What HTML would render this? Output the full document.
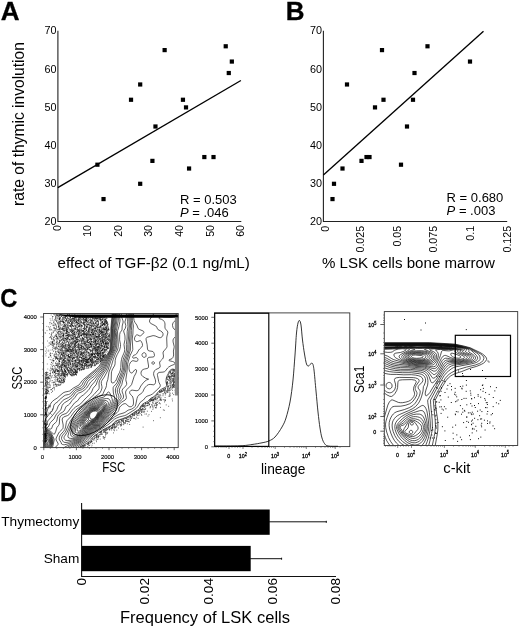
<!DOCTYPE html><html><head><meta charset="utf-8"><title>Figure</title>
<style>html,body{margin:0;padding:0;background:#fff}svg{display:block}text{font-family:"Liberation Sans",Arial,Helvetica,sans-serif;fill:#000}</style></head><body>
<svg width="520" height="629" viewBox="0 0 520 629">
<rect width="520" height="629" fill="#fff"/>
<text x="0.8" y="19.6" font-size="26" font-weight="bold" fill="#000" stroke="#000" stroke-width="0.3">A</text>
<path d="M57.9 30.7 V221.5 H241.3" fill="none" stroke="#222" stroke-width="1.1"/>
<text x="56.5" y="225.3" font-size="10.8" text-anchor="end">20</text>
<text x="56.5" y="187.1" font-size="10.8" text-anchor="end">30</text>
<text x="56.5" y="148.9" font-size="10.8" text-anchor="end">40</text>
<text x="56.5" y="110.7" font-size="10.8" text-anchor="end">50</text>
<text x="56.5" y="72.5" font-size="10.8" text-anchor="end">60</text>
<text x="56.5" y="34.3" font-size="10.8" text-anchor="end">70</text>
<text transform="translate(60.8,225.0) rotate(-90)" font-size="10.6" text-anchor="end">0</text>
<text transform="translate(91.3,225.0) rotate(-90)" font-size="10.6" text-anchor="end">10</text>
<text transform="translate(121.9,225.0) rotate(-90)" font-size="10.6" text-anchor="end">20</text>
<text transform="translate(152.4,225.0) rotate(-90)" font-size="10.6" text-anchor="end">30</text>
<text transform="translate(183.0,225.0) rotate(-90)" font-size="10.6" text-anchor="end">40</text>
<text transform="translate(213.6,225.0) rotate(-90)" font-size="10.6" text-anchor="end">50</text>
<text transform="translate(244.1,225.0) rotate(-90)" font-size="10.6" text-anchor="end">60</text>
<rect x="95.32" y="162.60" width="4.2" height="4.2" fill="#000"/>
<rect x="101.43" y="196.98" width="4.2" height="4.2" fill="#000"/>
<rect x="128.92" y="97.66" width="4.2" height="4.2" fill="#000"/>
<rect x="138.09" y="82.38" width="4.2" height="4.2" fill="#000"/>
<rect x="138.09" y="181.70" width="4.2" height="4.2" fill="#000"/>
<rect x="150.31" y="158.78" width="4.2" height="4.2" fill="#000"/>
<rect x="153.36" y="124.40" width="4.2" height="4.2" fill="#000"/>
<rect x="162.53" y="48.00" width="4.2" height="4.2" fill="#000"/>
<rect x="180.85" y="97.66" width="4.2" height="4.2" fill="#000"/>
<rect x="183.91" y="105.30" width="4.2" height="4.2" fill="#000"/>
<rect x="186.97" y="166.42" width="4.2" height="4.2" fill="#000"/>
<rect x="202.24" y="154.96" width="4.2" height="4.2" fill="#000"/>
<rect x="211.41" y="154.96" width="4.2" height="4.2" fill="#000"/>
<rect x="223.63" y="44.18" width="4.2" height="4.2" fill="#000"/>
<rect x="226.68" y="70.92" width="4.2" height="4.2" fill="#000"/>
<rect x="229.74" y="59.46" width="4.2" height="4.2" fill="#000"/>
<path d="M57.8 187.6 L240.9 80.5" stroke="#000" stroke-width="1.35" fill="none"/>
<text x="180" y="203.7" font-size="13">R = 0.503</text>
<text x="180" y="217.1" font-size="13"><tspan font-style="italic">P</tspan> = .046</text>
<text transform="translate(23.8,124) rotate(-90)" font-size="15.6" text-anchor="middle">rate of thymic involution</text>
<text x="57.6" y="267.8" font-size="15.2">effect of TGF-β2 (0.1 ng/mL)</text>
<text x="285.8" y="19.6" font-size="26" font-weight="bold" fill="#000" stroke="#000" stroke-width="0.3">B</text>
<path d="M323.4 30.7 V221.5 H507.2" fill="none" stroke="#222" stroke-width="1.1"/>
<text x="322.09999999999997" y="225.3" font-size="10.8" text-anchor="end">20</text>
<text x="322.09999999999997" y="187.1" font-size="10.8" text-anchor="end">30</text>
<text x="322.09999999999997" y="148.9" font-size="10.8" text-anchor="end">40</text>
<text x="322.09999999999997" y="110.7" font-size="10.8" text-anchor="end">50</text>
<text x="322.09999999999997" y="72.5" font-size="10.8" text-anchor="end">60</text>
<text x="322.09999999999997" y="34.3" font-size="10.8" text-anchor="end">70</text>
<text transform="translate(328.5,225.8) rotate(-90)" font-size="10.7" text-anchor="end">0</text>
<text transform="translate(363.8,225.8) rotate(-90)" font-size="10.7" text-anchor="end">0.025</text>
<text transform="translate(400.6,225.8) rotate(-90)" font-size="10.7" text-anchor="end">0.05</text>
<text transform="translate(437.4,225.8) rotate(-90)" font-size="10.7" text-anchor="end">0.075</text>
<text transform="translate(474.2,225.8) rotate(-90)" font-size="10.7" text-anchor="end">0.1</text>
<text transform="translate(511.0,225.8) rotate(-90)" font-size="10.7" text-anchor="end">0.125</text>
<rect x="330.40" y="196.98" width="4.2" height="4.2" fill="#000"/>
<rect x="331.90" y="181.70" width="4.2" height="4.2" fill="#000"/>
<rect x="340.40" y="166.42" width="4.2" height="4.2" fill="#000"/>
<rect x="344.90" y="82.38" width="4.2" height="4.2" fill="#000"/>
<rect x="359.40" y="158.78" width="4.2" height="4.2" fill="#000"/>
<rect x="364.40" y="154.96" width="4.2" height="4.2" fill="#000"/>
<rect x="367.40" y="154.96" width="4.2" height="4.2" fill="#000"/>
<rect x="372.90" y="105.30" width="4.2" height="4.2" fill="#000"/>
<rect x="379.90" y="48.00" width="4.2" height="4.2" fill="#000"/>
<rect x="381.40" y="97.66" width="4.2" height="4.2" fill="#000"/>
<rect x="398.90" y="162.60" width="4.2" height="4.2" fill="#000"/>
<rect x="404.90" y="124.40" width="4.2" height="4.2" fill="#000"/>
<rect x="410.90" y="97.66" width="4.2" height="4.2" fill="#000"/>
<rect x="412.40" y="70.92" width="4.2" height="4.2" fill="#000"/>
<rect x="425.40" y="44.18" width="4.2" height="4.2" fill="#000"/>
<rect x="467.90" y="59.46" width="4.2" height="4.2" fill="#000"/>
<path d="M323.4 175.1 L483.5 31.2" stroke="#000" stroke-width="1.35" fill="none"/>
<text x="446.6" y="202" font-size="13">R = 0.680</text>
<text x="446.6" y="215" font-size="13"><tspan font-style="italic">P</tspan> = .003</text>
<text x="408.4" y="268" font-size="15.1" text-anchor="middle">% LSK cells bone marrow</text>
<text transform="translate(0.2,306.8) scale(0.91,1)" font-size="26" font-weight="bold" fill="#000" stroke="#000" stroke-width="0.3">C</text>
<clipPath id="c1"><rect x="43.6" y="313.5" width="134.6" height="134.10000000000002"/></clipPath>
<g clip-path="url(#c1)">
<path d="M43.6 416.2 45.1 414.9 46.2 413.5 46.8 412.0 48.1 408.0 51.1 403.0 52.3 401.5 54.1 400.0 57.1 398.1 63.1 392.9 65.1 392.0 68.6 391.3 69.6 391.0 73.6 387.9 79.0 385.0 81.9 381.0 83.3 379.5 94.9 370.0 98.7 366.5 99.8 365.0 102.1 361.0 106.8 355.0 109.9 350.0 110.8 336.5 110.9 328.0 112.2 313.5M178.6 370.5 177.1 370.8 174.1 369.3 172.6 369.1 171.1 369.5 170.1 370.3 169.6 371.0 167.0 376.0 166.3 378.0 165.9 381.5 166.7 385.0 166.6 386.0 166.3 386.5 165.1 387.4 162.1 388.8 160.1 390.1 158.1 392.0 155.6 395.2 154.6 396.2 150.7 398.5 147.5 401.5 144.1 403.2 142.6 404.2 141.4 405.5 139.5 408.5 138.1 409.9 134.1 412.4 128.6 416.2 125.1 417.8 117.6 420.3 115.6 421.2 114.2 422.5 112.5 424.5 111.3 425.5 105.6 428.3 101.8 430.5 99.5 432.0 97.1 434.0 94.1 435.9 92.6 437.3 90.2 440.5 88.7 442.0 87.2 443.0 81.1 446.2 79.9 447.0 79.4 448.0M43.6 425.7 44.3 424.0 44.9 420.5 45.5 419.0 47.7 416.0 52.4 410.5 53.1 409.0 53.8 405.5 54.6 404.0 58.0 401.5 59.2 400.0 64.1 395.9 65.6 395.1 68.6 394.5 69.6 394.1 71.1 392.9 73.2 390.5 74.6 389.2 76.1 388.3 79.6 386.8 81.1 385.8 81.9 385.0 83.6 381.5 85.2 379.5 94.6 371.5 96.7 370.0 99.8 367.0 100.8 365.5 102.8 361.5 107.8 354.5 110.5 350.0 111.4 337.0 111.4 328.0 112.9 313.5M178.6 318.0 174.1 321.5 173.3 322.5 172.6 324.0 172.5 325.5 173.0 327.5 174.0 329.0 175.9 330.5 176.6 331.4 177.0 332.5 177.0 333.5 176.6 334.9 176.1 335.9 173.7 338.5 173.0 340.0 173.1 342.0 174.2 346.5 174.1 347.5 173.4 351.0 173.6 355.0 173.3 356.5 172.9 357.5 172.1 358.5 171.1 359.1 169.5 359.5 168.9 360.0 169.1 360.5 169.6 360.8 172.6 361.5 173.8 362.0 174.6 362.6 175.0 363.5 174.8 364.0 174.1 364.5 171.1 365.6 168.6 367.1 167.6 368.0 165.6 370.8 164.6 371.6 163.1 372.1 159.1 372.4 158.1 373.0 157.7 373.5 157.4 374.5 157.5 375.5 158.7 381.5 159.1 382.7 160.3 385.0 160.3 385.5 160.3 386.0 159.8 387.0 157.9 389.0 152.6 393.9 150.6 395.0 147.1 396.2 145.6 397.2 143.4 400.0 141.1 401.6 140.1 402.5 137.4 407.0 136.1 408.5 134.9 409.5 126.2 415.0 124.6 415.6 119.1 417.0 116.6 418.0 114.6 419.1 109.0 424.0 98.2 431.0 94.1 434.0 92.1 435.8 89.1 439.4 87.4 441.0 77.6 447.0 77.1 448.0M43.6 429.1 46.0 426.0 47.4 422.0 48.2 420.5 53.1 414.8 55.6 411.5 56.9 409.5 58.2 406.0 62.6 400.7 64.1 399.6 68.6 397.5 70.6 396.2 71.9 395.0 74.1 391.9 75.6 390.4 77.1 389.6 81.1 388.1 82.6 387.0 84.1 385.0 85.4 382.0 87.2 379.5 88.8 378.0 92.6 375.3 96.0 372.0 98.7 370.0 101.5 366.5 103.9 361.5 107.9 355.5 111.0 350.0 112.0 337.5 111.9 328.5 113.5 313.5M176.5 313.5 176.2 314.5 175.3 315.5 173.7 316.5 172.3 317.0 170.6 317.2 163.6 317.0 162.6 316.7 160.6 315.5 160.1 315.7 159.1 318.0 159.1 318.5 159.6 318.8 161.6 319.3 162.6 319.8 164.1 321.4 164.7 322.5 165.0 324.0 164.9 327.0 165.1 328.3 165.6 329.1 167.3 331.0 167.8 332.0 167.8 333.0 167.0 336.0 166.7 338.0 167.0 346.5 166.7 347.5 166.2 348.5 164.1 350.5 163.2 352.0 163.0 353.0 163.5 356.0 163.2 358.0 162.5 359.0 160.4 361.0 159.7 362.0 159.6 363.0 160.2 366.0 160.1 367.0 159.2 368.0 155.6 369.7 154.6 370.7 153.9 372.0 153.6 373.5 153.7 375.0 155.3 379.5 155.6 381.0 155.5 382.5 154.9 384.0 154.4 384.5 153.6 384.8 150.1 384.4 148.6 384.6 147.1 385.4 145.5 387.0 144.1 388.9 143.0 391.5 142.3 392.5 141.1 393.6 138.6 395.3 137.7 396.5 137.0 398.5 135.7 405.0 135.0 406.5 133.6 408.0 131.6 409.1 128.1 410.2 125.1 412.3 124.1 412.8 119.1 414.3 114.6 416.8 103.1 426.3 96.8 430.5 94.1 432.6 88.1 438.3 85.6 440.5 83.1 442.2 75.2 447.0 74.4 448.0M153.9 364.0 154.6 363.0 154.5 362.5 153.6 361.8 153.1 361.8 152.3 362.0 152.0 362.5 152.1 363.7 152.6 364.2 153.1 364.3 153.9 364.0M43.6 430.8 45.1 429.2 48.1 427.0 48.8 426.0 49.6 423.9 50.4 422.5 54.1 418.9 55.4 416.0 56.6 414.0 60.6 410.0 61.1 409.0 62.1 405.6 63.1 404.0 64.6 402.7 68.1 400.6 72.1 397.5 73.4 396.0 75.3 393.0 76.6 391.7 78.1 390.9 81.6 389.7 84.1 388.0 86.3 385.0 87.6 382.0 89.1 380.0 94.1 376.3 97.6 372.5 100.4 370.0 102.5 367.0 104.9 361.5 108.6 355.5 111.6 350.0 112.6 338.0 112.5 328.5 114.2 313.5M153.6 313.5 153.1 315.0 150.8 318.0 149.9 319.5 149.5 321.0 149.6 322.0 150.1 322.8 150.9 323.5 155.8 326.0 156.7 327.0 157.5 329.0 158.1 329.7 160.6 330.9 162.1 332.0 163.0 333.5 163.0 335.0 162.6 336.0 162.1 336.7 161.6 337.1 160.6 337.6 159.1 337.6 155.1 335.9 153.1 335.6 147.1 337.3 146.6 337.6 146.1 338.4 146.1 340.0 147.1 344.5 147.5 349.0 147.9 350.0 148.2 350.5 149.1 350.9 152.1 351.3 153.1 351.7 153.6 352.3 154.1 353.4 154.5 355.5 154.1 356.5 153.1 357.0 149.1 357.3 148.4 357.5 147.8 358.0 147.5 359.5 148.6 366.0 148.4 367.5 148.1 368.0 147.1 368.5 144.5 369.0 143.1 369.5 141.8 370.5 141.1 372.0 141.0 373.5 141.3 374.5 141.8 375.5 142.6 376.3 145.6 378.2 147.1 378.7 148.7 379.0 148.2 379.5 147.1 379.7 146.1 380.2 143.6 382.4 140.8 386.0 139.1 389.5 138.1 390.3 137.1 390.7 136.1 390.7 132.1 390.1 130.8 390.5 129.9 391.5 129.6 392.5 129.8 393.5 130.1 394.0 132.2 396.0 132.7 397.0 133.0 398.0 133.4 400.0 133.5 403.0 133.4 404.0 133.1 405.1 132.4 406.0 131.7 406.5 130.1 406.8 129.1 406.6 128.1 406.0 126.6 404.3 125.6 403.7 124.1 403.7 122.6 404.5 120.7 406.0 119.8 407.0 119.3 408.0 118.7 410.5 118.1 411.5 117.2 412.5 113.6 415.4 110.3 418.5 107.1 421.1 102.6 425.4 94.6 431.0 89.1 436.0 82.9 441.0 72.8 447.0 71.9 448.0M145.5 357.0 145.9 356.5 146.1 356.0 146.0 354.5 145.6 353.5 145.2 353.0 144.6 352.7 143.1 353.0 142.5 353.5 142.0 354.5 142.1 355.5 142.5 356.5 143.1 357.0 144.1 357.4 145.5 357.0M43.6 432.0 45.1 430.4 46.6 429.5 48.1 429.1 50.9 429.0 51.6 428.5 52.9 425.0 53.9 424.0 55.6 422.6 56.5 421.5 57.0 420.0 57.7 416.5 58.6 414.9 60.1 413.6 62.8 412.0 64.0 411.0 64.6 410.0 65.8 407.0 66.6 406.1 68.6 404.9 69.6 404.0 72.0 400.5 74.9 397.5 77.3 394.0 78.6 393.1 81.1 392.2 82.6 391.4 85.1 389.5 86.7 388.0 90.6 382.1 94.6 378.4 99.5 372.5 101.9 370.0 103.1 368.1 104.1 366.2 106.2 361.0 109.4 355.5 112.3 350.0 113.3 338.5 113.1 329.0 114.5 318.0 114.8 313.5M133.4 313.5 133.6 317.2 134.1 320.6 135.1 322.7 136.8 325.0 138.1 328.5 139.1 329.3 143.1 331.0 143.7 331.5 144.0 332.0 143.9 332.5 142.8 334.0 140.6 335.8 139.6 335.9 137.6 334.9 136.6 334.9 135.6 335.7 134.6 337.7 134.5 339.0 134.6 339.8 135.1 340.7 135.6 341.2 136.6 341.6 137.6 341.5 140.1 340.6 140.6 340.7 141.1 341.2 142.3 343.5 142.5 345.5 141.8 347.0 139.6 349.0 138.8 350.0 136.6 353.8 135.6 354.6 133.6 355.4 132.8 356.5 132.7 357.5 133.1 358.1 133.6 358.2 136.1 357.5 137.1 358.0 137.6 358.5 138.0 359.5 137.9 360.5 137.1 361.2 136.1 361.4 133.1 360.7 132.1 360.9 130.6 362.2 129.4 364.5 129.0 366.5 129.0 369.0 129.6 371.2 130.1 372.2 130.6 372.7 131.1 373.0 132.1 372.9 132.6 372.5 134.6 370.0 135.6 369.5 136.1 369.6 136.5 370.0 136.6 371.0 136.1 372.9 134.1 376.6 131.6 384.5 130.4 386.0 126.9 389.5 125.9 391.0 125.6 392.0 125.6 393.0 126.4 397.5 126.0 399.0 125.1 400.0 121.6 402.2 119.6 403.9 117.7 406.5 116.0 410.5 115.1 411.9 109.5 417.5 106.1 420.5 101.6 425.0 94.6 430.0 89.1 434.9 85.6 437.5 81.6 440.8 70.4 447.0 69.5 448.0M43.6 433.1 44.6 431.8 45.6 431.0 47.1 430.3 48.1 430.3 49.6 430.6 50.6 431.2 53.6 434.2 54.1 434.2 54.6 433.9 55.6 431.8 56.9 427.5 58.6 425.4 59.1 424.5 59.4 423.0 59.6 418.4 60.0 417.0 60.6 416.1 62.1 414.9 65.9 413.5 67.4 412.5 69.9 409.0 74.6 402.9 77.6 400.8 80.4 397.0 83.6 394.8 88.1 390.5 89.3 389.0 91.0 386.0 94.6 381.9 97.4 377.5 103.3 370.0 104.9 367.0 107.4 360.5 113.0 350.0 113.6 345.5 114.1 339.0 113.8 329.5 115.3 318.5 115.6 313.5M132.2 313.5 132.4 320.5 133.4 326.0 133.0 330.0 132.9 334.0 132.2 339.0 132.8 349.5 132.5 350.5 130.1 355.5 128.1 362.0 127.6 364.2 126.9 372.5 125.8 379.5 126.0 381.0 126.7 383.0 126.6 384.5 125.7 386.0 122.7 389.0 122.1 390.5 122.2 392.0 123.2 394.5 123.5 396.0 123.5 397.0 123.3 398.0 122.6 399.0 119.6 401.8 117.6 404.3 116.5 406.0 114.9 409.5 113.9 411.0 109.0 416.5 101.1 424.4 94.6 429.1 89.1 434.0 84.8 437.0 81.1 440.1 79.1 441.3 67.8 447.0 67.1 448.0M55.4 448.0 55.4 447.0 57.3 445.5 58.0 444.5 58.2 444.0 57.9 443.0 56.1 440.0 56.0 439.0 56.2 438.0 58.7 433.0 59.6 431.8 62.1 429.5 62.8 428.5 63.1 427.5 63.2 425.0 62.2 420.0 62.3 419.0 62.6 418.0 63.6 417.0 67.6 415.5 69.1 414.5 72.4 410.0 73.8 408.5 75.6 407.0 79.1 405.0 80.6 403.9 85.0 399.0 90.6 393.6 91.6 392.0 93.0 388.5 94.1 387.0 96.0 385.0 97.6 380.5 98.6 378.5 103.1 372.0 104.7 370.0 105.7 368.0 108.2 361.0 110.8 356.0 112.7 352.0 113.8 350.0 114.5 345.5 114.9 339.5 114.5 330.0 116.0 319.5 116.3 313.5M131.2 313.5 131.3 320.5 131.8 326.0 131.3 330.5 131.3 334.5 130.4 346.0 130.4 350.0 126.7 361.5 125.8 370.0 124.8 374.0 122.8 380.0 121.8 384.5 120.0 388.0 119.3 390.0 119.4 392.0 121.1 396.0 121.1 397.0 120.8 398.0 117.1 403.0 113.1 410.0 108.1 416.0 100.5 424.0 94.1 428.7 88.6 433.5 84.2 436.5 80.1 439.8 78.1 440.9 65.1 446.8 64.7 447.0 64.4 448.0M43.6 434.1 44.6 432.7 45.6 431.8 46.6 431.3 47.6 431.1 48.6 431.2 49.6 431.7 50.6 432.5 51.7 434.0 53.7 438.0 54.2 440.0 52.9 446.0 52.5 447.0 51.8 448.0M130.2 313.5 130.2 321.0 130.6 326.0 130.0 330.5 129.9 336.0 129.1 345.0 129.1 350.0 128.0 354.0 125.6 360.6 125.3 362.5 124.7 369.0 123.9 372.5 121.2 379.5 119.9 384.0 118.1 387.5 117.4 389.5 117.3 391.0 117.5 392.5 118.7 395.5 118.9 396.5 118.9 397.5 118.5 398.5 116.1 402.5 113.4 407.5 112.1 409.5 106.9 416.0 101.5 422.0 99.1 424.3 93.6 428.3 88.6 432.7 83.7 436.0 80.6 438.5 79.1 439.5 71.6 442.6 67.1 444.1 64.6 444.7 63.6 444.7 62.6 444.5 61.6 444.0 61.1 442.5 59.5 440.0 59.2 439.0 59.3 437.5 59.8 436.0 60.6 434.6 63.6 431.3 64.8 429.5 65.6 427.0 66.3 422.5 67.1 420.5 70.6 416.8 74.0 412.0 75.3 410.5 77.0 409.0 82.1 405.5 86.1 401.8 88.4 400.0 94.0 394.5 96.1 392.0 98.1 390.0 99.0 388.5 99.2 387.5 99.0 383.0 99.6 380.5 104.1 373.0 106.3 370.0 107.5 367.0 109.4 361.0 111.9 356.0 113.6 352.0 114.8 350.0 115.6 346.0 115.8 340.5 115.8 337.5 115.3 332.5 115.3 330.5 117.0 320.0 117.2 313.5M43.6 435.2 44.6 433.6 45.6 432.6 46.6 432.1 47.6 431.9 48.6 432.1 49.6 432.6 50.6 433.7 51.5 435.0 52.8 438.5 53.0 441.0 52.3 445.0 51.5 447.0 50.8 448.0M129.2 313.5 129.0 321.0 129.4 326.0 128.8 331.0 128.6 337.0 127.8 344.5 127.9 350.0 126.8 354.0 124.4 360.0 124.1 362.0 123.7 368.0 123.3 370.0 122.6 372.4 120.0 379.0 118.6 383.1 116.2 387.0 115.6 388.5 115.4 390.0 115.5 392.0 115.8 393.5 116.7 396.0 116.8 397.5 116.2 399.5 113.9 404.5 111.8 408.0 107.4 414.0 100.6 422.0 98.5 424.0 93.1 427.9 88.1 432.3 83.2 435.5 79.6 438.3 77.6 439.4 71.6 441.3 68.6 442.1 66.1 442.5 64.1 442.3 63.6 442.1 63.1 441.5 61.8 439.5 61.5 438.5 61.7 437.0 62.6 435.2 64.9 432.5 65.9 431.0 68.9 424.0 70.4 421.0 71.7 419.0 76.5 412.5 78.2 410.5 86.6 403.4 91.2 400.0 94.1 397.4 98.8 394.0 100.1 392.5 101.2 390.5 102.0 388.0 101.9 386.5 101.3 383.5 101.4 381.5 102.1 380.2 104.3 377.0 108.0 370.0 110.6 361.5 114.6 352.3 116.0 350.0 116.5 348.0 116.8 345.0 116.8 339.5 116.2 331.5 118.3 320.5 118.2 313.5M43.6 436.4 44.3 435.0 45.1 433.8 46.1 433.0 47.1 432.7 48.1 432.7 49.1 433.2 50.1 434.1 51.1 435.5 52.2 438.5 52.4 441.5 52.1 443.5 51.5 445.5 50.7 447.0 49.9 448.0M45.2 448.0 44.4 447.0 43.6 445.4M128.1 313.5 127.6 321.5 128.0 326.5 127.2 331.5 127.1 338.0 126.3 344.5 126.5 350.0 125.6 353.5 123.8 357.5 123.2 359.5 122.8 361.5 122.5 367.5 122.0 370.0 121.2 372.5 117.1 382.5 116.1 384.0 113.7 386.5 113.2 387.5 113.1 389.0 113.4 393.0 114.4 397.0 114.5 398.5 113.8 401.5 112.6 404.5 111.2 407.0 106.8 413.5 100.2 421.5 98.1 423.5 92.7 427.5 88.1 431.5 82.7 435.0 79.4 437.5 77.6 438.5 75.1 439.3 70.1 440.3 67.6 440.5 65.6 440.3 64.7 439.5 64.1 438.5 64.0 437.5 64.3 436.5 67.0 432.5 71.7 422.0 74.0 418.5 79.9 411.0 87.1 404.5 95.6 398.4 102.1 394.9 103.1 393.6 104.6 390.1 105.8 388.0 106.5 385.5 106.6 383.0 107.8 379.5 109.0 372.0 111.5 365.5 113.2 359.5 115.6 353.3 117.5 350.0 118.1 347.5 118.3 345.0 117.5 332.0 117.7 330.5 118.9 326.5 119.9 321.5 120.0 320.0 119.5 316.0 119.5 313.5M43.6 437.8 44.3 436.0 45.1 434.7 46.1 433.8 47.1 433.5 48.1 433.5 49.1 434.0 50.1 435.1 50.9 436.5 51.8 439.5 51.9 441.0 51.7 443.0 51.3 444.5 50.6 446.1 49.6 447.4 48.7 448.0M46.2 448.0 45.5 447.5 44.6 446.4 43.6 444.1M126.5 313.5 126.1 318.0 124.9 322.0 125.8 325.5 125.7 327.0 125.1 328.7 123.8 330.5 123.7 331.0 123.8 332.0 124.8 335.0 125.0 337.0 125.0 339.5 124.0 344.5 124.7 349.5 124.6 351.0 124.0 353.0 122.2 357.0 121.5 359.5 121.1 362.0 120.8 367.5 120.4 370.0 119.6 372.3 117.7 376.0 116.6 379.1 115.6 381.0 114.1 382.4 113.1 382.9 112.1 383.0 111.6 382.5 111.2 380.5 111.4 373.0 111.6 371.5 112.6 369.0 114.4 366.0 114.8 365.0 115.1 363.5 115.2 360.5 115.7 358.0 117.1 354.7 119.6 350.0 120.5 346.5 120.5 344.5 119.6 339.8 119.7 334.5 120.2 332.5 122.0 330.0 122.2 326.0 123.2 322.0 122.9 320.5 121.6 317.0 121.3 315.0 121.3 313.5M72.6 438.5 70.6 438.4 68.8 438.0 68.0 437.0 67.9 436.0 69.1 431.5 70.0 429.0 72.8 422.5 74.7 419.5 81.6 411.0 87.6 405.4 89.6 403.9 97.1 399.2 99.6 398.1 103.1 397.3 104.6 396.6 105.7 395.5 107.6 392.4 108.1 392.0 108.6 392.0 109.1 392.1 109.6 392.7 110.1 393.7 112.1 398.8 112.3 400.0 112.3 401.5 111.7 403.5 110.8 405.5 107.1 411.5 105.4 414.0 100.2 420.5 98.3 422.5 96.5 424.0 92.3 427.0 87.6 431.1 78.1 437.4 75.6 438.2 72.6 438.5M43.6 440.4 44.1 437.7 45.1 435.7 46.1 434.7 46.6 434.4 47.6 434.2 48.4 434.5 49.1 434.9 50.3 436.5 51.1 438.5 51.4 441.0 51.1 443.5 50.2 445.5 49.1 446.9 47.6 447.5 46.1 447.1 45.0 446.0 44.0 444.0 43.6 441.5M76.1 437.1 74.6 437.2 73.1 437.1 72.1 436.7 71.2 436.0 70.7 435.0 70.6 434.0 70.9 431.0 73.4 424.0 74.4 422.0 82.6 411.5 85.5 408.5 88.6 405.8 97.6 400.4 100.6 399.3 106.6 398.5 108.1 398.6 109.1 399.1 110.1 400.5 110.4 401.5 110.3 403.0 109.5 405.0 107.0 410.0 105.6 412.4 99.3 420.5 96.8 423.0 92.1 426.4 87.1 430.6 82.1 433.7 78.6 436.1 76.1 437.1M48.1 446.5 47.1 446.6 46.6 446.5 45.6 445.8 44.6 444.0 44.1 441.9 44.2 439.5 44.7 437.5 45.7 436.0 46.3 435.5 47.1 435.2 47.6 435.1 48.6 435.5 49.5 436.5 50.3 438.0 50.9 440.0 50.8 442.0 50.3 444.0 49.5 445.5 48.1 446.5M75.6 436.0 74.1 435.8 73.1 435.2 72.6 434.5 72.2 433.0 72.4 430.5 74.2 425.0 75.0 423.0 76.0 421.5 84.8 410.5 87.6 407.8 89.8 406.0 99.1 401.0 101.6 400.4 104.1 400.3 106.1 400.6 107.6 401.4 108.3 402.5 108.3 404.0 107.6 406.5 106.1 410.0 104.3 413.0 98.1 420.9 96.1 422.8 92.1 425.6 86.6 430.2 78.1 435.3 76.6 435.9 75.6 436.0M48.1 445.6 47.1 445.7 45.9 445.0 45.1 443.8 44.6 441.9 44.6 440.0 45.1 438.1 46.1 436.6 47.1 436.1 48.1 436.2 49.1 437.1 49.9 438.5 50.3 440.0 50.3 442.0 49.9 443.5 49.1 444.8 48.1 445.6M76.6 434.6 75.6 434.6 74.6 434.1 74.2 433.5 73.9 432.5 74.0 430.0 75.6 424.5 77.1 422.0 86.1 410.5 88.6 408.1 90.6 406.6 99.1 402.3 100.6 401.8 102.6 401.6 104.6 401.9 105.7 402.5 106.4 403.5 106.7 405.0 106.1 407.5 105.2 410.0 103.7 412.5 97.6 420.5 95.6 422.3 91.6 425.1 86.6 429.3 78.2 434.0 76.6 434.6M48.1 444.5 47.1 444.7 46.1 444.0 45.5 443.0 45.2 441.5 45.2 440.0 45.6 438.7 46.1 437.9 47.1 437.2 48.1 437.4 48.6 437.8 49.1 438.5 49.6 440.0 49.7 441.5 49.5 442.5 49.1 443.5 48.1 444.5M77.6 433.0 76.6 433.1 76.1 433.0 75.6 432.5 75.3 431.5 75.6 429.0 76.6 424.9 78.0 422.5 85.0 413.0 87.1 410.5 89.1 408.6 91.1 407.2 96.1 405.1 99.6 403.2 101.1 402.7 102.6 402.7 103.9 403.0 104.7 403.5 105.3 404.5 105.5 406.0 105.1 408.0 104.4 410.0 103.1 412.3 97.1 420.2 95.6 421.7 91.6 424.4 86.6 428.5 84.6 429.7 77.6 433.0M47.6 443.7 47.1 443.6 46.6 443.4 46.1 442.7 45.8 441.5 45.8 440.5 46.1 439.2 46.6 438.5 47.1 438.3 47.6 438.2 48.1 438.5 48.6 439.1 49.1 440.5 49.1 441.5 48.8 442.5 48.1 443.4 47.6 443.7M79.1 431.0 78.1 431.2 77.6 431.1 77.1 430.1 77.3 427.0 78.0 424.5 78.8 423.0 85.5 413.5 87.5 411.0 89.1 409.4 91.1 408.0 92.6 407.3 96.2 406.0 100.0 404.0 102.1 403.6 103.6 404.2 104.3 405.0 104.6 406.5 104.4 408.0 103.8 410.0 102.6 412.0 96.7 420.0 95.0 421.5 91.1 424.1 86.6 427.9 84.1 429.1 79.1 431.0M48.1 442.0 47.6 442.4 47.1 442.4 46.6 441.7 46.5 440.5 47.1 439.5 47.6 439.5 48.1 440.0 48.3 441.0 48.1 442.0M81.1 429.0 80.1 429.0 79.6 428.7 79.2 428.0 78.9 426.5 79.3 424.5 81.3 421.0 86.6 413.0 88.3 411.0 89.9 409.5 91.6 408.4 96.6 406.7 100.1 404.9 101.6 404.6 102.6 404.9 103.1 405.3 103.6 406.0 103.8 407.0 103.6 408.5 103.1 410.0 102.1 411.8 96.6 419.5 94.6 421.2 90.6 423.9 86.6 427.2 84.1 428.4 81.1 429.0M84.6 427.6 82.6 427.8 81.4 427.5 81.0 427.0 80.5 426.0 80.5 424.5 81.1 423.0 81.9 421.5 88.1 412.0 90.1 410.0 92.1 408.8 96.6 407.5 100.6 405.7 101.6 405.7 102.2 406.0 102.7 406.5 103.0 407.5 103.0 408.5 102.5 410.0 101.7 411.5 96.6 418.8 94.6 420.7 90.6 423.2 87.1 426.3 84.6 427.6M85.6 426.6 84.1 426.9 82.6 426.6 81.8 425.5 81.8 424.0 82.8 421.5 85.2 418.0 87.3 414.0 88.6 412.2 90.6 410.3 92.6 409.2 97.1 408.0 100.1 406.9 101.1 406.9 101.6 407.1 102.1 407.9 102.2 408.5 102.1 409.5 101.7 410.5 96.4 418.5 94.6 420.2 90.7 422.5 87.4 425.5 85.6 426.6M85.1 426.1 84.1 426.1 83.2 425.5 82.8 424.5 83.0 423.0 83.7 421.5 86.3 418.0 88.0 414.0 89.4 412.0 91.1 410.5 93.3 409.5 99.6 408.1 100.6 408.1 101.0 408.5 101.2 409.5 100.7 411.0 97.1 416.8 95.6 418.8 94.1 420.0 90.1 422.3 87.1 425.1 86.1 425.7 85.1 426.1M86.1 425.1 85.1 425.3 84.2 425.0 83.8 424.0 83.9 423.0 84.6 421.5 87.2 418.5 88.4 414.5 89.6 412.5 91.3 411.0 93.5 410.0 98.6 409.3 99.8 409.5 100.1 410.0 99.7 411.5 97.1 416.1 95.6 418.2 93.6 419.8 90.1 421.4 87.6 424.0 86.1 425.1M86.1 424.1 85.6 424.2 85.2 424.0 85.0 423.5 85.1 422.9 85.6 422.0 86.1 421.5 88.0 420.5 88.5 420.0 88.7 415.5 89.3 414.0 90.3 412.5 91.6 411.4 93.6 410.6 96.6 410.2 98.4 410.5 98.8 411.0 98.8 411.5 98.5 412.5 96.6 416.0 95.2 418.0 94.1 418.9 93.1 419.5 89.1 420.6 88.6 421.2 87.5 423.0 86.1 424.1M92.6 419.0 91.6 419.1 90.9 419.0 90.0 418.0 89.5 416.0 89.6 415.0 90.1 413.7 91.1 412.5 93.1 411.3 95.6 411.0 97.1 411.3 97.6 411.9 97.6 412.5 97.1 414.0 96.1 416.0 94.6 417.9 93.6 418.6 92.6 419.0" fill="none" stroke="#111" stroke-width="0.68"/>
<path d="M59.8 375.0h0.65M88.3 321.2h0.65M83.0 347.8h0.65M102.0 324.9h0.65M64.0 370.9h0.65M88.3 332.3h0.65M81.9 345.9h0.65M71.2 330.9h0.65M47.1 382.9h0.65M91.4 351.1h0.65M49.2 381.2h0.65M103.1 356.4h0.65M77.5 362.3h0.65M88.8 353.5h0.65M92.7 316.5h0.65M60.7 365.2h0.65M65.2 354.8h0.65M63.9 356.3h0.65M64.6 338.9h0.65M59.9 335.0h0.65M90.1 325.4h0.65M59.0 327.6h0.65M99.3 334.6h0.65M97.2 352.7h0.65M62.0 352.8h0.65M71.8 359.9h0.65M105.2 338.9h0.65M78.3 346.4h0.65M78.7 360.4h0.65M84.4 352.3h0.65M95.6 353.4h0.65M78.9 361.4h0.65M100.4 323.7h0.65M65.0 349.3h0.65M67.9 335.4h0.65M69.2 323.0h0.65M95.6 356.6h0.65M85.1 362.4h0.65M74.5 341.5h0.65M89.9 322.0h0.65M61.4 366.0h0.65M81.3 325.6h0.65M102.1 334.1h0.65M99.5 327.6h0.65M96.7 318.1h0.65M105.6 320.9h0.65M60.1 334.2h0.65M70.1 355.2h0.65M67.2 360.9h0.65M78.2 368.2h0.65M103.2 330.7h0.65M78.2 363.7h0.65M56.4 344.0h0.65M82.7 349.3h0.65M82.6 343.9h0.65M55.5 354.4h0.65M100.5 358.9h0.65M100.3 341.1h0.65M61.2 335.0h0.65M64.8 361.5h0.65M63.4 354.0h0.65M66.2 362.9h0.65M94.0 347.1h0.65M79.4 326.7h0.65M85.7 334.1h0.65M86.8 365.3h0.65M92.8 354.3h0.65M94.7 353.7h0.65M70.7 374.7h0.65M51.6 344.3h0.65M92.0 334.7h0.65M83.1 330.4h0.65M89.3 347.6h0.65M76.5 372.7h0.65M56.9 373.4h0.65M85.2 319.7h0.65M59.5 322.7h0.65M105.3 350.2h0.65M89.9 329.1h0.65M76.1 326.2h0.65M79.5 361.3h0.65M64.2 366.1h0.65M91.5 355.1h0.65M53.6 365.6h0.65M57.9 333.1h0.65M55.2 317.1h0.65M55.2 369.0h0.65M90.4 319.7h0.65M58.6 324.6h0.65M55.0 383.8h0.65M63.9 342.0h0.65M66.9 324.5h0.65M55.4 318.1h0.65M106.4 323.8h0.65M100.1 326.9h0.65M105.2 333.6h0.65M68.0 360.5h0.65M61.9 333.0h0.65M69.6 368.6h0.65M90.9 316.6h0.65M66.1 355.5h0.65M51.1 377.8h0.65M82.7 315.3h0.65M107.8 338.7h0.65M79.4 335.1h0.65M49.4 406.5h0.65M102.9 323.6h0.65M57.7 374.4h0.65M92.0 322.7h0.65M76.0 322.0h0.65M92.5 361.4h0.65M84.0 338.0h0.65M72.5 323.4h0.65M104.7 346.7h0.65M63.5 372.2h0.65M72.6 352.7h0.65M93.3 346.2h0.65M63.9 360.1h0.65M68.7 332.1h0.65M74.6 373.0h0.65M62.9 365.9h0.65M97.3 347.3h0.65M55.1 319.6h0.65M66.4 319.7h0.65M96.9 360.9h0.65M97.3 341.7h0.65M80.5 345.3h0.65M71.4 372.1h0.65M71.0 353.4h0.65M107.3 331.4h0.65M78.5 360.2h0.65M84.5 317.4h0.65M80.3 368.7h0.65M106.2 349.6h0.65M62.7 328.7h0.65M59.3 336.4h0.65M61.8 375.2h0.65M79.3 356.9h0.65M62.6 328.7h0.65M64.8 316.4h0.65M81.6 366.0h0.65M73.3 373.9h0.65M99.4 332.8h0.65M94.5 324.4h0.65M73.2 330.4h0.65M65.4 370.8h0.65M65.1 354.2h0.65M61.9 327.8h0.65M92.3 352.2h0.65M74.0 367.6h0.65M78.9 363.5h0.65M95.3 320.7h0.65M68.3 338.1h0.65M68.0 347.7h0.65M70.4 355.8h0.65M84.6 329.6h0.65M65.3 345.7h0.65M89.1 327.5h0.65M69.1 367.3h0.65M83.6 323.5h0.65M56.3 344.7h0.65M77.8 362.5h0.65M87.6 362.9h0.65M66.0 360.9h0.65M102.3 336.6h0.65M50.0 385.9h0.65M81.9 323.6h0.65M92.7 336.8h0.65M72.6 349.0h0.65M101.5 338.2h0.65M105.8 327.4h0.65M70.3 337.8h0.65M55.9 342.1h0.65M89.8 352.1h0.65M58.7 363.6h0.65M84.2 333.7h0.65M70.1 374.5h0.65M85.5 363.6h0.65M89.3 338.9h0.65M82.5 326.1h0.65M73.6 369.2h0.65M98.4 336.8h0.65M93.4 346.7h0.65M67.2 367.7h0.65M81.2 357.2h0.65M80.6 349.8h0.65M55.5 358.2h0.65M57.4 370.6h0.65M70.3 321.4h0.65M75.5 362.7h0.65M107.5 334.9h0.65M77.8 336.4h0.65M61.9 371.0h0.65M61.1 375.0h0.65M69.7 319.2h0.65M86.3 337.7h0.65M68.7 318.9h0.65M92.7 330.7h0.65M102.3 329.5h0.65M84.4 343.5h0.65M65.7 339.2h0.65M96.8 352.7h0.65M71.5 324.7h0.65M83.5 346.5h0.65M81.6 343.7h0.65M72.2 348.6h0.65M71.4 315.3h0.65M103.7 319.4h0.65M64.2 367.0h0.65M64.2 328.9h0.65M81.0 357.8h0.65M83.7 317.2h0.65M92.7 342.9h0.65M61.1 354.1h0.65M75.5 336.7h0.65M84.4 341.1h0.65M81.3 352.1h0.65M62.1 338.6h0.65M92.0 325.6h0.65M75.6 356.4h0.65M72.6 336.4h0.65M104.3 335.8h0.65M108.6 329.5h0.65M103.3 327.7h0.65M106.4 346.8h0.65M71.9 349.4h0.65M105.2 342.5h0.65M106.6 349.5h0.65M108.3 345.6h0.65M102.5 341.3h0.65M105.8 339.7h0.65M66.1 348.0h0.65M70.4 370.9h0.65M80.9 327.1h0.65M70.4 352.7h0.65M83.2 342.1h0.65M66.8 333.0h0.65M70.9 351.5h0.65M75.9 327.5h0.65M69.3 371.8h0.65M68.9 354.5h0.65M76.8 364.6h0.65M51.7 411.1h0.65M96.5 343.2h0.65M69.1 326.0h0.65M107.9 338.3h0.65M73.5 372.5h0.65M62.7 340.3h0.65M69.8 372.3h0.65M65.1 351.7h0.65M95.2 347.2h0.65M83.3 359.4h0.65M72.5 338.3h0.65M86.9 365.4h0.65M76.7 372.6h0.65M98.8 335.5h0.65M91.0 336.7h0.65M81.4 346.5h0.65M82.6 369.7h0.65M78.3 352.5h0.65M80.5 354.7h0.65M67.0 314.8h0.65M82.4 340.7h0.65M85.9 320.9h0.65M53.5 346.0h0.65M82.3 330.7h0.65M108.3 343.9h0.65M99.7 318.8h0.65M68.4 362.1h0.65M67.6 370.9h0.65M97.8 355.5h0.65M84.6 339.6h0.65M57.0 377.9h0.65M102.3 332.5h0.65M94.1 357.9h0.65M87.1 337.6h0.65M87.7 356.4h0.65M62.5 335.8h0.65M78.6 355.9h0.65M100.3 317.5h0.65M52.4 372.9h0.65M69.5 372.7h0.65M94.2 323.3h0.65M85.2 349.3h0.65M83.0 353.0h0.65M85.4 350.1h0.65M96.3 336.5h0.65M98.1 337.2h0.65M71.5 338.9h0.65M57.1 363.9h0.65M77.1 331.2h0.65M86.5 345.1h0.65M98.2 353.7h0.65M55.5 384.3h0.65M80.8 361.7h0.65M102.9 339.4h0.65M107.2 344.0h0.65M96.7 359.8h0.65M90.1 346.7h0.65M48.7 343.0h0.65M91.2 357.1h0.65M54.4 375.3h0.65M92.8 349.9h0.65M97.6 330.1h0.65M83.1 358.6h0.65M84.3 343.1h0.65M82.6 346.4h0.65M84.5 356.1h0.65M95.7 331.3h0.65M48.8 384.6h0.65M100.0 347.9h0.65M103.2 329.3h0.65M50.5 322.3h0.65M100.6 341.7h0.65M66.6 367.4h0.65M98.2 355.8h0.65M66.7 333.8h0.65M101.6 328.6h0.65M77.2 358.6h0.65M66.0 348.0h0.65M90.7 335.8h0.65M82.2 368.1h0.65M66.5 330.7h0.65M99.0 344.7h0.65M56.0 363.7h0.65M53.9 372.6h0.65M79.5 338.3h0.65M51.3 329.4h0.65M62.7 346.0h0.65M50.0 373.1h0.65M74.0 344.6h0.65M90.2 320.4h0.65M69.0 370.7h0.65M87.5 342.6h0.65M67.3 338.8h0.65M60.0 350.7h0.65M61.2 352.9h0.65M83.9 363.9h0.65M93.9 353.3h0.65M72.9 363.3h0.65M73.6 323.5h0.65M54.3 340.9h0.65M62.1 364.9h0.65M67.2 335.6h0.65M78.5 358.7h0.65M65.4 338.3h0.65M83.6 324.0h0.65M105.9 328.7h0.65M100.5 348.1h0.65M85.3 345.1h0.65M83.6 366.0h0.65M84.0 363.9h0.65M74.8 317.5h0.65M98.5 327.5h0.65M99.9 355.9h0.65M85.3 348.0h0.65M95.3 336.6h0.65M106.1 340.6h0.65M105.3 343.5h0.65M77.6 367.0h0.65M63.3 319.0h0.65M93.5 329.0h0.65M46.4 349.0h0.65M62.1 380.1h0.65M60.5 324.6h0.65M106.2 321.9h0.65M85.5 359.3h0.65M64.0 345.1h0.65M91.8 365.1h0.65M96.9 348.0h0.65M86.9 353.3h0.65M101.9 358.9h0.65M97.5 356.1h0.65M69.6 336.5h0.65M56.7 379.6h0.65M72.9 371.4h0.65M63.6 322.2h0.65M94.8 344.5h0.65M92.3 350.4h0.65M66.3 366.9h0.65M75.1 370.9h0.65M78.8 322.1h0.65M50.9 357.2h0.65M73.3 350.7h0.65M62.2 371.7h0.65M100.4 355.4h0.65M89.8 341.2h0.65M85.5 344.2h0.65M62.9 333.5h0.65M83.4 368.6h0.65M57.5 371.0h0.65M57.2 365.0h0.65M49.6 324.0h0.65M64.6 334.1h0.65M54.0 355.3h0.65M97.8 353.4h0.65M64.1 371.4h0.65M99.5 353.2h0.65M55.7 384.2h0.65M99.8 345.3h0.65M90.9 365.8h0.65M64.9 375.8h0.65M83.9 334.6h0.65M108.9 339.7h0.65M75.2 370.5h0.65M100.7 339.6h0.65M64.3 340.2h0.65M63.1 373.7h0.65M91.8 358.8h0.65M53.5 382.4h0.65M58.5 317.1h0.65M66.1 333.7h0.65M68.7 343.2h0.65M85.9 343.0h0.65M87.9 352.2h0.65M93.5 348.1h0.65M58.8 346.7h0.65M67.6 350.9h0.65M90.2 349.5h0.65M75.1 361.1h0.65M51.2 333.9h0.65M63.5 338.9h0.65M59.3 380.8h0.65M79.2 368.8h0.65M92.3 343.1h0.65M59.0 342.0h0.65M44.9 353.9h0.65M73.1 333.8h0.65M64.3 330.2h0.65M77.3 329.1h0.65M106.9 326.2h0.65M95.2 328.9h0.65M72.7 316.8h0.65M87.6 359.4h0.65M56.5 342.4h0.65M68.4 349.9h0.65M72.3 358.3h0.65M81.5 369.3h0.65M71.3 332.8h0.65M90.8 344.1h0.65M77.8 369.6h0.65M69.3 315.8h0.65M63.2 334.2h0.65M76.5 371.8h0.65M59.6 333.5h0.65M87.2 349.4h0.65M55.7 328.6h0.65M79.9 367.4h0.65M76.8 363.0h0.65M93.5 333.3h0.65M99.4 354.0h0.65M66.1 354.5h0.65M73.4 326.6h0.65M61.7 352.4h0.65M57.0 315.3h0.65M93.0 360.1h0.65M94.4 343.5h0.65M78.4 353.1h0.65M79.3 323.2h0.65M87.2 319.2h0.65M62.1 364.0h0.65M75.9 370.7h0.65M62.0 367.1h0.65M71.2 355.4h0.65M68.3 337.9h0.65M98.0 348.0h0.65M67.6 341.1h0.65M104.2 339.8h0.65M83.8 320.0h0.65M79.4 352.1h0.65M97.7 350.6h0.65M68.3 334.6h0.65M81.2 342.2h0.65M61.4 354.5h0.65M60.2 383.0h0.65M91.5 362.2h0.65M97.8 349.7h0.65M62.4 321.1h0.65M97.9 326.1h0.65M63.2 337.4h0.65M95.6 350.2h0.65M83.9 341.7h0.65M88.8 337.8h0.65M90.8 344.6h0.65M69.3 357.1h0.65M63.4 322.4h0.65M93.9 353.9h0.65M102.2 357.1h0.65M58.5 384.1h0.65M100.8 334.0h0.65M100.4 361.7h0.65M101.0 359.9h0.65M55.2 373.7h0.65M100.3 333.7h0.65M83.0 352.3h0.65M96.3 351.3h0.65M86.0 351.7h0.65M58.3 346.6h0.65M105.3 324.7h0.65M87.7 327.6h0.65M91.5 330.0h0.65M67.1 362.1h0.65M102.8 318.5h0.65M48.5 351.2h0.65M54.7 382.8h0.65M81.6 353.6h0.65M70.5 375.3h0.65M63.5 358.8h0.65M68.8 353.3h0.65M107.2 347.4h0.65M78.3 320.6h0.65M74.8 351.4h0.65M68.6 360.9h0.65M71.4 351.9h0.65M86.7 340.0h0.65M99.2 330.6h0.65M62.6 372.2h0.65M90.0 344.7h0.65M60.9 316.4h0.65M99.3 349.9h0.65M68.2 367.3h0.65M69.8 349.1h0.65M76.3 322.2h0.65M86.7 340.9h0.65M83.1 353.7h0.65M65.9 330.1h0.65M84.5 344.7h0.65M98.0 339.1h0.65M103.9 349.7h0.65M103.1 346.5h0.65M83.8 358.7h0.65M58.7 342.6h0.65M73.0 357.5h0.65M75.7 353.1h0.65M68.3 367.0h0.65M107.7 328.4h0.65M94.7 340.7h0.65M68.4 366.0h0.65M59.5 353.0h0.65M55.7 370.8h0.65M102.5 356.6h0.65M106.3 322.8h0.65M82.8 343.4h0.65M95.5 323.8h0.65M81.0 347.8h0.65M75.2 361.3h0.65M106.8 339.8h0.65M73.3 358.2h0.65M89.9 332.2h0.65M99.9 361.9h0.65M71.6 323.0h0.65M55.3 352.4h0.65M50.2 326.7h0.65M108.0 348.5h0.65M89.8 335.0h0.65M87.5 360.0h0.65M69.0 348.9h0.65M103.6 316.3h0.65M90.6 334.1h0.65M76.0 375.0h0.65M55.6 315.5h0.65M109.1 334.9h0.65M97.0 320.9h0.65M100.4 317.6h0.65M82.5 353.9h0.65M92.6 363.3h0.65M55.0 348.9h0.65M72.3 333.7h0.65M59.0 316.6h0.65M82.1 338.7h0.65M66.3 331.5h0.65M85.3 328.4h0.65M95.0 345.5h0.65M58.1 326.0h0.65M74.3 317.9h0.65M72.0 354.3h0.65M102.6 359.7h0.65M84.8 359.7h0.65M95.3 353.2h0.65M84.9 316.9h0.65M84.8 359.4h0.65M85.6 318.9h0.65M65.0 320.9h0.65M66.8 357.6h0.65M63.4 343.8h0.65M75.2 359.9h0.65M102.7 355.6h0.65M71.4 357.2h0.65M98.7 331.8h0.65M79.0 336.2h0.65M76.9 370.2h0.65M91.0 332.4h0.65M59.0 361.2h0.65M59.2 349.4h0.65M51.9 341.5h0.65M72.5 340.9h0.65M79.0 330.1h0.65M71.7 371.1h0.65M70.2 363.8h0.65M49.7 384.8h0.65M75.6 355.3h0.65M79.8 348.6h0.65M86.6 317.7h0.65M76.3 353.0h0.65M104.8 347.8h0.65M67.1 320.2h0.65M96.6 347.4h0.65M49.8 370.6h0.65M57.6 350.7h0.65M59.1 318.8h0.65M108.8 330.2h0.65M79.4 368.4h0.65M48.7 387.5h0.65M99.6 343.4h0.65M75.2 371.4h0.65M66.7 330.9h0.65M94.7 338.0h0.65M72.0 360.9h0.65M91.6 339.6h0.65M66.0 332.1h0.65M83.6 344.5h0.65M92.2 323.7h0.65M84.6 339.4h0.65M99.7 316.5h0.65M83.4 331.9h0.65M96.6 357.9h0.65M67.5 369.0h0.65M58.6 326.6h0.65M98.5 355.1h0.65M63.3 381.6h0.65M58.6 373.0h0.65M91.8 341.6h0.65M73.2 350.0h0.65M57.7 343.6h0.65M101.2 324.4h0.65M54.0 388.3h0.65M71.4 369.8h0.65M102.1 332.6h0.65M104.8 329.4h0.65M97.5 353.3h0.65M69.4 368.4h0.65M78.6 330.1h0.65M92.3 330.3h0.65M90.7 359.9h0.65M52.4 388.6h0.65M91.7 326.1h0.65M99.7 338.1h0.65M57.7 381.5h0.65M99.9 355.1h0.65M101.0 326.2h0.65M57.4 379.4h0.65M105.0 343.3h0.65M89.5 349.4h0.65M53.8 348.6h0.65M59.2 331.7h0.65M64.2 341.1h0.65M72.0 318.7h0.65M72.4 335.7h0.65M83.9 342.8h0.65M65.5 340.9h0.65M73.8 345.4h0.65M103.1 340.3h0.65M57.4 332.6h0.65M65.2 315.5h0.65M104.8 319.6h0.65M75.2 335.8h0.65M60.2 358.5h0.65M88.5 361.3h0.65M88.0 353.0h0.65M64.1 337.4h0.65M62.0 328.4h0.65M64.9 367.1h0.65M104.5 341.3h0.65M85.4 349.8h0.65M64.2 360.1h0.65M88.4 320.7h0.65M67.8 354.3h0.65M93.8 350.7h0.65M101.1 316.8h0.65M99.3 346.9h0.65M98.7 320.7h0.65M100.5 360.3h0.65M62.0 370.6h0.65M60.3 378.5h0.65M65.2 316.9h0.65M87.3 336.0h0.65M88.2 362.4h0.65M67.1 358.2h0.65M89.9 316.7h0.65M61.1 345.7h0.65M61.0 321.3h0.65M63.2 379.6h0.65M74.2 360.2h0.65M61.0 377.4h0.65M65.7 356.3h0.65M102.1 350.5h0.65M84.0 366.5h0.65M91.3 341.9h0.65M55.9 320.5h0.65M88.6 358.5h0.65M105.9 329.7h0.65M103.0 334.3h0.65M51.4 338.2h0.65M106.7 347.1h0.65M64.1 363.9h0.65M100.6 350.8h0.65M62.4 363.9h0.65M70.7 335.8h0.65M90.3 343.9h0.65M96.5 331.9h0.65M54.1 336.2h0.65M86.5 364.2h0.65M96.5 347.0h0.65M83.2 347.1h0.65M93.2 318.9h0.65M66.3 339.4h0.65M82.3 344.1h0.65M62.3 378.5h0.65M103.3 352.9h0.65M90.1 319.3h0.65M99.2 329.7h0.65M107.1 334.5h0.65M52.3 320.0h0.65M50.1 344.5h0.65M64.4 363.2h0.65M91.3 339.6h0.65M74.3 319.6h0.65M62.3 361.7h0.65M66.6 320.3h0.65M85.3 345.8h0.65M69.2 356.5h0.65M66.3 335.6h0.65M75.1 365.1h0.65M79.7 330.7h0.65M92.0 348.0h0.65M57.9 326.2h0.65M80.1 357.5h0.65M62.6 322.0h0.65M89.9 327.8h0.65M74.8 318.8h0.65M89.5 324.5h0.65M76.7 352.7h0.65M71.6 366.8h0.65M71.0 345.9h0.65M74.1 334.4h0.65M77.8 345.0h0.65M74.3 319.8h0.65M51.5 332.6h0.65M53.6 368.7h0.65M64.7 324.2h0.65M109.3 335.4h0.65M89.9 357.3h0.65M82.4 339.9h0.65M100.9 332.2h0.65M80.8 362.1h0.65M74.0 356.3h0.65M105.6 321.8h0.65M55.8 354.8h0.65M53.6 382.5h0.65M81.7 325.5h0.65M95.8 360.4h0.65M102.9 339.5h0.65M64.9 366.0h0.65M91.0 355.7h0.65M62.0 349.9h0.65M65.6 352.2h0.65M60.8 370.2h0.65M53.7 325.9h0.65M52.0 366.6h0.65M64.1 365.7h0.65M99.2 360.1h0.65M106.7 333.4h0.65M97.0 325.6h0.65M92.3 338.4h0.65M72.5 315.9h0.65M91.9 352.9h0.65M68.7 344.8h0.65M82.3 365.5h0.65M92.7 321.0h0.65M95.7 350.5h0.65M103.8 339.9h0.65M65.9 362.1h0.65M94.8 343.0h0.65M75.9 367.8h0.65M84.7 353.1h0.65M78.5 345.7h0.65M62.6 373.4h0.65M85.8 360.5h0.65M96.9 321.3h0.65M49.6 377.2h0.65M73.1 328.8h0.65M108.3 340.2h0.65M97.0 337.2h0.65M57.7 342.7h0.65M61.8 357.8h0.65M63.6 373.0h0.65M86.1 356.7h0.65M56.6 354.5h0.65M72.4 339.8h0.65M62.6 352.9h0.65M106.7 318.5h0.65M58.9 370.7h0.65M80.1 363.8h0.65M90.1 350.9h0.65M108.1 347.6h0.65M83.0 356.1h0.65M105.8 328.8h0.65M82.0 352.7h0.65M68.5 362.5h0.65M73.2 361.1h0.65M89.2 341.9h0.65M96.2 353.9h0.65M66.0 362.2h0.65M63.4 374.8h0.65M104.4 338.0h0.65M100.5 319.9h0.65M66.8 329.7h0.65M70.5 350.2h0.65M77.6 330.9h0.65M66.1 316.3h0.65M103.5 341.6h0.65M68.4 364.5h0.65M73.2 369.8h0.65M89.5 347.0h0.65M61.4 328.9h0.65M85.2 345.7h0.65M79.6 339.8h0.65M86.5 361.6h0.65M77.7 341.2h0.65M62.6 342.1h0.65M77.0 356.7h0.65M45.3 419.9h0.65M73.6 346.9h0.65M61.4 381.6h0.65M95.9 348.6h0.65M65.7 329.2h0.65M72.9 319.9h0.65M67.8 315.8h0.65M101.8 334.8h0.65M86.0 330.6h0.65M97.9 352.0h0.65M100.8 343.5h0.65M96.3 347.2h0.65M73.3 337.4h0.65M96.6 354.5h0.65M86.1 332.8h0.65M96.7 318.7h0.65M68.2 356.2h0.65M83.1 320.3h0.65M104.3 346.4h0.65M75.8 372.2h0.65M45.3 351.2h0.65M76.0 357.5h0.65M72.3 355.8h0.65M109.4 339.7h0.65M98.2 354.9h0.65M81.2 352.4h0.65M66.0 351.2h0.65M85.4 328.3h0.65M94.4 342.0h0.65M49.4 343.0h0.65M91.9 354.3h0.65M102.7 324.0h0.65M86.5 362.4h0.65M107.0 322.5h0.65M55.9 353.5h0.65M83.9 358.7h0.65M82.8 358.3h0.65M57.7 348.9h0.65M67.4 349.6h0.65M81.3 350.2h0.65M89.1 330.9h0.65M56.1 357.8h0.65M89.8 325.0h0.65M59.6 375.3h0.65M63.3 360.1h0.65M108.5 333.4h0.65M106.0 330.5h0.65M98.1 361.6h0.65M73.8 354.3h0.65M82.7 349.3h0.65M68.5 334.9h0.65M59.2 360.8h0.65M65.0 374.8h0.65M101.8 345.6h0.65M65.7 326.7h0.65M89.1 355.6h0.65M73.4 373.6h0.65M105.3 321.9h0.65M88.4 340.4h0.65M87.9 329.6h0.65M96.2 340.7h0.65M65.1 350.3h0.65M80.2 356.7h0.65M94.1 360.9h0.65M88.6 336.1h0.65M76.7 357.5h0.65M91.9 337.3h0.65M93.8 346.7h0.65M94.7 344.9h0.65M53.2 351.5h0.65M91.1 347.1h0.65M71.5 315.1h0.65M108.5 328.9h0.65M84.7 354.2h0.65M107.2 323.3h0.65M100.1 319.5h0.65M107.5 341.8h0.65M68.8 360.3h0.65M100.6 353.1h0.65M101.8 322.4h0.65M71.5 370.0h0.65M92.5 326.8h0.65M104.7 323.4h0.65M83.5 360.3h0.65M98.4 324.5h0.65M86.3 360.0h0.65M60.3 343.6h0.65M90.7 323.3h0.65M95.5 333.6h0.65M104.9 347.5h0.65M63.9 345.8h0.65M75.3 341.3h0.65M80.8 322.4h0.65M56.7 336.1h0.65M64.1 369.7h0.65M73.6 338.0h0.65M67.6 327.3h0.65M61.5 339.5h0.65M55.4 317.0h0.65M74.1 355.3h0.65M70.4 364.9h0.65M84.1 327.8h0.65M91.0 360.7h0.65M74.6 340.8h0.65M52.3 366.1h0.65M64.6 365.5h0.65M53.3 332.5h0.65M97.5 324.0h0.65M84.4 363.7h0.65M63.3 319.2h0.65M70.9 373.0h0.65M60.4 354.7h0.65M108.2 329.0h0.65M57.9 368.0h0.65M61.0 379.3h0.65M107.1 348.5h0.65M60.3 325.1h0.65M55.5 357.2h0.65M51.8 343.5h0.65M81.2 366.9h0.65M78.9 350.9h0.65M50.2 379.0h0.65M77.7 334.2h0.65M65.2 325.7h0.65M86.1 315.8h0.65M82.2 354.5h0.65M64.3 347.2h0.65M108.3 342.9h0.65M47.7 346.2h0.65M83.2 333.5h0.65M58.2 366.5h0.65M80.6 362.4h0.65M67.2 350.6h0.65M76.7 337.5h0.65M69.9 367.2h0.65M70.8 343.6h0.65M67.0 359.2h0.65M62.3 362.5h0.65M102.2 334.2h0.65M77.5 356.2h0.65M74.2 364.5h0.65M86.5 320.7h0.65M90.0 340.3h0.65M77.7 345.1h0.65M54.9 372.2h0.65M104.4 351.9h0.65M88.5 337.4h0.65M72.3 316.9h0.65M83.8 368.8h0.65M92.0 320.3h0.65M62.8 333.4h0.65M81.3 364.4h0.65M64.5 376.2h0.65M76.8 362.9h0.65M71.2 353.7h0.65M78.7 319.6h0.65M86.8 338.0h0.65M60.9 373.8h0.65M96.7 316.8h0.65M77.8 319.4h0.65M65.1 371.9h0.65M86.5 355.7h0.65M73.8 350.7h0.65M76.8 321.2h0.65M58.7 328.9h0.65M89.5 354.7h0.65M99.3 362.3h0.65M105.5 323.0h0.65M100.5 321.0h0.65M76.3 320.1h0.65M81.4 343.5h0.65M106.7 343.8h0.65M91.3 332.4h0.65M91.3 329.3h0.65M71.5 361.6h0.65M57.5 355.1h0.65M60.4 318.5h0.65M106.6 348.0h0.65M84.8 324.2h0.65M72.2 338.4h0.65M84.8 331.6h0.65M54.1 389.8h0.65M60.4 314.6h0.65M107.5 346.5h0.65M97.6 337.3h0.65M55.3 320.4h0.65M58.6 356.1h0.65M91.3 360.9h0.65M105.6 344.8h0.65M105.7 333.5h0.65M70.2 349.1h0.65M64.8 338.7h0.65M90.7 339.6h0.65M50.6 341.7h0.65M89.9 364.8h0.65M73.7 375.6h0.65M80.9 364.2h0.65M107.8 330.0h0.65M64.7 360.6h0.65M81.5 319.2h0.65M69.4 344.9h0.65M77.2 366.3h0.65M71.2 343.9h0.65M102.0 340.9h0.65M63.4 322.5h0.65M51.1 365.0h0.65M99.3 330.4h0.65M64.0 347.0h0.65M79.3 368.6h0.65M79.6 351.7h0.65M75.1 329.3h0.65M106.1 320.6h0.65M103.0 356.0h0.65M90.1 355.0h0.65M68.3 347.1h0.65M72.9 329.9h0.65M87.9 361.9h0.65M55.9 336.2h0.65M101.3 325.7h0.65M50.5 355.4h0.65M66.6 364.4h0.65M105.6 328.9h0.65M93.6 335.1h0.65M88.3 336.8h0.65M69.8 315.6h0.65M94.9 357.3h0.65M74.3 321.0h0.65M91.4 316.3h0.65M97.2 350.2h0.65M88.1 317.2h0.65M92.3 318.1h0.65M56.4 365.4h0.65M91.6 358.4h0.65M77.0 339.0h0.65M67.3 362.7h0.65M76.7 341.5h0.65M86.3 320.9h0.65M96.0 344.4h0.65M94.1 354.7h0.65M71.8 338.4h0.65M72.4 347.9h0.65M67.7 356.6h0.65M90.5 322.4h0.65M98.9 326.6h0.65M98.1 340.5h0.65M74.2 358.0h0.65M100.9 334.4h0.65M103.5 336.1h0.65M80.9 345.1h0.65M95.0 356.4h0.65M109.5 336.9h0.65M87.1 358.8h0.65M72.8 347.0h0.65M105.8 331.7h0.65M103.5 329.1h0.65M94.1 339.3h0.65M62.9 377.3h0.65M59.5 363.9h0.65M61.6 354.2h0.65M93.3 323.4h0.65M100.3 341.1h0.65M108.0 340.0h0.65M105.8 323.2h0.65M90.1 344.2h0.65M78.8 365.0h0.65M61.5 348.7h0.65M83.1 334.4h0.65M67.1 349.0h0.65M95.4 364.0h0.65M101.8 355.6h0.65M88.2 331.7h0.65M87.3 344.2h0.65M97.1 354.8h0.65M71.1 357.8h0.65M55.2 381.1h0.65M74.6 340.8h0.65M61.2 314.8h0.65M108.4 337.3h0.65M83.6 367.7h0.65M56.6 381.5h0.65M79.8 348.9h0.65M105.0 333.9h0.65M64.5 364.6h0.65M49.9 355.8h0.65M86.3 367.2h0.65M59.8 337.0h0.65M56.0 342.2h0.65M69.9 374.4h0.65M77.3 342.5h0.65M56.3 321.8h0.65M98.7 319.6h0.65M67.5 346.3h0.65M58.7 352.8h0.65M82.3 360.1h0.65M90.7 362.0h0.65M101.3 348.3h0.65M72.2 316.0h0.65M95.0 316.2h0.65M92.1 353.9h0.65M73.9 353.6h0.65M64.4 352.4h0.65M64.7 365.5h0.65M102.9 323.6h0.65M91.8 353.9h0.65M81.9 315.3h0.65M85.9 321.7h0.65M105.9 333.7h0.65M97.0 355.2h0.65M93.7 354.6h0.65M54.0 375.3h0.65M96.6 321.0h0.65M77.5 341.9h0.65M100.8 350.5h0.65M99.7 358.0h0.65M96.0 315.8h0.65M70.8 372.8h0.65M92.7 345.0h0.65M61.5 333.1h0.65M69.2 314.7h0.65M66.5 350.8h0.65M74.3 369.2h0.65M69.0 316.3h0.65M81.3 321.8h0.65M96.5 343.7h0.65M103.3 344.3h0.65M62.1 319.7h0.65M75.2 366.1h0.65M103.7 323.8h0.65M103.9 352.1h0.65M83.7 320.1h0.65M52.3 368.1h0.65M60.5 323.3h0.65M102.0 356.5h0.65M66.8 365.8h0.65M71.2 334.8h0.65M58.1 329.8h0.65M65.8 366.3h0.65M84.8 328.9h0.65M59.1 380.7h0.65M86.5 350.0h0.65M95.6 318.8h0.65M77.6 341.8h0.65M77.5 363.3h0.65M50.0 375.1h0.65M72.4 326.1h0.65M63.2 347.6h0.65M100.7 338.4h0.65M81.2 348.1h0.65M106.9 333.4h0.65M97.7 319.6h0.65M97.4 348.8h0.65M67.2 317.9h0.65M85.4 334.4h0.65M84.8 329.6h0.65M105.2 342.9h0.65M55.7 373.3h0.65M95.0 339.7h0.65M56.1 369.7h0.65M62.0 372.9h0.65M77.4 365.1h0.65M66.9 370.7h0.65M72.7 364.3h0.65M100.5 332.8h0.65M52.1 359.9h0.65M98.7 344.0h0.65M103.1 357.7h0.65M96.9 350.5h0.65M82.0 356.3h0.65M102.7 336.6h0.65M68.9 357.4h0.65M105.2 329.0h0.65M75.6 366.9h0.65M98.7 351.2h0.65M96.7 347.1h0.65M104.8 340.0h0.65M72.4 349.8h0.65M104.3 345.7h0.65M106.3 320.6h0.65M63.7 362.2h0.65M44.9 347.2h0.65M69.5 349.5h0.65M74.7 332.9h0.65M92.1 349.3h0.65M100.1 331.8h0.65M100.0 318.8h0.65M71.1 339.2h0.65M97.0 363.8h0.65M109.2 334.2h0.65M65.7 327.9h0.65M67.5 315.0h0.65M96.0 336.5h0.65M74.8 326.0h0.65M74.9 371.5h0.65M67.4 353.8h0.65M100.4 316.2h0.65M83.8 352.3h0.65M90.7 321.5h0.65M71.6 370.6h0.65M61.1 348.6h0.65M85.7 358.2h0.65M60.7 340.5h0.65M80.7 318.6h0.65M92.1 353.4h0.65M66.2 344.5h0.65M76.4 350.8h0.65M81.3 353.2h0.65M83.5 349.0h0.65M49.7 370.1h0.65M87.6 342.7h0.65M82.4 364.9h0.65M89.8 356.9h0.65M94.5 328.6h0.65M68.7 357.0h0.65M56.5 351.8h0.65M79.8 340.8h0.65M100.4 348.6h0.65M90.6 344.4h0.65M66.1 339.2h0.65M81.5 353.3h0.65M65.5 333.7h0.65M56.8 337.8h0.65M85.9 327.2h0.65M97.2 336.5h0.65M59.2 325.9h0.65M82.7 334.0h0.65M101.6 331.2h0.65M80.8 329.9h0.65M68.8 365.3h0.65M90.6 338.1h0.65M103.0 357.4h0.65M81.3 357.8h0.65M104.6 345.4h0.65M64.2 342.0h0.65M71.1 322.0h0.65M101.2 346.2h0.65M52.6 371.4h0.65M77.9 323.6h0.65M86.7 342.1h0.65M98.6 339.3h0.65M62.2 382.7h0.65M84.0 326.5h0.65M84.2 344.0h0.65M74.8 372.5h0.65M53.9 347.2h0.65M65.7 335.8h0.65M70.4 353.3h0.65M61.1 344.2h0.65M101.8 358.6h0.65M69.9 360.3h0.65M77.6 339.7h0.65M67.3 322.0h0.65M97.5 358.0h0.65M70.9 373.1h0.65M59.1 342.7h0.65M77.2 329.3h0.65M74.6 349.5h0.65M101.4 350.6h0.65M93.5 362.0h0.65M104.5 322.6h0.65M60.8 352.3h0.65M100.7 317.8h0.65M65.1 374.3h0.65M73.8 357.6h0.65M85.1 357.7h0.65M70.1 317.6h0.65M55.0 363.7h0.65M62.6 361.4h0.65M78.9 356.9h0.65M76.7 353.1h0.65M88.6 320.8h0.65M74.1 363.6h0.65M95.3 334.8h0.65M56.8 370.3h0.65M49.5 385.9h0.65M73.6 352.8h0.65M96.3 321.9h0.65M64.2 317.7h0.65M72.8 355.5h0.65M51.7 369.8h0.65M65.5 338.4h0.65M83.5 363.1h0.65M67.6 341.0h0.65M75.1 349.8h0.65M83.5 353.4h0.65M70.0 340.2h0.65M71.0 322.8h0.65M50.1 405.6h0.65M76.2 356.6h0.65M104.0 337.4h0.65M52.7 382.2h0.65M73.8 319.9h0.65M93.2 357.2h0.65M82.7 343.4h0.65M72.0 375.3h0.65M60.0 336.3h0.65M108.5 339.2h0.65M84.0 331.8h0.65M49.9 373.5h0.65M54.5 379.7h0.65M70.3 364.2h0.65M102.0 349.6h0.65M106.6 330.8h0.65M99.9 333.9h0.65M58.7 379.8h0.65M71.4 350.4h0.65M87.4 360.4h0.65M88.3 330.1h0.65M105.5 349.5h0.65M106.9 339.7h0.65M53.1 339.4h0.65M81.2 321.8h0.65M53.5 341.1h0.65M67.1 323.1h0.65M67.1 335.2h0.65M69.6 325.8h0.65M49.5 375.5h0.65M61.5 364.9h0.65M56.1 358.5h0.65M80.7 366.2h0.65M56.1 377.2h0.65M105.3 333.4h0.65M81.0 341.6h0.65M64.1 381.0h0.65M87.6 362.3h0.65M98.8 356.2h0.65M67.9 327.8h0.65M62.4 338.2h0.65M57.6 343.6h0.65M81.2 322.6h0.65M65.2 327.9h0.65M93.7 338.5h0.65M75.9 349.7h0.65M71.9 342.5h0.65M104.5 334.4h0.65M95.2 347.5h0.65M108.9 332.8h0.65M91.1 343.6h0.65M90.7 354.4h0.65M85.5 359.5h0.65M53.3 369.9h0.65M90.0 343.9h0.65M96.8 338.8h0.65M63.5 336.1h0.65M85.7 352.7h0.65M83.7 361.0h0.65M61.1 368.1h0.65M53.2 360.5h0.65M91.7 324.3h0.65M89.0 349.7h0.65M102.2 325.3h0.65M70.8 349.9h0.65M76.4 360.8h0.65M70.7 371.7h0.65M72.2 359.1h0.65M74.8 363.4h0.65M64.2 328.1h0.65M87.7 334.5h0.65M100.0 339.0h0.65M74.6 366.6h0.65M72.8 359.3h0.65M51.6 377.1h0.65M80.9 353.6h0.65M69.1 373.7h0.65M92.0 331.2h0.65M76.0 364.3h0.65M59.6 371.6h0.65M102.5 333.5h0.65M92.7 356.5h0.65M72.4 329.5h0.65M92.3 329.2h0.65M67.7 327.3h0.65M93.8 325.2h0.65M81.5 340.2h0.65M78.9 341.5h0.65M71.1 351.8h0.65M73.2 343.1h0.65M103.8 357.1h0.65M102.6 341.4h0.65M78.0 347.1h0.65M104.8 338.8h0.65M66.3 365.2h0.65M62.9 350.4h0.65M63.3 352.8h0.65M54.7 330.8h0.65M72.6 316.1h0.65M69.2 352.5h0.65M103.1 332.1h0.65M75.0 326.7h0.65M59.4 323.0h0.65M77.7 325.9h0.65M61.4 353.6h0.65M59.4 328.9h0.65M84.5 347.1h0.65M94.4 328.6h0.65M64.3 324.5h0.65M61.4 357.7h0.65M61.4 358.9h0.65M59.3 353.8h0.65M101.1 349.9h0.65M47.5 369.0h0.65M57.7 316.1h0.65M60.3 366.8h0.65M54.4 356.8h0.65M77.0 356.7h0.65M48.5 378.7h0.65M67.9 350.9h0.65M67.2 339.2h0.65M83.9 333.1h0.65M104.6 334.5h0.65M83.8 323.4h0.65M103.0 329.1h0.65M57.0 385.9h0.65M67.1 355.6h0.65M91.6 350.1h0.65M59.9 337.4h0.65M84.9 352.4h0.65M45.4 388.1h0.65M74.9 373.3h0.65M58.7 372.1h0.65M91.8 330.0h0.65M64.6 352.7h0.65M86.2 334.3h0.65M80.3 318.3h0.65M92.2 333.9h0.65M79.3 360.0h0.65M99.5 357.2h0.65M59.7 366.7h0.65M84.0 332.4h0.65M68.3 342.6h0.65M87.1 324.8h0.65M64.9 377.9h0.65M89.5 359.0h0.65M70.5 351.5h0.65M74.3 361.7h0.65M93.3 353.3h0.65M66.9 376.0h0.65M61.2 363.9h0.65M96.4 349.7h0.65M62.4 347.7h0.65M58.6 318.4h0.65M78.1 323.4h0.65M74.5 318.9h0.65M94.7 339.6h0.65M96.4 340.3h0.65M62.9 340.2h0.65M50.8 360.0h0.65M81.6 337.9h0.65M88.3 333.2h0.65M86.9 327.0h0.65M71.4 324.3h0.65M90.3 363.9h0.65M92.1 354.6h0.65M85.0 336.9h0.65M81.7 325.8h0.65M78.6 337.3h0.65M95.1 345.9h0.65M70.4 319.9h0.65M88.8 345.3h0.65M50.1 355.1h0.65M73.6 343.0h0.65M85.2 320.4h0.65M96.3 324.4h0.65M72.6 358.6h0.65M72.3 364.6h0.65M96.2 357.1h0.65M59.7 345.7h0.65M76.1 339.8h0.65M53.2 385.3h0.65M79.6 361.2h0.65M91.3 362.6h0.65M94.2 331.2h0.65M65.7 346.3h0.65M98.4 358.6h0.65M83.6 332.9h0.65M61.1 314.7h0.65M100.6 345.5h0.65M70.1 358.8h0.65M94.1 341.4h0.65M103.1 356.7h0.65M105.8 319.2h0.65M86.7 362.5h0.65M86.7 367.2h0.65M96.7 361.8h0.65M66.0 316.7h0.65M61.1 343.3h0.65M59.5 369.9h0.65M73.3 319.2h0.65M93.6 334.5h0.65M92.1 354.6h0.65M84.5 337.0h0.65M48.0 376.6h0.65M95.2 322.2h0.65M102.2 325.5h0.65M101.0 331.7h0.65M53.8 340.1h0.65M92.1 357.6h0.65M104.8 321.2h0.65M85.0 337.3h0.65M61.8 342.3h0.65M75.0 345.8h0.65M69.9 347.1h0.65M79.8 326.3h0.65M70.1 316.1h0.65M82.3 365.4h0.65M76.2 369.0h0.65M89.2 336.1h0.65M77.6 337.4h0.65M59.4 331.3h0.65M82.0 369.2h0.65M81.7 323.7h0.65M85.3 343.5h0.65M70.8 326.8h0.65M85.3 320.6h0.65M76.8 324.1h0.65M109.4 335.4h0.65M51.0 335.4h0.65M94.5 327.1h0.65M105.2 355.1h0.65M89.3 354.9h0.65M100.9 347.5h0.65M59.8 350.7h0.65M65.8 342.6h0.65M74.5 345.1h0.65M79.5 331.5h0.65M70.5 331.2h0.65M87.0 331.2h0.65M82.1 363.6h0.65M78.0 343.7h0.65M63.0 334.8h0.65M63.3 353.5h0.65M70.6 326.2h0.65M62.1 374.6h0.65M107.6 324.0h0.65M80.5 352.0h0.65M103.6 357.3h0.65M53.0 384.1h0.65M77.0 366.5h0.65M74.8 320.4h0.65M84.7 350.3h0.65M96.4 315.5h0.65M96.9 340.7h0.65M73.9 329.0h0.65M102.1 349.3h0.65M88.4 345.0h0.65M78.5 349.3h0.65M61.9 358.0h0.65M52.9 371.0h0.65M90.3 343.5h0.65M96.4 336.6h0.65M75.9 354.3h0.65M65.4 371.5h0.65M63.5 339.0h0.65M69.5 351.4h0.65M102.4 349.1h0.65M62.1 342.2h0.65M79.0 364.7h0.65M65.0 377.0h0.65M76.2 371.8h0.65M91.8 365.3h0.65M106.0 345.5h0.65M98.9 339.5h0.65M57.4 339.7h0.65M64.1 380.7h0.65M78.0 320.0h0.65M75.6 347.8h0.65M79.2 336.4h0.65M80.1 330.6h0.65M59.3 359.7h0.65M84.7 340.8h0.65M91.5 320.6h0.65M93.8 363.3h0.65M95.2 338.2h0.65M81.3 360.5h0.65M63.9 354.7h0.65M99.5 331.9h0.65M73.6 336.9h0.65M84.6 343.4h0.65M76.3 351.3h0.65M64.7 330.9h0.65M83.1 321.9h0.65M79.2 366.4h0.65M89.6 356.8h0.65M78.7 319.9h0.65M79.8 327.8h0.65M65.0 343.2h0.65M84.1 343.9h0.65M85.2 341.4h0.65M103.0 342.9h0.65M95.4 341.3h0.65M100.2 325.1h0.65M69.6 317.4h0.65M64.0 350.0h0.65M75.3 351.4h0.65M83.9 315.3h0.65M61.9 320.0h0.65M83.7 334.2h0.65M82.0 337.5h0.65M91.7 319.9h0.65M63.9 362.2h0.65M74.9 316.9h0.65M86.9 342.3h0.65M77.1 320.2h0.65M59.6 318.4h0.65M98.3 357.9h0.65M76.7 333.6h0.65M61.7 350.3h0.65M49.3 329.4h0.65M86.8 336.4h0.65M101.6 353.2h0.65M91.3 334.0h0.65M103.5 335.1h0.65M93.1 340.4h0.65M83.1 355.3h0.65M66.5 330.2h0.65M68.0 324.1h0.65M59.4 374.3h0.65M75.1 343.2h0.65M67.4 315.3h0.65M105.0 337.3h0.65M84.3 316.4h0.65M96.0 349.6h0.65M99.1 318.3h0.65M56.4 339.4h0.65M104.1 355.9h0.65M65.8 318.6h0.65M101.0 329.6h0.65M92.5 360.3h0.65M65.1 372.1h0.65M69.5 333.4h0.65M106.7 333.3h0.65M70.0 355.2h0.65M76.3 347.3h0.65M93.2 329.5h0.65M78.8 318.0h0.65M83.9 320.8h0.65M99.2 335.0h0.65M92.0 363.6h0.65M56.3 365.4h0.65M56.5 319.2h0.65M59.4 317.6h0.65M88.7 344.2h0.65M66.4 368.4h0.65M85.2 363.6h0.65M57.5 379.6h0.65M73.0 321.9h0.65M67.1 325.5h0.65M103.8 346.7h0.65M74.8 328.3h0.65M68.9 328.6h0.65M55.9 317.8h0.65M92.3 329.4h0.65M73.4 350.7h0.65M54.8 372.0h0.65M91.5 339.1h0.65M61.2 362.1h0.65M80.8 360.2h0.65M76.1 342.3h0.65M63.0 362.2h0.65M51.1 362.6h0.65M103.2 326.8h0.65M57.8 351.9h0.65M96.9 352.7h0.65M93.7 344.9h0.65M91.3 361.0h0.65M51.1 392.5h0.65M97.9 335.7h0.65M56.3 315.8h0.65M61.7 355.3h0.65M94.3 357.0h0.65M64.8 365.7h0.65M57.4 337.1h0.65M77.1 341.0h0.65M84.6 348.6h0.65M93.2 348.7h0.65M98.6 360.1h0.65M80.6 319.5h0.65M103.6 349.6h0.65M69.2 348.8h0.65M66.8 329.6h0.65M95.3 335.8h0.65M100.5 346.3h0.65M86.1 365.0h0.65M102.0 339.5h0.65M76.4 372.3h0.65M105.2 329.4h0.65M98.0 347.6h0.65M71.0 319.0h0.65M102.4 352.4h0.65M81.8 357.6h0.65M54.0 366.4h0.65M67.0 375.6h0.65M75.8 342.7h0.65M83.9 337.3h0.65M68.5 365.4h0.65M81.2 362.0h0.65M104.7 321.2h0.65M101.6 337.7h0.65M73.0 358.0h0.65M84.1 325.0h0.65M79.9 345.7h0.65M69.5 358.0h0.65M53.7 372.4h0.65M58.4 315.8h0.65M91.1 325.9h0.65M68.8 323.1h0.65M79.2 368.3h0.65M70.0 346.1h0.65M60.8 348.9h0.65M85.5 361.9h0.65M94.4 364.9h0.65M97.4 344.0h0.65M91.0 322.8h0.65M93.7 323.8h0.65M88.7 339.6h0.65M46.9 401.5h0.65M101.7 327.4h0.65M71.9 349.8h0.65M81.0 330.7h0.65M66.4 337.3h0.65M61.6 365.0h0.65M93.6 347.7h0.65M78.5 337.3h0.65M81.3 347.9h0.65M91.5 366.6h0.65M88.2 352.7h0.65M95.9 357.8h0.65M62.1 321.4h0.65M83.3 340.9h0.65M88.5 346.0h0.65M81.4 332.2h0.65M105.3 337.8h0.65M79.8 354.7h0.65M53.5 355.7h0.65M104.6 318.0h0.65M80.7 364.1h0.65M87.8 348.9h0.65M77.0 322.6h0.65M70.0 331.5h0.65M58.1 360.7h0.65M100.7 329.0h0.65M107.5 346.5h0.65M63.7 328.7h0.65M49.5 354.3h0.65M95.2 360.6h0.65M77.8 343.7h0.65M64.8 364.4h0.65M108.5 343.4h0.65M78.8 342.4h0.65M67.2 331.8h0.65M54.5 382.1h0.65M66.3 324.5h0.65M92.4 354.9h0.65M66.7 369.4h0.65M77.6 360.2h0.65M71.4 360.3h0.65M79.6 349.3h0.65M103.2 353.5h0.65M98.0 336.6h0.65M80.7 369.8h0.65M93.0 353.5h0.65M106.1 347.4h0.65M84.0 334.3h0.65M100.2 341.8h0.65M98.1 318.3h0.65M100.6 340.3h0.65M78.4 344.3h0.65M68.1 321.1h0.65M79.8 344.1h0.65M95.6 351.6h0.65M82.2 356.1h0.65M63.9 350.9h0.65M104.3 339.7h0.65M70.0 321.3h0.65M105.6 321.3h0.65M86.8 359.9h0.65M89.2 323.7h0.65M101.9 353.2h0.65M56.3 345.2h0.65M51.5 323.5h0.65M80.6 352.6h0.65M52.3 388.4h0.65M96.2 318.3h0.65M102.9 342.0h0.65M64.4 373.4h0.65M82.3 350.6h0.65M51.0 414.6h0.65M95.0 317.1h0.65M63.2 364.3h0.65M66.9 349.2h0.65M97.8 334.7h0.65M86.3 364.4h0.65M90.9 345.9h0.65M93.3 325.6h0.65M66.1 374.6h0.65M97.1 351.7h0.65M101.5 332.8h0.65M72.4 319.0h0.65M91.1 332.5h0.65M58.2 354.3h0.65M68.8 359.1h0.65M72.3 315.1h0.65M67.0 314.9h0.65M70.8 372.6h0.65M74.5 335.9h0.65M101.1 332.3h0.65M58.3 374.3h0.65M61.0 366.8h0.65M90.1 334.3h0.65M61.0 369.2h0.65M75.7 316.4h0.65M100.6 352.2h0.65M89.0 341.9h0.65M64.0 374.4h0.65M84.8 335.2h0.65M96.3 337.5h0.65M96.1 364.0h0.65M70.8 325.6h0.65M62.9 362.4h0.65M98.6 357.1h0.65M97.3 359.0h0.65M100.4 354.6h0.65M90.0 356.9h0.65M64.5 355.8h0.65M69.8 345.6h0.65M89.2 365.5h0.65M102.4 321.7h0.65M101.8 327.9h0.65M68.8 322.4h0.65M76.0 321.7h0.65M79.6 323.4h0.65M67.3 326.3h0.65M82.9 365.4h0.65M64.1 333.1h0.65M63.0 345.7h0.65M88.2 348.9h0.65M99.9 358.2h0.65M102.1 346.8h0.65M100.2 326.7h0.65M90.6 360.5h0.65M92.7 356.5h0.65M103.9 317.3h0.65M70.9 356.7h0.65M88.0 323.3h0.65M76.7 366.1h0.65M58.2 316.2h0.65M103.6 329.0h0.65M78.5 364.0h0.65M95.5 361.5h0.65M57.6 348.8h0.65M62.3 354.9h0.65M82.4 361.5h0.65M58.7 385.5h0.65M65.7 350.0h0.65M65.6 330.2h0.65M101.8 359.8h0.65M76.7 372.2h0.65M58.7 358.6h0.65M94.6 361.3h0.65M107.5 339.3h0.65M77.6 362.9h0.65M101.2 346.5h0.65M71.9 316.9h0.65M61.9 370.1h0.65M67.6 342.1h0.65M83.1 318.8h0.65M92.9 344.8h0.65M93.2 362.6h0.65M107.4 330.1h0.65M77.1 365.4h0.65M92.2 351.0h0.65M62.7 328.9h0.65M97.6 330.7h0.65M78.9 357.7h0.65M65.0 320.5h0.65M92.0 330.9h0.65M81.4 357.5h0.65M72.9 374.3h0.65M85.9 354.5h0.65M103.5 327.9h0.65M49.9 352.8h0.65M74.3 372.7h0.65M54.8 336.5h0.65M73.8 317.8h0.65M59.2 340.6h0.65M97.8 327.9h0.65M76.6 356.8h0.65M92.3 332.3h0.65M51.9 409.7h0.65M88.2 352.9h0.65M63.1 332.9h0.65M106.2 349.9h0.65M91.1 367.1h0.65M89.0 329.9h0.65M57.0 370.1h0.65M97.5 344.4h0.65M91.9 350.8h0.65M69.4 315.6h0.65M104.5 356.2h0.65M76.1 359.4h0.65M71.5 319.5h0.65M76.6 321.1h0.65M108.0 335.4h0.65M65.5 376.1h0.65M56.2 329.0h0.65M70.0 317.5h0.65M106.4 352.1h0.65M93.3 339.5h0.65M51.1 389.7h0.65M101.6 354.8h0.65M87.0 324.1h0.65M78.7 353.4h0.65M55.2 338.8h0.65M99.2 335.1h0.65M91.6 335.5h0.65M62.8 348.1h0.65M97.2 318.6h0.65M89.4 325.3h0.65M77.5 354.7h0.65M82.8 330.8h0.65M59.1 319.6h0.65M75.8 334.5h0.65M95.5 319.9h0.65M98.3 329.9h0.65M56.9 318.0h0.65M101.5 350.4h0.65M108.3 342.9h0.65M95.5 325.5h0.65M61.6 336.4h0.65M106.3 342.0h0.65M94.7 335.5h0.65M64.0 375.2h0.65M82.8 358.5h0.65M63.2 355.6h0.65M103.8 324.8h0.65M87.8 333.8h0.65M90.9 329.9h0.65M91.9 354.8h0.65M80.0 354.8h0.65M99.5 316.4h0.65M87.4 325.1h0.65M89.5 353.8h0.65M78.6 322.4h0.65M88.9 322.4h0.65M76.9 351.0h0.65M60.9 379.8h0.65M69.0 349.9h0.65M77.7 365.3h0.65M78.0 316.7h0.65M93.0 322.2h0.65M100.8 344.1h0.65M54.3 315.0h0.65M91.0 342.0h0.65M55.3 356.4h0.65M53.4 387.9h0.65M63.6 364.2h0.65M65.1 361.1h0.65M78.9 316.5h0.65M81.3 325.2h0.65M52.3 316.9h0.65M90.9 330.9h0.65M74.7 349.1h0.65M73.5 349.2h0.65M75.3 363.0h0.65M100.0 352.0h0.65M94.8 362.4h0.65M104.2 324.6h0.65M88.1 367.2h0.65M100.9 350.6h0.65M77.4 369.6h0.65M72.4 325.4h0.65M105.5 346.7h0.65M54.3 340.0h0.65M103.5 342.0h0.65M78.7 349.3h0.65M83.2 360.4h0.65M78.0 344.9h0.65M107.0 348.7h0.65M82.2 348.9h0.65M60.4 341.2h0.65M46.5 326.4h0.65M87.3 368.4h0.65M57.8 365.7h0.65M71.1 324.4h0.65M92.2 365.5h0.65M70.0 356.7h0.65M98.6 346.7h0.65M62.4 345.0h0.65M100.7 317.4h0.65M54.2 371.7h0.65M97.5 321.9h0.65M56.8 384.6h0.65M84.0 367.8h0.65M91.2 324.8h0.65M69.0 347.9h0.65M74.5 314.9h0.65M66.4 325.8h0.65M82.8 331.7h0.65M48.2 377.4h0.65M80.3 351.5h0.65M78.9 317.7h0.65M90.7 364.3h0.65M85.7 341.0h0.65M80.7 370.3h0.65M99.3 353.1h0.65M75.7 369.9h0.65M57.7 363.9h0.65M60.3 332.3h0.65M75.8 364.7h0.65M88.9 331.2h0.65M106.4 322.9h0.65M78.0 333.2h0.65M100.0 326.9h0.65M75.0 346.3h0.65M59.2 319.2h0.65M68.1 350.8h0.65M50.1 336.8h0.65M101.4 332.8h0.65M101.6 341.1h0.65M81.2 345.7h0.65M84.0 329.5h0.65M72.7 366.8h0.65M100.8 323.5h0.65M106.7 337.1h0.65M67.0 350.9h0.65M105.6 329.6h0.65M73.6 360.9h0.65M68.0 345.5h0.65M72.4 333.3h0.65M92.6 362.7h0.65M75.8 350.8h0.65M56.7 330.3h0.65M92.5 348.9h0.65M55.9 384.9h0.65M80.3 347.2h0.65M78.7 348.0h0.65M55.5 351.7h0.65M83.9 327.9h0.65M78.7 315.2h0.65M96.5 326.5h0.65M106.2 323.0h0.65M86.1 344.8h0.65M77.1 364.3h0.65M94.4 355.9h0.65M64.2 366.2h0.65M90.4 357.7h0.65M53.6 327.8h0.65M63.1 340.5h0.65M87.4 348.6h0.65M101.1 359.0h0.65M61.5 337.9h0.65M109.5 340.3h0.65M93.6 329.6h0.65M70.1 351.9h0.65M105.4 319.5h0.65M64.7 358.2h0.65M91.2 327.1h0.65M56.1 331.8h0.65M52.8 348.4h0.65M82.4 337.8h0.65M96.1 325.9h0.65M72.0 343.0h0.65M64.7 342.4h0.65M49.3 333.6h0.65M94.9 349.5h0.65M83.4 336.3h0.65M65.9 320.6h0.65M71.7 325.1h0.65M71.4 350.7h0.65M95.8 348.1h0.65M97.9 324.0h0.65M62.7 375.4h0.65M97.6 347.9h0.65M68.3 356.0h0.65M104.9 351.9h0.65M74.3 374.6h0.65M93.4 357.4h0.65M82.2 364.4h0.65M69.0 329.9h0.65M77.1 344.3h0.65M79.1 346.9h0.65M58.2 385.2h0.65M94.2 338.7h0.65M67.4 331.2h0.65M104.9 349.6h0.65M94.1 362.9h0.65M100.3 326.3h0.65M88.0 324.8h0.65M101.0 325.7h0.65M70.0 316.8h0.65M86.7 339.1h0.65M74.1 332.8h0.65M66.1 332.8h0.65M55.1 362.8h0.65M80.6 354.5h0.65M86.0 335.1h0.65M101.5 344.6h0.65M103.2 332.5h0.65M70.2 370.9h0.65M79.9 367.1h0.65M81.1 348.9h0.65M93.5 361.8h0.65M73.0 337.4h0.65M67.2 328.2h0.65M64.0 368.9h0.65M102.0 349.2h0.65M91.4 354.3h0.65M58.6 371.3h0.65M46.7 330.6h0.65M70.4 325.6h0.65M79.3 370.7h0.65M68.8 370.6h0.65M69.4 361.7h0.65M82.0 367.4h0.65M91.0 332.0h0.65M96.2 339.3h0.65M86.9 349.3h0.65M71.1 319.0h0.65M92.2 321.4h0.65M70.3 326.3h0.65M65.0 348.2h0.65M76.9 359.5h0.65M92.3 359.4h0.65M72.8 365.1h0.65M86.4 333.9h0.65M85.9 349.0h0.65M52.4 390.9h0.65M63.8 375.1h0.65M76.5 340.0h0.65M55.7 371.6h0.65M64.0 381.4h0.65M55.7 353.3h0.65M73.5 342.1h0.65M82.9 369.5h0.65M51.6 330.1h0.65M67.0 318.4h0.65M92.2 359.7h0.65M65.7 351.1h0.65M60.3 359.1h0.65M87.8 348.8h0.65M103.4 355.3h0.65M79.5 369.7h0.65M52.1 409.0h0.65M101.5 355.4h0.65M71.5 328.2h0.65M80.8 343.0h0.65M62.0 373.0h0.65M99.0 327.0h0.65M73.8 318.2h0.65M71.8 330.1h0.65M98.4 332.1h0.65M100.9 327.9h0.65M77.9 330.7h0.65M106.4 330.7h0.65M99.0 334.5h0.65M100.2 338.5h0.65M76.3 362.1h0.65M93.0 326.6h0.65M72.3 343.5h0.65M71.9 358.6h0.65M82.2 341.2h0.65M74.9 316.9h0.65M92.5 361.4h0.65M61.2 354.6h0.65M86.2 350.1h0.65M96.1 336.7h0.65M77.6 369.1h0.65M78.8 348.6h0.65M79.3 360.6h0.65M68.8 362.5h0.65M101.9 359.9h0.65M84.5 317.3h0.65M81.8 342.7h0.65M64.4 375.9h0.65M70.9 337.4h0.65M48.5 350.1h0.65M73.2 315.8h0.65M76.8 341.5h0.65M87.7 365.5h0.65M86.8 318.3h0.65M87.7 327.0h0.65M70.3 334.7h0.65M94.7 342.5h0.65M75.0 344.4h0.65M78.7 340.5h0.65M57.7 378.2h0.65M56.7 343.8h0.65M97.9 334.2h0.65M77.8 325.2h0.65M72.8 362.2h0.65M63.1 374.1h0.65M58.3 336.9h0.65M58.7 371.6h0.65M77.4 367.9h0.65M63.1 380.3h0.65M55.7 377.2h0.65M72.9 372.4h0.65M72.8 335.1h0.65M70.1 359.5h0.65M66.2 350.2h0.65M100.4 336.4h0.65M84.6 324.6h0.65M108.7 334.1h0.65M54.3 330.8h0.65M66.9 373.7h0.65M90.2 344.1h0.65M91.1 328.4h0.65M61.2 368.0h0.65M50.6 320.3h0.65M99.7 358.3h0.65M86.5 354.5h0.65M67.5 337.5h0.65M90.5 330.2h0.65M94.8 353.1h0.65M60.0 376.0h0.65M61.6 349.8h0.65M77.8 336.0h0.65M101.2 340.8h0.65M105.0 336.4h0.65M80.5 353.3h0.65M107.9 345.2h0.65M64.8 371.7h0.65M104.8 316.2h0.65M86.4 329.2h0.65M106.5 326.8h0.65M107.8 324.3h0.65M64.9 358.2h0.65M83.5 324.3h0.65M108.4 344.1h0.65M57.8 331.4h0.65M102.0 318.5h0.65M104.9 331.9h0.65M87.2 333.7h0.65M92.5 360.7h0.65M93.8 351.8h0.65M87.4 327.0h0.65M65.8 320.6h0.65M106.0 337.0h0.65M71.3 329.1h0.65M90.9 345.1h0.65M90.3 360.9h0.65M90.1 343.7h0.65M89.2 332.5h0.65M60.2 353.0h0.65M79.4 324.0h0.65M101.0 317.6h0.65M94.9 356.8h0.65M53.8 360.7h0.65M96.8 350.3h0.65M59.7 335.1h0.65M103.8 315.8h0.65M85.4 342.6h0.65M70.1 330.2h0.65M70.7 331.7h0.65M54.1 387.3h0.65M78.0 362.3h0.65M100.1 333.5h0.65M59.5 338.9h0.65M62.0 358.3h0.65M94.3 347.7h0.65M81.7 354.1h0.65M103.9 330.6h0.65M65.3 367.7h0.65M99.2 329.2h0.65M61.8 365.0h0.65M106.7 336.2h0.65M57.1 359.5h0.65M58.5 334.5h0.65M55.7 357.8h0.65M91.0 345.8h0.65M95.4 341.3h0.65M105.3 336.7h0.65M66.5 335.8h0.65M81.7 367.9h0.65M105.7 335.6h0.65M73.2 372.0h0.65M100.9 345.5h0.65M68.9 346.3h0.65M44.8 405.0h0.65M91.5 359.7h0.65M80.8 338.6h0.65M93.4 341.9h0.65M56.9 347.1h0.65M66.4 335.4h0.65M106.8 343.4h0.65M81.5 346.4h0.65M74.0 360.7h0.65M48.7 357.1h0.65M106.8 325.1h0.65M81.1 358.2h0.65M76.3 342.6h0.65M90.0 343.9h0.65M58.5 326.5h0.65M76.3 342.8h0.65M83.8 352.2h0.65M62.1 351.5h0.65M84.3 348.5h0.65M62.6 366.9h0.65M87.3 345.1h0.65M60.5 371.1h0.65M58.7 328.9h0.65M57.6 322.1h0.65M61.1 351.3h0.65M52.6 369.6h0.65M62.6 321.8h0.65M59.8 375.6h0.65M75.2 322.3h0.65M63.9 369.8h0.65M107.3 345.3h0.65M83.1 318.4h0.65M82.8 334.3h0.65M100.7 358.7h0.65M89.6 366.4h0.65M63.5 334.9h0.65M67.9 322.5h0.65M62.7 326.1h0.65M85.3 365.5h0.65M98.6 353.2h0.65M83.5 367.6h0.65M105.3 335.7h0.65M88.8 334.5h0.65M85.4 331.5h0.65M83.2 343.1h0.65M86.5 361.9h0.65M100.3 327.8h0.65M54.0 368.0h0.65M106.0 323.5h0.65M70.7 341.9h0.65M87.4 331.3h0.65M62.0 329.5h0.65M77.5 347.5h0.65M88.6 334.5h0.65M59.1 361.4h0.65M85.9 357.8h0.65M55.2 375.0h0.65M61.4 375.5h0.65M108.0 335.5h0.65M53.2 345.1h0.65M69.6 335.1h0.65M104.1 329.2h0.65M90.7 360.0h0.65M62.8 375.2h0.65M57.3 341.3h0.65M86.4 360.7h0.65M106.7 342.1h0.65M65.4 333.5h0.65M82.6 359.7h0.65M64.5 324.6h0.65M70.4 374.4h0.65M77.8 350.4h0.65M96.2 337.9h0.65M97.3 321.0h0.65M66.0 367.5h0.65M61.8 345.0h0.65M80.5 333.7h0.65M76.1 337.7h0.65M63.0 352.3h0.65M89.9 360.2h0.65M49.4 337.6h0.65M86.2 352.4h0.65M76.3 317.6h0.65M76.1 374.6h0.65M96.8 329.6h0.65M91.0 354.1h0.65M99.4 359.3h0.65M99.2 332.5h0.65M78.8 345.3h0.65M93.9 348.7h0.65M70.2 319.8h0.65M103.8 338.2h0.65M59.1 318.9h0.65M71.7 321.4h0.65M82.4 334.9h0.65M96.9 337.6h0.65M103.8 340.8h0.65M100.3 331.6h0.65M107.0 338.7h0.65M76.3 365.5h0.65M63.2 362.9h0.65M56.0 361.3h0.65M72.8 352.8h0.65M92.7 352.9h0.65M84.6 361.8h0.65M80.9 367.4h0.65M74.3 339.9h0.65M59.3 341.2h0.65M80.2 321.7h0.65M62.4 315.0h0.65M69.0 315.6h0.65M95.8 336.5h0.65M90.4 338.3h0.65M72.8 334.4h0.65M61.6 331.8h0.65M47.3 407.6h0.65M69.3 345.9h0.65M55.2 348.1h0.65M75.6 360.7h0.65M57.1 358.9h0.65M101.8 324.4h0.65M65.7 340.2h0.65M69.4 349.2h0.65M53.1 360.9h0.65M99.0 336.4h0.65M76.4 353.0h0.65M51.7 344.0h0.65M82.2 322.6h0.65M76.1 318.9h0.65M64.2 358.3h0.65M102.0 345.4h0.65M45.3 409.9h0.65M104.7 321.9h0.65M97.7 355.5h0.65M98.2 327.6h0.65M90.3 343.7h0.65M68.4 365.3h0.65M63.3 373.0h0.65M58.4 346.5h0.65M79.3 328.6h0.65M65.6 338.2h0.65M71.7 357.0h0.65M78.9 316.7h0.65M72.0 371.9h0.65M57.2 358.3h0.65M86.9 326.2h0.65M81.8 355.5h0.65M83.5 360.2h0.65M100.7 322.2h0.65M84.7 322.0h0.65M68.1 351.7h0.65M73.1 318.4h0.65M102.2 322.0h0.65M97.3 355.2h0.65M103.5 350.8h0.65M91.9 325.4h0.65M60.2 356.0h0.65M83.5 321.0h0.65M59.2 328.6h0.65M95.0 352.6h0.65M91.6 335.1h0.65M69.0 339.4h0.65M104.0 346.8h0.65M65.8 329.2h0.65M81.2 361.1h0.65M70.0 317.0h0.65M77.9 355.4h0.65M84.7 350.4h0.65M73.4 372.2h0.65M81.2 331.0h0.65M77.6 329.5h0.65M102.9 324.1h0.65M52.7 345.7h0.65M79.9 347.6h0.65M97.6 325.8h0.65M72.1 365.8h0.65M77.5 323.4h0.65M81.3 336.0h0.65M57.9 329.6h0.65M95.4 356.7h0.65M65.1 338.6h0.65M75.5 355.7h0.65M60.4 370.2h0.65M75.5 350.8h0.65M106.1 337.4h0.65M82.8 338.4h0.65M55.8 358.3h0.65M78.2 330.6h0.65M77.4 349.7h0.65M65.2 317.2h0.65M105.3 327.3h0.65M89.0 358.6h0.65M66.5 332.2h0.65M60.0 352.2h0.65M72.7 325.9h0.65M86.5 366.5h0.65M93.7 363.6h0.65M53.7 369.8h0.65M99.9 358.2h0.65M93.5 336.1h0.65M69.3 346.7h0.65M69.7 343.6h0.65M88.6 333.4h0.65M50.1 368.3h0.65M60.2 378.9h0.65M68.7 330.3h0.65M61.6 360.8h0.65M75.9 375.0h0.65M79.2 325.5h0.65M91.2 336.7h0.65M49.8 318.8h0.65M63.3 334.7h0.65M106.0 332.1h0.65M71.6 323.7h0.65M89.3 352.9h0.65M90.7 344.3h0.65M62.6 356.1h0.65M65.0 371.3h0.65M73.1 364.2h0.65M86.7 359.6h0.65M102.4 319.6h0.65M68.8 358.8h0.65M66.3 341.0h0.65M108.4 343.8h0.65M96.5 359.3h0.65M52.0 360.8h0.65M92.6 336.9h0.65M90.7 362.6h0.65M61.1 380.6h0.65M55.5 328.8h0.65M92.8 333.1h0.65M87.4 316.8h0.65M101.7 335.7h0.65M77.2 341.2h0.65M75.1 346.4h0.65M65.5 374.1h0.65M62.9 336.9h0.65M71.4 326.1h0.65M108.1 340.7h0.65M90.0 322.3h0.65M95.5 327.2h0.65M103.9 347.5h0.65M71.0 330.3h0.65M66.5 363.7h0.65M104.2 324.2h0.65M72.3 346.8h0.65M94.6 361.5h0.65M68.4 367.3h0.65M84.0 325.1h0.65M51.9 342.0h0.65M65.8 328.2h0.65M64.4 373.7h0.65M82.9 330.5h0.65M85.9 316.5h0.65M99.4 348.6h0.65M90.1 347.2h0.65M51.1 334.1h0.65M90.5 341.8h0.65M63.7 355.6h0.65M95.8 333.9h0.65M74.3 341.1h0.65M69.1 339.9h0.65M78.1 343.8h0.65M83.9 332.0h0.65M109.1 337.2h0.65M65.4 318.4h0.65M88.9 329.6h0.65M72.6 332.1h0.65M52.0 380.5h0.65M88.3 342.8h0.65M107.1 325.1h0.65M98.1 358.5h0.65M95.0 347.8h0.65M94.1 356.6h0.65M64.0 369.2h0.65M65.5 332.5h0.65M60.3 359.3h0.65M89.5 322.4h0.65M102.3 356.2h0.65M55.3 318.5h0.65M98.0 338.5h0.65M56.1 336.3h0.65M99.0 340.2h0.65M59.2 360.1h0.65M109.3 336.6h0.65M60.5 349.8h0.65M56.0 326.0h0.65M68.9 350.9h0.65M77.6 331.4h0.65M61.0 369.7h0.65M93.3 346.4h0.65M91.1 365.7h0.65M67.9 332.4h0.65M88.6 368.1h0.65M59.7 373.5h0.65M100.8 333.1h0.65M76.5 324.7h0.65M89.7 326.5h0.65M74.7 316.0h0.65M94.0 354.7h0.65M86.1 335.2h0.65M72.8 316.0h0.65M103.5 319.1h0.65M59.4 344.1h0.65M97.0 362.8h0.65M74.2 333.9h0.65M72.4 375.0h0.65M84.4 360.2h0.65M65.4 344.8h0.65M80.0 338.5h0.65M95.8 345.2h0.65M65.9 341.3h0.65M97.3 332.0h0.65M100.1 358.8h0.65M87.0 333.6h0.65M101.0 335.0h0.65M87.9 355.5h0.65M75.3 337.0h0.65M60.8 373.7h0.65M64.5 365.9h0.65M68.6 332.1h0.65M67.3 334.6h0.65M71.4 342.1h0.65M88.8 361.8h0.65M57.2 366.0h0.65M62.6 354.9h0.65M94.1 357.1h0.65M58.0 333.3h0.65M61.7 382.6h0.65M103.0 355.3h0.65M91.4 346.0h0.65M82.9 318.1h0.65M86.6 341.3h0.65M96.6 359.0h0.65M91.2 366.0h0.65M75.2 360.7h0.65M89.9 367.3h0.65M97.9 354.0h0.65M76.2 339.5h0.65M96.6 335.1h0.65M85.8 337.6h0.65M101.3 359.9h0.65M96.5 326.9h0.65M64.5 330.7h0.65M92.6 359.9h0.65M101.8 338.7h0.65M90.4 325.6h0.65M56.1 338.4h0.65M93.2 338.3h0.65M69.4 363.4h0.65M62.8 356.9h0.65M74.7 354.5h0.65M53.4 370.4h0.65M62.1 324.7h0.65M66.3 342.8h0.65M89.1 333.4h0.65M54.8 370.8h0.65M59.7 384.8h0.65M78.7 335.8h0.65M77.6 348.0h0.65M94.2 358.1h0.65M93.2 315.5h0.65M56.9 320.2h0.65M91.4 341.2h0.65M87.0 340.9h0.65M53.8 370.8h0.65M68.8 360.3h0.65M68.0 356.5h0.65M108.3 331.1h0.65M101.0 331.8h0.65M104.2 320.2h0.65M58.9 319.4h0.65M100.3 325.4h0.65M69.8 362.1h0.65M77.5 335.3h0.65M83.3 339.1h0.65M96.0 330.4h0.65M71.2 347.5h0.65M85.6 325.2h0.65M107.9 326.3h0.65M86.9 321.5h0.65M63.3 336.0h0.65M62.4 344.4h0.65M61.1 378.9h0.65M73.0 316.2h0.65M59.8 381.7h0.65M65.7 315.6h0.65M74.3 343.2h0.65M56.7 341.8h0.65M85.9 362.1h0.65M77.1 324.3h0.65M64.5 369.4h0.65M84.6 368.5h0.65M100.0 361.1h0.65M62.9 328.5h0.65M93.8 365.2h0.65M79.8 353.9h0.65M58.8 351.8h0.65M59.4 321.3h0.65M76.1 337.6h0.65M59.6 377.6h0.65M92.0 332.1h0.65M73.6 374.7h0.65M71.5 345.2h0.65M85.7 365.8h0.65M51.2 389.6h0.65M98.3 353.7h0.65M83.2 361.4h0.65M75.5 323.2h0.65M107.8 329.1h0.65M105.4 344.7h0.65M74.6 370.1h0.65M68.3 315.4h0.65M86.1 338.7h0.65M51.4 368.6h0.65M78.2 333.9h0.65M66.5 337.2h0.65M97.0 338.4h0.65M99.4 339.4h0.65M103.5 328.4h0.65M106.5 332.3h0.65M64.1 374.8h0.65M100.0 361.1h0.65M101.8 316.3h0.65M102.3 342.2h0.65M93.2 323.3h0.65M99.4 336.8h0.65M88.6 365.3h0.65M95.6 353.9h0.65M96.3 336.5h0.65M91.1 320.1h0.65M46.5 414.8h0.65M107.2 351.2h0.65M84.0 366.2h0.65M59.0 353.9h0.65M84.1 365.7h0.65M86.5 323.3h0.65M69.2 346.0h0.65M66.1 374.9h0.65M62.9 359.9h0.65M66.7 373.9h0.65M74.5 324.2h0.65M99.4 328.8h0.65M106.3 332.0h0.65M46.0 375.3h0.65M95.1 357.2h0.65M99.2 351.3h0.65M93.9 325.0h0.65M83.5 369.3h0.65M95.1 355.6h0.65M95.0 358.5h0.65M83.0 341.2h0.65M73.1 338.8h0.65M71.9 358.2h0.65M63.6 345.5h0.65M69.0 329.7h0.65M76.4 367.6h0.65M91.9 318.0h0.65M85.5 319.8h0.65M78.3 320.9h0.65M57.3 329.5h0.65M62.2 315.3h0.65M56.7 356.7h0.65M84.3 321.9h0.65M72.5 370.5h0.65M57.1 333.6h0.65M91.1 335.0h0.65M102.2 342.5h0.65M67.6 336.1h0.65M78.4 332.0h0.65M63.3 382.9h0.65M74.3 334.8h0.65M86.4 362.5h0.65M87.4 338.3h0.65M102.6 355.8h0.65M95.1 326.1h0.65M86.7 366.5h0.65M99.1 315.6h0.65M78.5 368.2h0.65M72.4 374.3h0.65M107.7 329.9h0.65M86.5 337.8h0.65M54.3 348.3h0.65M59.9 381.3h0.65M91.8 362.4h0.65M97.8 334.1h0.65M58.6 381.8h0.65M67.8 347.6h0.65M65.9 330.6h0.65M81.4 341.8h0.65M66.8 374.9h0.65M63.2 326.9h0.65M86.2 364.9h0.65M102.6 346.3h0.65M63.5 375.7h0.65M82.6 353.6h0.65M86.3 321.0h0.65M98.4 349.0h0.65M79.2 330.3h0.65M64.1 343.4h0.65M75.8 361.1h0.65M94.2 349.1h0.65M86.4 336.7h0.65M78.1 332.0h0.65M95.4 348.5h0.65M94.8 357.4h0.65M86.7 347.4h0.65M95.5 326.0h0.65M88.7 347.4h0.65M62.7 317.3h0.65M64.2 325.6h0.65M78.1 347.1h0.65M88.0 318.4h0.65M75.6 326.0h0.65M99.9 341.2h0.65M64.3 331.0h0.65M90.0 342.3h0.65M94.5 353.4h0.65M79.9 357.1h0.65M92.4 348.9h0.65M86.2 326.5h0.65M64.8 366.9h0.65M98.6 325.8h0.65M78.5 353.4h0.65M85.4 359.6h0.65M80.9 366.1h0.65M55.7 334.8h0.65M63.2 326.4h0.65M64.0 365.5h0.65M58.7 356.9h0.65M89.5 343.5h0.65M103.7 335.1h0.65M48.8 413.0h0.65M77.7 337.1h0.65M103.8 343.9h0.65M54.0 356.4h0.65M100.5 320.0h0.65M94.6 318.5h0.65M88.3 342.3h0.65M96.9 339.4h0.65M104.2 350.9h0.65M102.6 317.9h0.65M55.1 330.1h0.65M92.7 322.0h0.65M100.2 355.5h0.65M86.6 317.3h0.65M75.4 346.8h0.65M75.6 343.1h0.65M61.8 344.8h0.65M81.5 361.5h0.65M61.1 339.8h0.65M90.6 367.0h0.65M54.0 377.0h0.65M51.6 339.5h0.65M82.9 356.7h0.65M65.3 317.9h0.65M73.9 328.0h0.65M69.7 364.5h0.65M95.1 316.0h0.65M84.5 341.9h0.65M85.4 334.1h0.65M86.3 335.4h0.65M106.3 343.5h0.65M69.4 332.3h0.65M59.1 367.5h0.65M68.4 356.1h0.65M101.5 345.6h0.65M75.4 370.0h0.65M82.8 352.1h0.65M87.2 332.3h0.65M63.8 322.4h0.65M102.6 317.5h0.65M62.7 326.8h0.65M104.0 341.0h0.65M53.5 343.2h0.65M65.6 323.7h0.65M62.0 356.4h0.65M62.3 335.4h0.65M63.2 335.7h0.65M65.0 326.3h0.65M64.1 370.8h0.65M51.5 323.8h0.65M92.6 319.2h0.65M100.8 353.9h0.65M97.6 343.6h0.65M70.7 342.3h0.65M75.2 331.7h0.65M88.8 328.2h0.65M100.9 357.8h0.65M85.7 357.4h0.65M105.5 343.3h0.65M95.9 346.2h0.65M68.2 320.8h0.65M83.8 329.3h0.65M68.6 363.6h0.65M74.3 321.5h0.65M83.8 335.3h0.65M108.9 339.0h0.65M81.9 318.2h0.65M93.5 318.2h0.65M96.1 342.1h0.65M105.0 329.8h0.65M71.4 338.3h0.65M58.0 364.7h0.65M65.8 321.7h0.65M58.0 338.8h0.65M71.9 328.8h0.65M52.0 369.1h0.65M90.9 317.0h0.65M81.8 359.2h0.65M80.7 340.1h0.65M58.1 325.9h0.65M61.2 369.3h0.65M70.6 358.8h0.65M89.8 347.0h0.65M84.7 325.6h0.65M67.5 374.3h0.65M50.1 374.0h0.65M77.0 337.2h0.65M91.6 361.9h0.65M59.7 378.5h0.65M77.0 368.4h0.65M75.4 342.3h0.65M68.2 372.2h0.65M56.1 314.8h0.65M90.8 317.4h0.65M76.9 327.4h0.65M67.6 344.6h0.65M72.6 319.6h0.65M89.5 316.0h0.65M53.4 365.4h0.65M65.9 353.6h0.65M79.5 337.1h0.65M75.9 341.1h0.65M83.6 351.1h0.65M99.2 329.7h0.65M104.3 333.3h0.65M80.9 369.6h0.65M97.6 324.4h0.65M77.4 360.0h0.65M83.1 322.1h0.65M73.8 357.8h0.65M70.1 325.3h0.65M108.0 348.3h0.65M85.1 355.8h0.65M86.1 347.2h0.65M67.0 338.5h0.65M66.5 355.8h0.65M81.1 354.6h0.65M55.6 335.5h0.65M65.4 373.4h0.65M95.1 349.9h0.65M69.8 350.4h0.65M60.4 329.2h0.65M72.9 343.0h0.65M80.5 316.9h0.65M80.5 360.9h0.65M54.9 323.8h0.65M90.4 345.2h0.65M91.0 320.3h0.65M74.7 350.7h0.65M86.4 319.3h0.65M72.7 374.7h0.65M89.5 335.0h0.65M99.6 341.8h0.65M86.0 359.1h0.65M96.1 344.9h0.65M53.5 373.9h0.65M100.2 352.7h0.65M78.5 326.9h0.65M92.8 323.9h0.65M94.2 354.5h0.65M59.3 330.1h0.65M64.8 325.1h0.65M76.9 356.1h0.65M100.5 361.2h0.65M87.5 361.9h0.65M91.9 333.7h0.65M79.9 322.0h0.65M67.2 369.5h0.65M70.1 362.1h0.65M82.2 360.6h0.65M101.4 333.1h0.65M59.7 341.4h0.65M59.2 334.3h0.65M59.6 368.8h0.65M102.6 348.1h0.65M71.0 367.4h0.65M108.6 339.6h0.65M94.3 356.8h0.65M94.8 337.3h0.65M92.7 316.8h0.65M71.0 354.9h0.65M77.8 356.1h0.65M73.8 321.8h0.65M55.3 359.3h0.65M88.2 335.1h0.65M76.6 332.3h0.65M88.7 365.3h0.65M88.4 332.2h0.65M90.1 334.7h0.65M66.7 364.3h0.65M98.3 349.9h0.65M91.2 332.5h0.65M76.0 353.5h0.65M98.0 354.8h0.65M98.2 346.6h0.65M79.3 362.7h0.65M74.1 330.8h0.65M59.5 364.6h0.65M100.0 353.8h0.65M68.2 370.7h0.65M97.0 349.5h0.65M58.4 349.5h0.65M97.3 320.3h0.65M57.8 323.6h0.65M67.4 323.3h0.65M75.0 362.0h0.65M84.7 333.2h0.65M69.3 334.8h0.65M60.8 346.1h0.65M62.0 371.5h0.65M88.8 347.3h0.65M78.5 318.7h0.65M73.1 353.2h0.65M90.9 327.7h0.65M69.9 351.1h0.65M62.8 343.1h0.65M104.6 325.4h0.65M48.8 345.3h0.65M79.4 344.0h0.65M68.7 325.9h0.65M81.6 341.2h0.65M72.3 358.3h0.65M68.4 344.0h0.65M101.0 345.0h0.65M69.7 339.9h0.65M102.8 328.6h0.65M45.5 396.5h0.65M73.8 345.9h0.65M61.6 331.6h0.65M83.5 331.2h0.65M91.3 356.9h0.65M72.5 373.3h0.65M58.8 323.6h0.65M95.5 360.7h0.65M62.7 382.5h0.65M70.1 355.8h0.65M85.6 365.0h0.65M101.2 316.4h0.65M82.6 366.5h0.65M62.7 359.1h0.65M93.7 342.9h0.65M87.8 347.9h0.65M78.2 319.2h0.65M90.0 327.9h0.65M60.0 327.9h0.65M67.4 317.5h0.65M72.9 356.7h0.65M75.9 331.0h0.65M57.2 338.4h0.65M90.6 320.4h0.65M70.2 326.6h0.65M84.3 342.0h0.65M96.6 349.3h0.65M81.3 327.1h0.65M89.0 343.1h0.65M68.4 333.3h0.65M50.3 406.8h0.65M81.9 333.8h0.65M91.6 364.3h0.65M68.6 342.1h0.65M75.4 372.4h0.65M54.1 372.5h0.65M90.9 354.8h0.65M81.1 335.5h0.65M77.7 320.0h0.65M90.8 361.6h0.65M87.3 324.5h0.65M71.1 344.2h0.65M78.0 339.4h0.65M104.5 355.1h0.65M87.3 322.5h0.65M104.8 334.7h0.65M103.2 342.6h0.65M89.6 346.1h0.65M66.9 350.6h0.65M62.3 360.1h0.65M54.0 337.5h0.65M87.3 339.5h0.65M79.7 354.3h0.65M64.4 376.5h0.65M103.8 345.1h0.65M92.6 341.7h0.65M77.5 346.6h0.65M96.7 328.7h0.65M76.8 362.9h0.65M54.5 344.3h0.65M99.0 330.8h0.65M53.0 387.1h0.65M102.7 317.2h0.65M96.2 363.6h0.65M89.9 329.8h0.65M72.3 331.3h0.65M86.5 332.7h0.65M74.3 329.7h0.65M49.2 378.7h0.65M75.9 328.0h0.65M95.8 316.2h0.65M67.8 371.8h0.65M70.3 357.6h0.65M107.2 322.7h0.65M64.9 370.9h0.65M76.7 366.5h0.65M70.4 346.3h0.65M45.7 404.4h0.65M104.7 318.3h0.65M104.8 322.7h0.65M81.9 330.6h0.65M82.3 367.0h0.65M74.5 355.4h0.65M72.1 325.6h0.65M57.7 371.6h0.65M84.6 363.5h0.65M82.4 358.9h0.65M60.5 321.4h0.65M62.6 382.6h0.65M58.4 365.2h0.65M82.3 365.0h0.65M71.6 349.8h0.65M59.7 350.2h0.65M66.1 339.1h0.65M71.4 323.4h0.65M87.6 352.6h0.65M60.3 314.5h0.65M74.6 352.3h0.65M74.0 334.6h0.65M60.9 371.5h0.65M57.0 322.6h0.65M63.1 359.6h0.65M60.8 340.1h0.65M98.3 322.9h0.65M63.9 360.1h0.65M79.3 363.7h0.65M68.4 355.4h0.65M52.9 331.8h0.65M99.2 337.9h0.65M107.4 327.2h0.65M59.5 366.3h0.65M53.8 382.0h0.65M72.4 367.3h0.65M75.0 348.4h0.65M91.9 333.3h0.65M81.8 363.2h0.65M80.0 335.5h0.65M79.0 326.3h0.65M98.5 346.8h0.65M104.6 332.6h0.65M72.3 370.3h0.65M52.4 343.0h0.65M105.3 330.7h0.65M88.4 354.0h0.65M91.0 339.3h0.65M93.5 362.1h0.65M89.0 362.5h0.65M61.6 373.5h0.65M81.2 326.1h0.65M54.6 384.8h0.65M93.7 338.7h0.65M74.6 345.0h0.65M71.5 335.9h0.65M83.7 345.4h0.65M89.9 354.1h0.65M50.7 337.2h0.65M72.0 331.6h0.65M62.9 321.0h0.65M88.3 328.8h0.65M81.7 355.2h0.65M94.5 318.1h0.65M90.7 339.0h0.65M72.6 334.5h0.65M75.5 366.0h0.65M78.2 326.4h0.65M80.7 345.4h0.65M68.9 314.9h0.65M58.2 327.3h0.65M81.1 335.1h0.65M91.2 358.3h0.65M93.4 342.2h0.65M81.2 340.8h0.65M63.8 376.4h0.65M71.3 360.8h0.65M79.5 352.0h0.65M65.7 339.9h0.65M61.6 364.1h0.65M85.8 353.4h0.65M93.6 326.7h0.65M64.4 315.3h0.65M87.1 348.4h0.65M58.3 373.5h0.65M89.2 329.0h0.65M75.8 321.3h0.65M86.8 315.4h0.65M107.2 343.5h0.65M63.4 360.2h0.65M62.6 345.2h0.65M98.5 361.8h0.65M50.2 411.9h0.65M104.5 350.4h0.65M90.4 344.5h0.65M53.7 320.4h0.65M72.1 366.1h0.65M85.2 322.6h0.65M58.2 352.6h0.65M100.3 340.1h0.65M102.6 352.9h0.65M94.8 330.3h0.65M79.3 370.6h0.65M102.6 335.1h0.65M86.4 323.6h0.65M75.0 350.4h0.65M73.9 336.5h0.65M48.4 326.7h0.65M104.2 343.1h0.65M91.9 360.7h0.65M103.9 324.0h0.65M105.8 348.1h0.65M45.8 424.5h0.65M53.7 384.9h0.65M83.5 338.7h0.65M92.2 334.4h0.65M75.5 345.3h0.65M75.9 321.3h0.65M67.6 350.8h0.65M78.4 318.6h0.65M86.4 328.7h0.65M44.9 333.3h0.65M53.4 325.1h0.65M103.6 322.9h0.65M80.1 365.2h0.65M102.1 319.4h0.65M97.2 339.3h0.65M59.9 356.4h0.65M85.9 335.7h0.65M97.1 332.7h0.65M79.3 349.8h0.65M62.7 363.0h0.65M93.9 346.7h0.65M59.9 332.6h0.65M107.6 329.7h0.65M88.3 368.0h0.65M86.6 355.1h0.65M90.6 338.3h0.65M89.7 325.6h0.65M100.6 339.8h0.65M68.3 355.7h0.65M86.0 361.9h0.65M82.9 328.3h0.65M104.8 326.8h0.65M72.3 350.7h0.65M60.1 382.3h0.65M50.8 334.7h0.65M73.3 357.9h0.65M62.9 330.6h0.65M59.6 366.7h0.65M59.3 378.3h0.65M80.3 324.7h0.65M76.6 319.0h0.65M86.8 334.7h0.65M57.6 371.6h0.65M56.6 375.6h0.65M106.2 325.8h0.65M105.4 340.8h0.65M62.9 374.6h0.65M69.2 361.9h0.65M60.0 317.2h0.65M70.2 354.1h0.65M71.8 369.9h0.65M104.2 339.0h0.65M89.0 358.4h0.65M55.2 324.3h0.65M94.4 331.6h0.65M48.3 405.2h0.65M59.5 361.5h0.65M65.1 356.8h0.65M78.8 361.6h0.65M78.7 334.6h0.65M101.9 354.2h0.65M90.2 334.5h0.65M91.4 354.7h0.65M103.0 342.2h0.65M49.9 406.0h0.65M70.7 369.9h0.65M65.8 372.0h0.65M72.5 351.5h0.65M96.6 327.6h0.65M68.0 339.2h0.65M61.2 382.5h0.65M93.7 337.3h0.65M66.6 331.2h0.65M55.5 376.2h0.65M57.5 369.6h0.65M90.2 339.5h0.65M58.5 355.4h0.65M97.5 336.4h0.65M85.3 364.7h0.65M61.4 347.2h0.65M55.0 367.2h0.65M74.7 334.9h0.65M104.3 319.7h0.65M103.3 342.8h0.65M94.1 348.1h0.65M69.3 323.3h0.65M102.5 353.6h0.65M83.5 340.0h0.65M63.0 346.8h0.65M60.8 329.0h0.65M81.1 358.9h0.65M58.6 368.1h0.65M64.8 357.6h0.65M68.1 328.9h0.65M71.7 369.2h0.65M100.6 347.3h0.65M96.5 359.8h0.65M102.4 358.1h0.65M94.2 330.4h0.65M69.4 319.4h0.65M99.5 347.9h0.65M78.9 365.8h0.65M57.4 363.1h0.65M76.9 354.4h0.65M65.1 346.7h0.65M78.7 340.9h0.65M50.3 413.5h0.65M70.9 342.6h0.65M91.9 351.8h0.65M81.3 360.5h0.65M86.3 368.4h0.65M64.8 351.3h0.65M91.5 323.7h0.65M103.4 336.2h0.65M72.7 353.4h0.65M80.2 364.9h0.65M90.4 364.2h0.65M93.1 332.4h0.65M61.2 368.7h0.65M83.3 339.8h0.65M88.3 346.2h0.65M63.5 351.4h0.65M44.8 421.4h0.65M75.5 340.4h0.65M76.1 366.6h0.65M55.7 356.6h0.65M96.2 316.2h0.65M91.7 351.2h0.65M54.6 343.1h0.65M72.8 354.7h0.65M68.0 370.6h0.65M89.6 325.2h0.65M99.8 323.7h0.65M103.5 348.6h0.65M91.6 341.5h0.65M84.1 351.4h0.65M95.1 316.2h0.65M64.6 330.1h0.65M61.7 334.3h0.65M67.1 341.5h0.65M46.9 364.0h0.65M93.7 330.4h0.65M51.7 382.7h0.65M64.9 325.7h0.65M79.7 332.1h0.65M58.3 384.8h0.65M75.7 366.2h0.65M89.8 357.5h0.65M79.6 349.9h0.65M101.8 337.7h0.65M80.2 355.0h0.65M71.8 347.2h0.65M72.9 318.6h0.65M66.7 350.3h0.65M85.3 315.8h0.65M99.1 351.1h0.65M98.9 317.2h0.65M55.7 347.5h0.65M68.4 325.4h0.65M75.0 374.5h0.65M90.9 342.1h0.65M79.7 326.5h0.65M97.4 354.0h0.65M85.2 333.1h0.65M78.6 334.4h0.65M74.3 371.7h0.65M102.0 332.6h0.65M96.5 353.4h0.65M79.4 319.7h0.65M105.4 338.0h0.65M93.6 334.9h0.65M90.1 336.1h0.65M91.7 358.8h0.65M69.9 342.2h0.65M104.1 356.0h0.65M99.4 356.3h0.65M63.2 375.5h0.65M52.6 325.2h0.65M104.6 322.4h0.65M83.2 323.2h0.65M107.4 341.3h0.65M101.8 340.8h0.65M72.9 348.7h0.65M58.9 385.1h0.65M56.5 357.6h0.65M87.7 340.6h0.65M73.0 335.9h0.65M95.4 322.8h0.65M64.9 370.5h0.65M105.3 351.2h0.65M96.7 359.2h0.65M94.5 340.9h0.65M89.5 316.9h0.65M105.5 343.3h0.65M58.6 358.9h0.65M87.8 363.3h0.65M97.6 349.2h0.65M50.7 336.3h0.65M63.8 325.8h0.65M105.3 320.0h0.65M49.5 407.7h0.65M101.4 323.0h0.65M69.2 339.8h0.65M102.5 337.5h0.65M67.8 363.6h0.65M78.9 360.0h0.65M82.0 356.6h0.65M77.2 357.6h0.65M55.7 349.3h0.65M83.2 353.0h0.65M55.9 364.7h0.65M75.9 329.6h0.65M105.4 344.0h0.65M72.4 335.2h0.65M74.7 347.2h0.65M94.6 328.5h0.65M97.4 324.6h0.65M87.9 364.9h0.65M60.2 317.4h0.65M56.4 321.2h0.65M95.1 330.3h0.65M73.9 315.4h0.65M99.5 338.1h0.65M87.2 366.5h0.65M84.3 358.7h0.65M94.6 337.4h0.65M70.9 355.5h0.65M70.6 343.6h0.65M106.6 347.9h0.65M91.3 366.4h0.65M62.9 360.6h0.65M90.3 360.2h0.65M77.1 331.0h0.65M66.5 331.9h0.65M60.1 346.8h0.65M69.2 339.3h0.65M103.4 336.2h0.65M80.0 341.1h0.65M72.5 330.6h0.65M83.9 355.8h0.65M63.5 343.5h0.65M98.6 345.4h0.65M52.7 350.6h0.65M94.9 348.8h0.65M55.5 316.4h0.65M63.0 317.2h0.65M53.5 358.3h0.65M79.1 329.4h0.65M73.7 353.0h0.65M89.6 359.5h0.65M77.7 339.6h0.65M64.7 327.9h0.65M73.0 346.5h0.65M103.8 357.8h0.65M84.0 326.4h0.65M101.5 332.3h0.65M96.9 353.4h0.65M75.0 344.3h0.65M70.7 344.3h0.65M74.7 329.3h0.65M63.2 321.6h0.65M60.6 359.6h0.65M90.8 332.9h0.65M76.0 332.5h0.65M67.0 369.1h0.65M78.7 335.0h0.65M95.3 350.9h0.65M95.9 337.2h0.65M96.5 357.6h0.65M75.2 373.6h0.65M99.3 316.0h0.65M55.6 334.0h0.65M62.6 369.6h0.65M63.8 382.4h0.65M95.4 342.5h0.65M65.4 344.6h0.65M63.2 366.9h0.65M83.3 368.9h0.65M98.8 344.5h0.65M71.3 321.0h0.65M95.7 334.3h0.65M91.4 316.8h0.65M64.8 362.9h0.65M89.9 323.4h0.65M98.5 346.5h0.65M71.1 375.0h0.65M60.9 367.4h0.65M77.1 353.6h0.65M81.0 369.9h0.65M96.7 361.7h0.65M68.3 343.5h0.65M92.1 317.4h0.65M92.3 352.0h0.65M50.8 315.0h0.65M68.6 323.3h0.65M88.6 347.2h0.65M86.7 332.1h0.65M59.6 319.5h0.65M100.8 350.7h0.65M75.5 366.0h0.65M99.7 345.8h0.65M59.8 347.0h0.65M50.5 364.3h0.65M54.4 329.0h0.65M93.6 358.0h0.65M59.5 361.7h0.65M50.1 376.0h0.65M81.3 347.7h0.65M86.2 357.1h0.65M64.6 357.1h0.65M63.4 359.4h0.65M81.5 353.9h0.65M100.0 342.3h0.65M64.2 316.1h0.65M78.1 334.1h0.65M69.4 344.6h0.65M96.7 316.5h0.65M108.3 336.5h0.65M69.0 356.6h0.65M52.0 368.8h0.65M98.2 335.4h0.65M69.0 336.6h0.65M87.2 321.3h0.65M100.7 336.6h0.65M59.2 358.8h0.65M87.2 349.7h0.65M60.3 355.8h0.65M56.8 315.9h0.65M77.9 335.4h0.65M86.2 317.1h0.65M86.8 352.0h0.65M85.6 363.5h0.65M76.3 351.7h0.65M75.2 352.0h0.65M75.7 342.0h0.65M78.8 332.7h0.65M68.4 362.0h0.65M99.0 349.2h0.65M71.3 332.6h0.65M89.5 365.0h0.65M68.6 345.0h0.65M101.6 321.7h0.65M101.1 319.3h0.65M57.5 367.7h0.65M63.9 338.5h0.65M65.8 316.2h0.65M56.2 336.5h0.65M79.8 319.0h0.65M75.1 369.6h0.65M51.9 318.3h0.65M87.3 351.6h0.65M65.1 360.6h0.65M61.6 354.9h0.65M101.3 340.0h0.65M61.1 362.4h0.65M90.4 318.6h0.65M105.6 345.5h0.65M58.4 360.1h0.65M84.1 354.5h0.65M101.0 335.5h0.65M72.4 361.2h0.65M71.5 330.7h0.65M62.4 318.0h0.65M109.2 341.6h0.65M93.1 341.1h0.65M95.3 361.4h0.65M87.5 345.1h0.65M49.3 329.0h0.65M64.1 326.4h0.65M74.7 341.1h0.65M76.1 337.8h0.65M53.2 322.4h0.65M52.3 372.2h0.65M94.4 320.8h0.65M58.6 373.8h0.65M53.3 328.0h0.65M81.6 339.6h0.65M103.4 352.0h0.65M100.4 349.7h0.65M97.1 341.3h0.65M68.7 360.0h0.65M67.8 364.2h0.65M86.0 347.8h0.65M102.8 320.5h0.65M61.1 383.8h0.65M103.7 349.9h0.65M81.2 348.8h0.65M59.7 340.3h0.65M74.1 358.5h0.65M93.1 334.0h0.65M59.8 320.1h0.65M72.8 357.4h0.65M84.5 334.3h0.65M95.7 362.6h0.65M63.5 334.5h0.65M63.8 378.1h0.65M52.1 342.4h0.65M70.2 363.4h0.65M99.3 347.2h0.65M98.4 349.0h0.65M83.9 328.4h0.65M93.0 318.1h0.65M81.1 335.3h0.65M93.5 349.2h0.65M59.0 357.3h0.65M56.9 315.5h0.65M63.3 353.3h0.65M74.1 368.8h0.65M72.6 320.6h0.65M109.3 340.9h0.65M62.1 330.1h0.65M77.0 369.8h0.65M58.6 370.8h0.65M75.5 317.6h0.65M71.8 322.7h0.65M105.6 344.6h0.65M87.2 348.1h0.65M66.5 318.8h0.65M74.7 338.1h0.65M70.7 368.7h0.65M73.0 339.8h0.65M64.9 336.3h0.65M64.3 361.5h0.65M100.9 343.8h0.65M67.1 363.9h0.65M57.1 332.3h0.65M61.3 372.7h0.65M104.3 347.3h0.65M88.6 319.0h0.65M83.4 362.6h0.65M101.3 330.3h0.65M80.6 361.0h0.65M65.0 370.4h0.65M74.1 363.0h0.65M65.1 348.4h0.65M77.0 330.0h0.65M66.5 346.3h0.65M93.2 328.3h0.65M74.1 347.1h0.65M62.1 360.7h0.65M62.5 342.0h0.65M81.4 364.7h0.65M67.0 370.4h0.65M79.5 345.9h0.65M95.2 341.2h0.65M93.8 354.5h0.65M61.5 345.8h0.65M55.7 347.1h0.65M64.3 362.4h0.65M88.1 330.0h0.65M100.0 353.7h0.65M75.0 360.9h0.65M76.8 322.7h0.65M105.1 324.3h0.65M100.8 343.6h0.65M62.3 347.5h0.65M69.3 360.3h0.65M55.2 370.0h0.65M104.2 346.5h0.65M96.1 354.0h0.65M95.7 336.0h0.65M93.4 348.2h0.65M85.0 321.5h0.65M78.4 359.6h0.65M63.3 379.3h0.65M62.4 348.1h0.65M81.4 325.8h0.65M56.0 337.1h0.65M46.1 397.4h0.65M83.2 322.6h0.65M92.2 364.0h0.65M84.7 334.2h0.65M96.7 351.6h0.65M85.0 334.3h0.65M66.7 329.3h0.65M72.3 363.8h0.65M64.5 379.7h0.65M96.2 315.9h0.65M67.5 373.4h0.65M65.8 372.0h0.65M71.7 350.8h0.65M106.8 329.7h0.65M80.0 325.0h0.65M86.7 364.6h0.65M47.9 407.7h0.65M102.5 340.6h0.65M56.3 334.5h0.65M99.2 338.6h0.65M70.1 330.0h0.65M59.9 349.2h0.65M88.6 354.9h0.65M85.1 361.7h0.65M73.0 348.8h0.65M79.8 334.0h0.65M84.5 368.1h0.65M59.0 329.5h0.65M83.8 357.2h0.65M60.6 365.9h0.65M53.4 360.8h0.65M57.5 358.0h0.65M77.0 339.4h0.65M67.4 316.6h0.65M83.0 358.5h0.65M68.4 361.3h0.65M100.3 356.9h0.65M77.4 336.5h0.65M44.8 332.6h0.65M72.1 352.9h0.65M104.0 327.9h0.65M99.5 357.4h0.65M64.6 372.2h0.65M68.0 349.3h0.65M98.4 346.6h0.65M74.1 318.6h0.65M73.6 374.6h0.65M76.5 370.6h0.65M86.6 334.5h0.65M79.4 337.0h0.65M107.4 325.7h0.65M84.7 360.7h0.65M106.0 344.1h0.65M94.3 332.2h0.65M66.8 329.4h0.65M75.4 317.4h0.65M100.3 330.4h0.65M95.8 331.9h0.65M81.4 334.3h0.65M88.5 339.7h0.65M96.3 344.6h0.65M97.7 320.7h0.65M72.4 355.9h0.65M71.4 332.4h0.65M90.6 360.2h0.65M58.1 362.1h0.65M78.2 334.6h0.65M57.4 338.5h0.65M80.5 344.0h0.65M66.4 333.6h0.65M60.5 357.9h0.65M102.4 324.9h0.65M102.2 321.5h0.65M68.1 336.6h0.65M87.6 362.7h0.65M60.5 382.2h0.65M53.9 322.0h0.65M88.2 362.3h0.65M108.8 334.9h0.65M108.8 342.5h0.65M58.3 320.0h0.65M64.2 376.2h0.65M73.3 320.4h0.65M65.0 316.0h0.65M92.4 336.1h0.65M98.1 322.8h0.65M101.7 343.8h0.65M52.2 391.4h0.65M96.2 323.7h0.65M84.4 358.4h0.65M56.0 373.5h0.65M74.3 372.4h0.65M48.5 406.5h0.65M99.0 331.7h0.65M85.8 326.6h0.65M56.1 365.4h0.65M92.2 362.0h0.65M86.2 327.3h0.65M94.8 347.3h0.65M75.1 374.5h0.65M107.8 347.9h0.65M78.2 351.0h0.65M66.8 333.5h0.65M70.3 318.3h0.65M52.4 353.4h0.65M80.2 323.1h0.65M96.3 319.4h0.65M106.6 339.1h0.65M54.3 327.6h0.65M84.1 322.5h0.65M86.7 350.8h0.65M61.4 316.4h0.65M97.7 316.2h0.65M68.1 354.5h0.65M67.7 345.3h0.65M79.7 325.4h0.65M64.9 350.2h0.65M92.3 334.6h0.65M66.4 358.3h0.65M73.7 320.8h0.65M101.8 330.3h0.65M84.6 345.3h0.65M76.6 371.7h0.65M69.6 335.0h0.65M95.3 318.5h0.65M104.8 328.1h0.65M84.6 348.9h0.65M64.6 370.9h0.65M93.3 334.5h0.65M57.3 318.1h0.65M91.2 330.8h0.65M99.2 353.7h0.65M67.7 338.9h0.65M56.8 316.0h0.65M60.0 331.6h0.65M71.4 337.8h0.65M67.9 350.3h0.65M76.6 339.3h0.65M107.1 321.7h0.65M72.6 330.9h0.65M71.2 349.2h0.65M105.0 327.5h0.65M82.7 347.6h0.65M103.3 355.3h0.65M101.0 320.1h0.65M72.2 351.4h0.65M69.3 341.3h0.65M68.5 342.3h0.65M67.6 334.9h0.65M52.8 358.9h0.65M101.2 342.5h0.65M64.4 348.7h0.65M105.8 336.0h0.65M88.2 359.1h0.65M52.1 347.3h0.65M80.9 367.0h0.65M74.2 365.9h0.65M63.8 357.9h0.65M72.0 337.0h0.65M88.4 366.1h0.65M63.9 355.2h0.65M84.6 361.1h0.65M80.1 329.4h0.65M66.1 319.5h0.65M98.3 340.9h0.65M90.9 364.3h0.65M58.5 344.7h0.65M56.0 385.4h0.65M84.3 324.7h0.65M87.4 362.7h0.65M86.4 326.7h0.65M72.3 363.7h0.65M74.8 343.8h0.65M85.9 330.5h0.65M70.4 337.0h0.65M59.0 369.0h0.65M97.6 346.8h0.65M65.2 344.7h0.65M89.9 344.5h0.65M55.7 363.2h0.65M62.2 365.5h0.65M66.8 352.1h0.65M93.8 344.3h0.65M83.3 324.0h0.65M85.1 356.6h0.65M100.0 348.7h0.65M93.0 334.6h0.65M91.6 362.3h0.65M100.6 343.2h0.65M65.6 352.5h0.65M73.8 315.1h0.65M91.7 358.6h0.65M89.6 334.7h0.65M63.1 379.2h0.65M99.6 357.6h0.65M68.2 336.5h0.65M55.0 357.3h0.65M86.6 315.7h0.65M106.5 337.2h0.65M103.4 344.6h0.65M83.6 359.4h0.65M74.1 369.8h0.65M78.9 333.0h0.65M84.3 336.7h0.65M52.3 372.5h0.65M107.3 324.6h0.65M98.5 343.7h0.65M99.4 327.4h0.65M86.8 359.9h0.65M58.6 376.4h0.65M64.7 323.9h0.65M71.4 327.0h0.65M104.4 321.7h0.65M82.8 330.7h0.65M70.4 350.3h0.65M99.9 354.2h0.65M68.7 373.2h0.65M103.0 356.5h0.65M70.0 368.8h0.65M91.7 345.9h0.65M53.5 344.3h0.65M56.2 346.8h0.65M101.7 345.6h0.65M83.2 335.2h0.65M90.3 359.8h0.65M100.5 356.7h0.65M70.9 368.2h0.65M92.2 364.4h0.65M79.0 331.6h0.65M102.6 315.9h0.65M68.2 335.2h0.65M72.8 341.0h0.65M81.9 340.0h0.65M100.4 331.5h0.65M73.4 351.1h0.65M84.5 322.7h0.65M86.9 361.9h0.65M77.2 349.7h0.65M68.7 347.7h0.65M101.8 356.7h0.65M60.8 340.1h0.65M91.8 347.0h0.65M61.1 336.7h0.65M80.0 320.4h0.65M77.7 320.6h0.65M104.1 330.0h0.65M63.7 356.7h0.65M78.8 325.2h0.65M58.6 358.7h0.65M95.7 362.1h0.65M71.1 351.8h0.65M95.2 350.3h0.65M71.2 368.0h0.65M94.4 333.9h0.65M88.1 365.2h0.65M98.3 351.3h0.65M75.3 342.0h0.65M108.4 329.3h0.65M77.9 358.4h0.65M93.1 356.4h0.65M81.6 355.3h0.65M76.2 345.5h0.65M105.6 334.6h0.65M73.2 366.6h0.65M104.8 343.7h0.65M99.3 319.0h0.65M103.8 329.2h0.65M107.2 336.7h0.65M97.6 346.3h0.65M72.2 373.5h0.65M88.4 352.4h0.65M59.9 367.1h0.65M88.8 347.3h0.65M104.9 354.9h0.65M85.8 346.9h0.65M53.2 339.1h0.65M77.3 369.7h0.65M78.8 341.1h0.65M81.8 315.6h0.65M57.6 375.1h0.65M71.7 357.0h0.65M92.2 358.1h0.65M78.5 359.1h0.65M106.9 342.3h0.65M79.6 357.6h0.65M57.4 378.2h0.65M75.1 360.2h0.65M87.6 339.9h0.65M48.8 327.7h0.65M46.0 352.9h0.65M72.9 365.5h0.65M93.4 334.1h0.65M65.8 372.4h0.65M95.7 340.5h0.65M88.1 358.6h0.65M76.6 333.6h0.65M94.2 319.6h0.65M61.8 349.1h0.65M71.5 339.9h0.65M60.1 323.2h0.65M65.0 321.9h0.65M58.7 343.9h0.65M97.8 359.8h0.65M98.3 363.0h0.65M68.7 318.2h0.65M73.5 353.1h0.65M66.3 327.2h0.65M82.0 334.6h0.65M70.2 349.4h0.65M68.7 369.4h0.65M98.7 318.8h0.65M61.1 367.5h0.65M87.3 362.4h0.65M68.0 319.1h0.65M99.8 336.5h0.65M91.8 318.0h0.65M90.9 359.7h0.65M84.6 365.0h0.65M79.2 326.2h0.65M97.9 336.7h0.65M95.7 344.7h0.65M96.2 330.6h0.65M67.9 336.4h0.65M58.2 331.7h0.65M51.9 342.3h0.65M57.9 350.2h0.65M84.8 317.5h0.65M73.6 341.6h0.65M71.4 374.8h0.65M106.9 323.8h0.65M78.8 324.6h0.65M105.7 329.8h0.65M97.4 342.0h0.65M78.2 323.4h0.65M97.0 352.1h0.65M83.9 365.2h0.65M72.4 338.8h0.65M79.6 320.9h0.65M65.2 377.0h0.65M84.1 333.8h0.65M70.0 357.3h0.65M95.5 355.8h0.65M74.4 320.8h0.65M93.3 356.4h0.65M75.3 343.7h0.65M75.5 335.0h0.65M102.8 352.5h0.65M93.4 330.9h0.65M63.6 318.3h0.65M87.3 360.1h0.65M86.3 351.5h0.65M85.1 357.7h0.65M90.3 358.8h0.65M69.9 321.2h0.65M104.5 347.7h0.65M81.0 329.5h0.65M75.2 352.7h0.65M74.7 315.0h0.65M101.7 319.8h0.65M70.3 368.9h0.65M61.8 333.0h0.65M94.9 341.5h0.65M98.5 331.1h0.65M86.1 330.0h0.65M55.5 325.7h0.65M54.4 344.0h0.65M72.1 344.3h0.65M77.3 315.2h0.65M64.8 325.6h0.65M66.4 359.7h0.65M102.6 348.9h0.65M82.6 346.6h0.65M77.1 322.5h0.65M106.2 346.6h0.65M91.8 355.5h0.65M78.4 363.0h0.65M75.5 352.4h0.65M79.0 318.8h0.65M84.1 366.9h0.65M94.0 338.1h0.65M76.9 345.2h0.65M66.2 351.9h0.65M85.7 325.6h0.65M63.5 360.2h0.65M75.6 337.4h0.65M64.1 353.9h0.65M101.8 358.5h0.65M93.9 365.4h0.65M71.5 345.8h0.65M47.0 382.2h0.65M80.8 364.9h0.65M53.5 340.9h0.65M89.6 335.2h0.65M72.7 322.5h0.65M62.9 368.4h0.65M52.4 342.4h0.65M101.0 360.4h0.65M63.6 331.3h0.65M95.5 322.7h0.65M82.5 368.2h0.65M101.1 355.3h0.65M62.5 372.0h0.65M97.4 357.4h0.65M105.9 350.2h0.65M88.3 342.4h0.65M53.4 321.9h0.65M55.4 329.0h0.65M72.1 354.6h0.65M76.4 351.6h0.65M68.9 372.9h0.65M102.3 329.0h0.65M75.8 321.8h0.65M97.4 315.6h0.65M57.8 327.4h0.65M59.6 382.5h0.65M105.8 318.3h0.65M63.5 335.6h0.65M97.8 356.4h0.65M73.1 341.8h0.65M81.5 345.2h0.65M69.9 366.0h0.65M61.6 353.9h0.65M61.5 350.4h0.65M56.1 348.3h0.65M65.7 316.5h0.65M52.7 362.9h0.65M74.7 334.7h0.65M95.3 328.4h0.65M57.5 324.0h0.65M57.3 365.1h0.65M71.3 365.9h0.65M56.1 327.5h0.65M100.6 320.5h0.65M104.2 323.4h0.65M81.0 325.1h0.65M68.5 370.6h0.65M54.3 372.0h0.65M75.7 374.4h0.65M72.9 334.7h0.65M106.6 328.2h0.65M74.6 346.4h0.65M95.7 328.9h0.65M82.3 333.4h0.65M83.9 319.8h0.65M59.1 377.2h0.65M106.3 342.8h0.65M75.8 364.0h0.65M64.1 319.8h0.65M97.2 350.4h0.65M86.8 334.9h0.65M87.2 346.8h0.65M72.6 325.8h0.65M57.9 378.7h0.65M50.8 342.4h0.65M89.9 350.7h0.65M75.8 323.1h0.65M63.0 380.3h0.65M77.6 368.7h0.65M67.3 351.4h0.65M100.2 352.9h0.65M86.3 345.1h0.65M87.5 334.8h0.65M69.2 368.7h0.65M106.4 328.8h0.65M63.2 365.0h0.65M87.8 347.1h0.65M96.1 349.4h0.65M97.7 359.6h0.65M88.6 360.3h0.65M54.9 335.6h0.65M52.4 363.8h0.65M85.6 320.0h0.65M62.8 353.5h0.65M96.4 361.8h0.65M57.1 380.1h0.65M69.0 357.4h0.65M80.6 355.1h0.65M72.2 320.9h0.65M63.8 326.9h0.65M89.9 356.5h0.65M72.4 341.7h0.65M76.0 345.1h0.65M76.8 360.4h0.65M85.7 361.3h0.65M108.1 336.5h0.65M63.1 335.5h0.65M95.5 340.8h0.65M75.1 319.9h0.65M98.0 337.5h0.65M70.5 370.4h0.65M67.6 374.1h0.65M97.3 347.1h0.65M98.8 335.3h0.65M81.7 328.6h0.65M73.7 326.7h0.65M62.7 354.1h0.65M99.2 317.6h0.65M106.6 344.5h0.65M63.8 365.8h0.65M81.9 367.6h0.65M76.2 358.7h0.65M62.2 335.8h0.65M67.8 347.4h0.65M88.8 359.8h0.65M97.2 327.6h0.65M61.0 375.0h0.65M87.4 361.4h0.65M81.0 365.3h0.65M57.6 344.9h0.65M90.3 335.7h0.65M90.5 315.8h0.65M87.8 355.7h0.65M88.6 328.7h0.65M51.4 338.7h0.65M51.1 370.0h0.65M75.8 320.1h0.65M67.3 374.3h0.65M86.4 330.2h0.65M69.5 335.2h0.65M66.7 369.7h0.65M88.5 358.9h0.65M97.6 334.0h0.65M70.2 360.9h0.65M78.3 354.9h0.65M55.5 348.9h0.65M68.8 314.7h0.65M74.0 344.4h0.65M102.7 353.8h0.65M83.3 332.6h0.65M56.5 321.2h0.65M79.0 349.6h0.65M65.2 368.3h0.65M97.0 336.4h0.65M94.5 319.4h0.65M96.2 364.2h0.65M101.9 331.6h0.65M86.2 362.6h0.65M69.1 322.2h0.65M72.5 332.8h0.65M88.0 322.7h0.65M72.7 368.3h0.65M83.2 328.5h0.65M103.4 323.5h0.65M67.0 337.5h0.65M79.9 335.8h0.65M94.8 317.5h0.65M62.9 315.0h0.65M101.5 341.5h0.65M82.1 362.6h0.65M103.8 354.7h0.65M93.5 362.0h0.65M75.0 340.8h0.65M83.9 369.3h0.65M98.1 324.1h0.65M87.7 357.2h0.65M72.4 318.2h0.65M90.6 337.4h0.65M73.7 363.9h0.65M94.1 364.6h0.65M72.0 321.8h0.65M64.6 379.6h0.65M94.7 346.5h0.65M77.2 352.9h0.65M65.3 317.9h0.65M72.9 368.2h0.65M94.8 328.4h0.65M101.9 337.8h0.65M58.4 345.9h0.65M73.0 333.5h0.65M63.5 322.7h0.65M49.3 373.7h0.65M84.3 327.7h0.65M105.3 343.6h0.65M74.6 343.6h0.65M74.4 357.6h0.65M82.5 338.7h0.65M64.1 359.0h0.65M88.8 339.5h0.65M65.5 338.4h0.65M55.2 376.6h0.65M87.0 357.9h0.65M95.6 348.9h0.65M66.7 365.9h0.65M72.5 335.6h0.65M45.6 355.9h0.65M76.3 350.1h0.65M98.7 344.8h0.65M97.1 327.7h0.65M80.4 316.0h0.65M58.9 372.6h0.65M68.3 326.9h0.65M103.3 332.8h0.65M81.7 349.2h0.65M76.7 366.6h0.65M59.9 384.6h0.65M101.0 317.3h0.65M70.5 371.9h0.65M90.6 339.0h0.65M76.7 372.8h0.65M61.6 380.2h0.65M104.9 354.8h0.65M103.8 351.9h0.65M88.7 320.2h0.65M77.9 347.8h0.65M87.2 341.7h0.65M78.7 325.8h0.65M95.1 340.1h0.65M62.9 346.6h0.65M78.8 321.3h0.65M88.6 331.3h0.65M95.1 333.3h0.65M55.0 358.8h0.65M49.7 330.4h0.65M86.4 346.0h0.65M53.3 360.9h0.65M88.9 326.8h0.65M97.8 317.0h0.65M45.7 423.7h0.65M91.9 355.5h0.65M80.2 316.4h0.65M100.2 361.2h0.65M72.5 376.0h0.65M89.0 357.3h0.65M55.7 386.5h0.65M82.2 360.1h0.65M101.2 350.8h0.65M106.5 328.1h0.65M51.6 345.0h0.65M95.3 351.7h0.65M86.7 335.7h0.65M92.4 318.8h0.65M82.1 319.4h0.65M70.7 335.8h0.65M98.8 333.4h0.65M94.8 334.1h0.65M83.0 324.1h0.65M64.5 319.8h0.65M97.7 317.4h0.65M94.4 336.4h0.65M75.4 338.3h0.65M73.1 365.2h0.65M82.3 358.3h0.65M86.9 340.6h0.65M88.5 361.2h0.65M85.6 330.4h0.65M61.1 346.7h0.65M79.1 331.9h0.65M91.8 350.1h0.65M89.7 331.4h0.65M58.9 381.7h0.65M90.1 361.1h0.65M106.4 327.3h0.65M68.5 345.2h0.65M104.8 326.0h0.65M55.2 370.8h0.65M55.1 365.5h0.65M50.6 337.7h0.65M64.0 356.0h0.65M78.1 345.0h0.65M79.3 362.2h0.65M71.8 359.1h0.65M80.0 364.1h0.65M67.6 360.5h0.65M60.1 337.0h0.65M103.9 329.5h0.65M79.3 340.4h0.65M95.7 320.4h0.65M90.9 346.6h0.65M81.8 364.7h0.65M79.2 344.8h0.65M67.1 337.7h0.65M76.7 324.8h0.65M93.1 316.0h0.65M102.3 354.5h0.65M50.7 380.7h0.65M85.9 321.0h0.65M98.2 321.5h0.65M99.4 350.4h0.65M97.3 327.0h0.65M105.6 350.5h0.65M74.6 342.8h0.65M79.7 349.5h0.65M57.8 334.2h0.65M80.4 347.4h0.65M76.9 355.0h0.65M89.7 317.8h0.65M71.3 327.8h0.65M83.8 360.7h0.65M67.3 359.3h0.65M97.4 329.6h0.65M76.8 338.7h0.65M93.9 318.6h0.65M86.0 359.1h0.65M76.8 371.8h0.65M81.7 352.9h0.65M62.7 371.0h0.65M103.7 345.8h0.65M63.2 380.1h0.65M103.2 348.8h0.65M84.2 349.5h0.65M75.6 357.1h0.65M61.6 320.3h0.65M97.4 353.3h0.65M74.2 331.8h0.65M77.1 346.8h0.65M95.3 329.9h0.65M46.6 350.9h0.65M88.7 365.5h0.65M73.1 318.2h0.65M50.6 350.1h0.65M85.5 355.0h0.65M46.8 381.2h0.65M93.3 333.8h0.65M57.5 323.3h0.65M96.0 326.1h0.65M70.0 346.6h0.65M76.5 338.8h0.65M106.8 332.6h0.65M75.4 328.9h0.65M80.4 339.4h0.65M60.4 328.2h0.65M81.0 347.5h0.65M103.7 337.0h0.65M54.3 354.0h0.65M101.5 335.6h0.65M90.1 365.3h0.65M78.7 369.0h0.65M106.2 332.0h0.65M104.5 355.8h0.65M58.0 321.7h0.65M65.8 329.2h0.65M94.7 331.8h0.65M90.8 354.1h0.65M93.6 337.1h0.65M104.9 320.5h0.65M79.2 333.6h0.65M55.6 324.7h0.65M68.1 372.4h0.65M103.0 324.5h0.65M88.3 359.5h0.65M103.3 348.1h0.65M62.8 346.5h0.65M48.0 357.4h0.65M101.9 338.2h0.65M98.5 347.2h0.65M58.0 332.1h0.65M63.1 330.1h0.65M82.4 331.5h0.65M102.8 338.2h0.65M68.2 334.6h0.65M82.8 339.0h0.65M80.9 335.4h0.65M74.1 345.4h0.65M57.5 371.5h0.65M86.1 327.7h0.65M65.1 366.3h0.65M102.0 340.8h0.65M86.8 346.6h0.65M52.2 375.7h0.65M71.5 369.8h0.65M74.2 369.7h0.65M90.3 321.9h0.65M66.0 328.3h0.65M95.6 341.5h0.65M75.1 374.0h0.65M93.8 359.6h0.65M73.8 333.7h0.65M81.2 346.4h0.65M84.5 358.1h0.65M91.0 346.3h0.65M65.9 372.6h0.65M58.1 322.7h0.65M56.8 375.8h0.65M58.9 336.3h0.65M89.1 319.4h0.65M106.8 339.2h0.65M58.4 382.1h0.65M73.4 331.3h0.65M70.3 323.8h0.65M71.4 375.7h0.65M98.2 363.3h0.65M74.2 332.3h0.65M106.1 326.8h0.65M83.1 318.7h0.65M108.9 341.1h0.65M58.8 361.6h0.65M52.5 336.3h0.65M92.7 334.3h0.65M81.3 360.4h0.65M67.3 355.5h0.65M82.8 315.5h0.65M56.0 336.2h0.65M102.3 323.1h0.65M79.8 332.9h0.65M71.8 362.9h0.65M85.1 351.2h0.65M72.8 330.4h0.65M59.1 366.5h0.65M68.7 351.5h0.65M59.0 314.9h0.65M83.3 331.0h0.65M82.6 338.4h0.65M72.2 371.2h0.65M83.2 330.3h0.65M102.6 343.2h0.65M102.4 339.1h0.65M56.9 367.0h0.65M66.0 369.0h0.65M103.8 348.0h0.65M59.4 352.2h0.65M99.6 319.4h0.65M53.4 343.8h0.65M55.1 369.9h0.65M63.3 322.9h0.65M104.7 320.0h0.65M60.7 380.6h0.65M57.6 370.7h0.65M100.4 331.2h0.65M96.4 327.1h0.65M58.8 363.2h0.65M73.6 351.0h0.65M66.9 331.3h0.65M68.5 364.9h0.65M104.2 350.8h0.65M76.2 366.5h0.65M86.1 324.5h0.65M98.2 358.6h0.65M53.8 323.5h0.65M62.5 321.3h0.65M57.3 337.8h0.65M95.3 342.2h0.65M93.1 332.2h0.65M68.3 359.2h0.65M78.7 368.8h0.65M96.9 343.5h0.65M88.5 366.8h0.65M97.6 359.8h0.65M62.4 317.3h0.65M97.2 325.5h0.65M71.9 324.8h0.65M103.9 324.1h0.65M80.6 345.2h0.65M100.5 352.1h0.65M67.1 315.3h0.65M89.8 355.1h0.65M61.2 359.0h0.65M85.9 360.8h0.65M68.8 320.6h0.65M86.3 349.9h0.65M78.5 357.5h0.65M58.6 324.7h0.65M63.2 330.7h0.65M72.3 348.4h0.65M64.6 326.6h0.65M88.7 349.8h0.65M93.7 365.9h0.65M81.9 317.5h0.65M59.0 315.5h0.65M67.8 358.9h0.65M62.9 344.0h0.65M98.7 352.6h0.65M106.3 317.8h0.65M74.5 346.3h0.65M67.4 344.9h0.65M74.1 323.1h0.65M97.8 355.0h0.65M105.0 354.2h0.65M63.3 371.9h0.65M100.2 359.4h0.65M88.6 342.4h0.65M96.5 318.8h0.65M67.0 321.7h0.65M82.1 331.1h0.65M95.4 328.5h0.65M52.1 343.2h0.65M75.3 339.2h0.65M104.1 322.0h0.65M63.3 316.7h0.65M69.7 319.6h0.65M99.4 353.3h0.65M95.1 350.7h0.65M68.3 354.8h0.65M89.6 327.9h0.65M54.0 319.4h0.65M45.6 418.1h0.65M59.5 347.7h0.65M78.1 329.6h0.65M96.3 331.3h0.65M66.8 335.4h0.65M106.5 337.9h0.65M88.9 328.2h0.65M85.6 363.7h0.65M68.0 348.6h0.65M71.7 361.6h0.65M72.9 339.2h0.65M101.9 331.5h0.65M101.8 319.1h0.65M75.1 328.1h0.65M85.8 336.4h0.65M71.0 375.7h0.65M83.3 357.0h0.65M94.3 348.4h0.65M90.2 351.0h0.65M66.7 328.0h0.65M75.2 367.6h0.65M94.8 349.1h0.65M101.9 346.6h0.65M99.9 330.0h0.65M89.1 341.9h0.65M97.3 355.5h0.65M84.1 328.0h0.65M91.8 354.7h0.65M100.1 344.7h0.65M79.4 347.8h0.65M68.0 357.5h0.65M60.3 365.3h0.65M69.9 321.2h0.65M71.6 339.1h0.65M75.8 339.1h0.65M75.2 337.0h0.65M79.8 363.4h0.65M67.8 332.5h0.65M68.4 350.3h0.65M86.6 359.5h0.65M109.3 338.2h0.65M89.5 361.2h0.65M100.6 356.6h0.65M59.8 346.2h0.65M65.5 348.2h0.65M76.0 342.5h0.65M61.5 374.4h0.65M61.9 346.2h0.65M73.4 368.8h0.65M81.5 336.0h0.65M85.1 355.9h0.65M94.3 350.1h0.65M52.1 341.3h0.65M83.9 348.2h0.65M86.0 337.7h0.65M62.4 339.5h0.65M106.3 335.5h0.65M57.7 381.5h0.65M61.5 369.9h0.65M95.8 321.7h0.65M67.2 331.7h0.65M68.0 371.7h0.65M87.9 335.2h0.65M88.0 330.7h0.65M86.0 316.1h0.65M53.1 346.8h0.65M49.4 322.6h0.65M99.3 345.7h0.65M74.7 370.2h0.65M94.0 320.8h0.65M68.6 345.1h0.65M97.0 361.7h0.65M98.7 329.7h0.65M70.1 320.8h0.65M94.8 335.7h0.65M63.2 336.1h0.65M77.5 341.3h0.65M56.8 384.4h0.65M59.6 368.0h0.65M75.2 349.2h0.65M67.4 360.1h0.65M59.1 377.1h0.65M94.9 318.0h0.65M61.2 321.5h0.65M91.4 344.8h0.65M106.2 328.1h0.65M66.1 349.0h0.65M72.3 361.7h0.65M97.2 352.7h0.65M88.3 330.3h0.65M81.6 369.3h0.65M85.5 343.2h0.65M60.2 338.2h0.65M78.5 333.6h0.65M84.8 319.5h0.65M83.4 319.4h0.65M56.0 357.6h0.65M93.0 350.1h0.65M57.2 366.7h0.65M102.9 343.5h0.65M99.7 347.7h0.65M57.5 351.7h0.65M59.4 315.1h0.65M70.3 369.6h0.65M85.9 318.3h0.65M84.0 330.0h0.65M103.6 317.2h0.65M73.6 347.5h0.65M72.5 321.8h0.65M83.0 334.8h0.65M76.0 316.7h0.65M59.1 318.1h0.65M61.6 319.3h0.65M84.6 361.4h0.65M84.0 319.6h0.65M73.1 332.5h0.65M61.8 327.8h0.65M77.1 358.2h0.65M76.7 347.1h0.65M62.2 344.4h0.65M58.9 340.8h0.65M57.6 380.6h0.65M61.7 337.2h0.65M105.9 321.6h0.65M92.7 356.8h0.65M78.3 352.5h0.65M94.8 330.8h0.65M58.4 335.4h0.65M52.1 345.3h0.65M95.1 365.4h0.65M84.3 325.1h0.65M85.9 320.9h0.65M78.1 365.9h0.65M75.6 368.3h0.65M80.1 360.2h0.65M83.6 322.6h0.65M69.9 366.7h0.65M58.8 363.5h0.65M79.4 359.9h0.65M75.7 343.4h0.65M100.5 320.8h0.65M98.2 342.0h0.65M83.1 316.4h0.65M76.0 322.5h0.65M69.3 335.1h0.65M73.6 375.4h0.65M77.0 331.8h0.65M92.9 323.7h0.65M79.3 362.0h0.65M103.5 333.8h0.65M60.3 384.9h0.65M101.6 352.0h0.65M106.8 344.2h0.65M75.7 325.7h0.65M71.3 335.0h0.65M70.0 339.2h0.65M53.3 337.5h0.65M65.1 363.3h0.65M84.6 359.0h0.65M91.2 326.1h0.65M81.3 332.7h0.65M79.3 369.6h0.65M61.7 329.5h0.65M62.7 377.1h0.65M96.3 343.5h0.65M96.7 326.7h0.65M74.1 338.1h0.65M67.1 335.7h0.65M62.2 355.4h0.65M62.0 363.7h0.65M94.7 354.4h0.65M62.5 377.1h0.65M53.6 377.6h0.65M70.3 324.2h0.65M85.7 359.8h0.65M74.4 325.6h0.65M61.7 343.3h0.65M108.1 327.5h0.65M72.8 338.8h0.65M93.6 338.3h0.65M88.7 338.9h0.65M88.0 324.5h0.65M74.5 317.5h0.65M72.5 366.2h0.65M70.0 347.2h0.65M90.1 338.3h0.65M73.7 347.9h0.65M84.2 353.8h0.65M89.1 363.2h0.65M59.2 342.4h0.65M74.7 325.0h0.65M98.0 341.9h0.65M52.0 349.5h0.65M64.4 317.9h0.65M74.4 328.5h0.65M64.2 381.5h0.65M67.6 349.1h0.65M100.2 318.7h0.65M70.2 343.7h0.65M103.1 355.1h0.65M97.2 363.2h0.65M66.4 319.3h0.65M67.1 325.2h0.65M85.2 344.0h0.65M47.1 341.0h0.65M60.7 350.1h0.65M53.7 371.3h0.65M54.7 350.0h0.65M106.8 337.6h0.65M88.5 342.8h0.65M80.7 322.7h0.65M95.1 323.1h0.65M104.0 336.5h0.65M67.7 346.4h0.65M65.1 345.8h0.65M80.7 369.1h0.65M92.3 354.9h0.65M78.9 347.1h0.65M97.9 324.0h0.65M62.5 367.7h0.65M90.9 367.2h0.65M105.8 337.9h0.65M97.2 343.1h0.65M63.0 381.3h0.65M88.3 359.6h0.65M86.6 319.7h0.65M66.4 320.8h0.65M106.7 347.5h0.65M94.4 325.4h0.65M98.1 321.9h0.65M62.8 322.6h0.65M100.8 322.2h0.65M66.2 374.6h0.65M74.1 347.6h0.65M89.6 357.6h0.65M75.2 325.8h0.65M87.2 360.3h0.65M66.5 363.3h0.65M68.1 322.0h0.65M56.5 369.3h0.65M70.6 364.3h0.65M86.1 344.5h0.65M64.5 316.7h0.65M72.8 338.8h0.65M94.7 365.7h0.65M104.7 341.1h0.65M96.3 352.1h0.65M98.9 346.9h0.65M56.1 326.4h0.65M75.4 338.0h0.65M85.9 319.1h0.65M98.4 352.8h0.65M58.8 318.3h0.65M65.6 362.0h0.65M97.4 355.9h0.65M69.6 325.8h0.65M75.1 364.5h0.65M105.8 321.9h0.65M63.7 373.6h0.65M86.7 322.5h0.65M96.9 353.8h0.65M96.6 316.4h0.65M69.9 364.2h0.65M64.5 369.2h0.65M82.6 330.1h0.65M86.5 320.6h0.65M60.2 357.1h0.65M51.7 338.9h0.65M55.5 378.8h0.65M57.7 375.7h0.65M69.9 335.7h0.65M100.8 360.2h0.65M71.7 350.0h0.65M89.6 355.5h0.65M102.7 352.3h0.65M74.9 318.8h0.65M75.4 371.1h0.65M72.4 363.7h0.65M100.2 319.8h0.65M81.6 340.1h0.65M82.4 348.3h0.65M99.2 355.1h0.65M54.4 325.0h0.65M93.2 342.4h0.65M63.7 350.9h0.65M106.4 321.2h0.65M65.3 353.7h0.65M81.7 320.5h0.65M96.9 318.5h0.65M60.2 344.5h0.65M91.2 326.7h0.65M97.9 342.8h0.65M101.0 343.6h0.65M90.2 361.4h0.65M60.5 375.9h0.65M71.1 324.2h0.65M77.0 328.0h0.65M96.6 359.4h0.65M95.1 323.5h0.65M81.2 351.4h0.65M75.3 373.0h0.65M103.8 331.5h0.65M94.9 342.1h0.65M86.8 361.4h0.65M64.4 322.4h0.65M106.1 346.2h0.65M72.4 323.2h0.65M82.5 337.8h0.65M81.9 326.2h0.65M74.9 360.4h0.65M99.3 336.6h0.65M107.0 348.2h0.65M89.3 357.0h0.65M102.6 325.7h0.65M67.1 368.3h0.65M64.1 348.1h0.65M102.5 352.4h0.65M87.4 362.8h0.65M79.1 336.7h0.65M80.6 353.2h0.65M105.9 343.4h0.65M56.5 340.7h0.65M61.6 365.4h0.65M64.4 353.7h0.65M82.7 361.0h0.65M60.2 320.7h0.65M61.2 325.2h0.65M83.0 361.5h0.65M65.2 363.8h0.65M76.5 319.3h0.65M53.8 354.5h0.65M107.5 347.9h0.65M89.3 347.8h0.65M63.0 364.0h0.65M99.1 342.3h0.65M62.4 373.3h0.65M92.9 326.4h0.65M84.2 318.2h0.65M98.1 333.2h0.65M78.4 354.1h0.65M94.5 327.5h0.65M72.4 343.3h0.65M78.5 362.9h0.65M61.8 364.2h0.65M73.1 326.4h0.65M55.7 368.5h0.65M79.7 317.6h0.65M77.6 315.5h0.65M87.2 341.4h0.65M82.6 362.8h0.65M62.9 321.3h0.65M69.4 347.4h0.65M83.1 355.4h0.65M82.9 338.6h0.65M69.8 356.9h0.65M93.2 322.6h0.65M102.0 322.5h0.65M55.5 347.2h0.65M79.2 364.3h0.65M70.0 362.9h0.65M64.4 347.1h0.65M83.6 348.1h0.65M65.1 345.9h0.65M93.7 344.1h0.65M102.1 350.4h0.65M104.5 325.7h0.65M91.2 347.9h0.65M75.2 357.4h0.65M82.5 352.3h0.65M79.8 320.7h0.65M78.3 326.7h0.65M75.7 362.6h0.65M102.4 331.3h0.65M78.0 323.5h0.65M85.4 365.9h0.65M65.4 358.7h0.65M60.4 357.4h0.65M91.2 323.3h0.65M81.8 317.2h0.65M72.3 331.6h0.65M57.5 358.7h0.65M89.5 338.6h0.65M96.4 363.5h0.65M104.5 349.4h0.65M60.8 358.1h0.65M50.3 355.8h0.65M103.5 356.3h0.65M85.4 361.0h0.65M104.9 334.4h0.65M47.1 423.8h0.65M59.1 321.9h0.65M68.3 356.8h0.65M95.2 364.8h0.65M70.7 364.1h0.65M83.1 339.9h0.65M88.4 324.3h0.65M56.4 369.8h0.65M59.4 381.0h0.65M79.7 315.8h0.65M75.1 327.0h0.65M88.4 344.8h0.65M63.6 340.0h0.65M59.7 348.8h0.65M95.5 345.3h0.65M75.7 322.4h0.65M64.6 361.4h0.65M85.5 342.2h0.65M80.4 334.9h0.65M89.0 349.9h0.65M49.9 353.6h0.65M83.2 349.1h0.65M92.0 329.0h0.65M78.6 330.6h0.65M92.5 331.3h0.65M60.9 329.3h0.65M74.3 363.1h0.65M75.5 338.2h0.65M76.8 337.6h0.65M81.3 331.0h0.65M103.6 334.9h0.65M60.0 331.0h0.65M104.1 316.2h0.65M92.1 344.3h0.65M50.2 343.8h0.65M61.3 333.4h0.65M80.9 361.9h0.65M104.6 354.2h0.65M87.7 337.8h0.65M80.3 332.7h0.65M66.6 345.5h0.65M68.4 360.2h0.65M67.5 322.4h0.65M107.9 328.8h0.65M102.9 334.3h0.65M55.3 373.9h0.65M93.7 335.9h0.65M53.1 337.9h0.65M89.5 344.9h0.65M54.2 328.4h0.65M104.0 332.2h0.65M104.5 349.4h0.65M103.5 321.1h0.65M61.0 316.4h0.65M55.3 384.7h0.65M85.9 326.3h0.65M58.4 375.4h0.65M50.6 353.5h0.65M74.1 336.6h0.65M101.0 330.5h0.65M52.0 316.7h0.65M64.8 347.5h0.65M74.3 374.6h0.65M90.6 353.3h0.65M62.6 339.6h0.65M77.8 351.5h0.65M44.3 424.4h0.65M98.6 359.3h0.65M103.2 337.2h0.65M76.7 341.3h0.65M63.6 357.3h0.65M55.3 351.6h0.65M63.7 317.8h0.65M66.8 368.5h0.65M50.6 367.0h0.65M54.8 371.4h0.65M60.2 327.1h0.65M107.0 330.6h0.65M102.3 336.0h0.65M78.2 348.9h0.65M72.6 331.0h0.65M98.3 340.8h0.65M95.3 327.5h0.65M66.9 327.0h0.65M94.4 341.0h0.65M83.5 347.7h0.65M49.8 381.1h0.65M52.7 316.5h0.65M91.1 341.0h0.65M102.0 325.1h0.65M63.2 338.6h0.65M70.9 331.0h0.65M81.4 333.9h0.65M97.7 348.3h0.65M107.5 342.7h0.65M59.4 382.0h0.65M97.0 357.6h0.65M79.7 331.8h0.65M100.0 351.5h0.65M62.4 318.6h0.65M73.9 353.5h0.65M68.5 318.6h0.65M95.9 331.6h0.65M64.3 378.3h0.65M65.9 365.6h0.65M90.4 351.4h0.65M105.2 341.2h0.65M65.8 351.0h0.65M105.4 340.9h0.65M73.7 372.1h0.65M75.0 365.5h0.65M66.4 348.9h0.65M76.0 332.2h0.65M106.0 334.9h0.65M86.9 340.9h0.65M80.3 315.1h0.65M59.3 337.0h0.65M77.0 355.0h0.65M63.4 325.0h0.65M97.6 328.9h0.65M58.2 370.5h0.65M85.8 318.8h0.65M77.8 360.8h0.65M60.6 369.7h0.65M102.6 335.1h0.65M105.2 319.2h0.65M96.0 350.7h0.65M80.6 328.4h0.65M61.2 376.1h0.65M100.0 326.6h0.65M90.5 339.7h0.65M69.2 357.1h0.65M106.0 346.8h0.65M57.1 371.5h0.65M95.8 345.3h0.65M54.4 372.5h0.65M61.9 381.7h0.65M89.3 337.4h0.65M53.5 314.4h0.65M84.2 364.8h0.65M72.5 325.5h0.65M68.1 370.1h0.65M63.4 378.9h0.65M52.9 330.9h0.65M70.3 349.3h0.65M104.5 344.2h0.65M85.8 335.3h0.65M91.4 353.5h0.65M97.5 332.2h0.65M103.4 343.1h0.65M70.2 353.5h0.65M50.1 329.2h0.65M104.4 317.0h0.65M98.9 344.5h0.65M64.5 373.1h0.65M86.8 347.8h0.65M92.5 363.0h0.65M63.1 352.6h0.65M63.2 329.6h0.65M97.7 318.4h0.65M58.7 374.3h0.65M105.2 343.0h0.65M66.7 356.0h0.65M57.3 348.4h0.65M98.7 360.6h0.65M60.2 321.5h0.65M109.5 336.3h0.65M83.1 333.5h0.65M83.4 362.7h0.65M71.4 329.4h0.65M79.3 356.9h0.65M74.4 365.6h0.65M97.9 347.1h0.65M74.8 333.3h0.65M105.0 338.0h0.65M85.3 348.9h0.65M86.1 365.0h0.65M85.5 346.6h0.65M95.0 339.9h0.65M68.6 320.7h0.65M99.0 354.1h0.65M89.3 364.6h0.65M51.2 362.3h0.65M81.9 346.5h0.65M95.3 343.7h0.65M92.7 324.6h0.65M95.6 318.2h0.65M90.7 364.9h0.65M86.2 333.7h0.65M68.8 371.7h0.65M77.4 366.2h0.65M50.0 371.9h0.65M75.7 329.8h0.65M71.5 319.1h0.65M76.5 373.0h0.65M65.2 335.6h0.65M64.5 340.6h0.65M52.8 325.3h0.65M106.0 331.8h0.65M68.2 328.0h0.65M72.4 359.6h0.65M58.5 339.1h0.65M58.3 352.5h0.65M79.6 324.9h0.65M79.2 317.4h0.65M73.6 344.4h0.65M85.4 318.5h0.65M58.1 370.5h0.65M104.0 324.9h0.65M57.8 351.7h0.65M61.1 366.3h0.65M56.9 358.7h0.65M69.1 361.2h0.65M86.3 342.0h0.65M74.5 349.0h0.65M82.7 365.7h0.65M87.8 324.9h0.65M93.8 332.8h0.65M66.7 349.3h0.65M63.6 323.4h0.65M81.2 335.5h0.65M91.2 321.4h0.65M64.7 358.4h0.65M89.2 358.5h0.65M61.0 368.1h0.65M98.8 343.3h0.65M61.7 380.5h0.65M92.2 344.9h0.65M69.6 374.0h0.65M86.1 318.4h0.65M62.8 355.9h0.65M62.1 350.8h0.65M49.8 359.5h0.65M76.9 324.0h0.65M102.5 357.4h0.65M90.9 363.4h0.65M96.0 322.0h0.65M79.4 349.9h0.65M83.8 335.8h0.65M75.1 320.6h0.65M59.9 315.3h0.65M55.5 377.3h0.65M95.8 318.1h0.65M78.2 321.4h0.65M88.1 359.6h0.65M91.6 346.6h0.65M71.8 361.3h0.65M77.4 327.9h0.65M75.7 373.0h0.65M104.2 329.1h0.65M75.3 371.3h0.65M90.9 355.5h0.65M80.8 315.6h0.65M67.9 347.9h0.65M70.2 329.5h0.65M55.7 380.1h0.65M91.2 325.8h0.65M73.8 341.1h0.65M90.0 359.5h0.65M68.7 351.4h0.65M102.1 341.3h0.65M102.9 324.3h0.65M91.3 356.4h0.65M65.6 366.9h0.65M65.2 316.8h0.65M83.5 328.3h0.65M102.3 349.4h0.65M81.6 319.4h0.65M72.1 318.5h0.65M57.4 373.8h0.65M75.0 328.6h0.65M101.0 358.4h0.65M102.4 340.2h0.65M83.8 356.9h0.65M104.5 352.6h0.65M91.2 350.4h0.65M62.0 346.9h0.65M102.6 342.3h0.65M98.5 359.2h0.65M97.7 343.6h0.65M88.5 331.3h0.65M106.3 342.1h0.65M100.0 357.0h0.65M82.8 362.5h0.65M77.0 371.7h0.65M85.3 320.1h0.65M99.7 315.6h0.65M71.4 322.6h0.65M62.1 329.1h0.65M77.6 327.0h0.65M90.4 350.6h0.65M104.0 329.2h0.65M78.9 355.3h0.65M101.2 337.6h0.65M67.1 338.9h0.65M90.4 364.8h0.65M64.2 374.9h0.65M78.5 362.0h0.65M101.9 353.2h0.65M67.3 341.0h0.65M61.1 371.0h0.65M78.1 347.0h0.65M74.1 332.4h0.65M71.1 320.5h0.65M95.3 333.3h0.65M85.5 357.7h0.65M88.8 336.1h0.65M101.9 322.3h0.65M89.5 328.2h0.65M56.4 386.2h0.65M60.1 322.0h0.65M96.8 333.9h0.65M57.0 380.1h0.65M60.7 358.3h0.65M95.1 343.6h0.65M85.5 317.0h0.65M52.5 333.1h0.65M74.0 316.9h0.65M103.5 331.5h0.65M58.6 331.6h0.65M92.0 329.7h0.65M59.2 361.9h0.65M97.5 346.5h0.65M56.1 356.2h0.65M72.7 345.0h0.65M99.8 361.3h0.65M92.2 359.0h0.65M72.5 333.5h0.65M45.8 397.4h0.65M45.2 375.9h0.65M46.0 385.8h0.65M45.2 406.1h0.65M45.7 409.6h0.65M45.7 392.8h0.65M45.0 412.6h0.65M45.4 398.6h0.65M45.9 414.5h0.65M45.4 378.9h0.65M45.2 428.5h0.65M44.6 441.6h0.65M45.4 408.3h0.65M45.7 408.4h0.65M45.2 425.1h0.65M45.4 423.3h0.65M44.9 437.7h0.65M44.8 379.5h0.65M45.5 428.8h0.65M46.0 428.6h0.65M46.2 389.6h0.65M45.6 410.1h0.65M46.3 401.9h0.65M45.6 435.2h0.65M47.6 393.0h0.65M46.2 431.4h0.65M46.1 415.0h0.65M46.5 393.4h0.65M46.7 388.6h0.65M47.6 386.6h0.65M44.8 431.4h0.65M45.2 382.1h0.65M46.1 397.2h0.65M45.0 425.6h0.65M45.9 438.8h0.65M45.1 416.0h0.65M45.0 438.2h0.65M45.2 419.8h0.65M44.8 427.2h0.65M46.4 387.8h0.65M46.1 428.4h0.65M44.7 423.5h0.65M45.6 426.8h0.65M45.1 392.0h0.65M45.2 434.0h0.65M44.8 374.7h0.65M45.0 403.1h0.65M45.9 384.9h0.65M46.3 405.9h0.65M46.3 409.9h0.65M46.1 393.7h0.65M46.2 393.1h0.65M44.7 393.3h0.65M46.1 402.6h0.65M45.5 398.3h0.65M45.6 425.5h0.65M44.8 425.2h0.65M44.9 423.9h0.65M44.6 424.0h0.65M45.9 380.8h0.65M45.7 398.3h0.65M45.2 396.8h0.65M45.5 438.0h0.65M45.5 395.8h0.65M44.9 424.6h0.65M44.9 381.2h0.65M44.7 386.4h0.65M47.8 413.0h0.65M45.2 407.0h0.65M47.4 377.4h0.65M45.6 439.1h0.65M45.3 401.5h0.65M45.4 437.0h0.65M47.4 393.2h0.65M45.0 433.4h0.65M47.1 387.4h0.65M44.7 405.9h0.65M48.8 382.5h0.65M46.4 420.4h0.65M45.5 407.8h0.65M45.0 398.3h0.65M44.7 434.6h0.65M47.1 383.6h0.65M45.5 428.0h0.65M46.0 403.7h0.65M45.7 431.1h0.65M45.2 419.9h0.65M44.6 433.7h0.65M44.7 426.4h0.65M45.8 401.6h0.65M45.3 374.3h0.65M45.4 429.2h0.65M45.0 437.4h0.65M45.5 424.2h0.65M45.6 408.2h0.65M44.9 383.8h0.65M46.2 416.8h0.65M44.9 437.3h0.65M44.7 403.5h0.65M45.3 427.6h0.65M45.3 401.8h0.65M45.3 432.2h0.65M47.0 424.3h0.65M47.4 374.7h0.65M44.9 408.4h0.65M44.6 373.4h0.65M45.9 387.3h0.65M45.6 438.7h0.65M45.3 436.4h0.65M44.8 412.6h0.65M45.3 426.2h0.65M44.6 423.0h0.65M46.1 390.9h0.65M45.5 385.0h0.65M48.9 393.9h0.65M45.3 401.2h0.65M45.1 417.8h0.65M45.4 433.9h0.65M46.9 388.1h0.65M45.4 412.8h0.65M46.6 440.3h0.65M45.1 441.6h0.65M44.8 438.9h0.65M45.6 415.1h0.65M46.8 392.7h0.65M45.1 440.9h0.65M45.9 386.2h0.65M45.9 440.8h0.65M46.4 375.9h0.65M44.7 393.7h0.65M45.0 401.8h0.65M48.8 383.6h0.65M44.8 376.4h0.65M45.7 421.6h0.65M45.1 426.8h0.65M44.9 435.5h0.65M45.4 424.6h0.65M45.7 414.2h0.65M45.6 437.2h0.65M48.2 378.0h0.65M48.9 387.4h0.65M45.3 402.7h0.65M45.8 417.5h0.65M44.8 398.0h0.65M45.7 411.0h0.65M44.8 403.8h0.65M45.0 421.3h0.65M45.0 434.9h0.65M45.2 420.2h0.65M44.9 426.5h0.65M45.2 406.3h0.65M48.3 382.6h0.65M45.0 409.1h0.65M45.5 413.4h0.65M46.5 414.3h0.65M47.7 384.7h0.65M45.4 436.1h0.65M45.0 435.4h0.65M48.0 391.5h0.65M44.7 416.1h0.65M50.9 376.1h0.65M46.5 440.8h0.65M45.7 411.1h0.65M46.0 397.6h0.65M47.2 379.6h0.65M45.9 405.5h0.65M46.1 382.1h0.65M48.5 378.9h0.65M45.1 423.8h0.65M45.5 441.1h0.65M44.8 409.4h0.65M45.2 413.7h0.65M44.7 390.6h0.65M45.6 398.2h0.65M46.2 422.3h0.65M44.8 434.6h0.65M45.6 384.0h0.65M44.9 429.7h0.65M46.5 391.8h0.65M46.1 391.2h0.65M45.6 404.8h0.65M47.0 376.9h0.65M46.8 416.5h0.65M46.4 377.3h0.65M45.5 436.9h0.65M44.8 434.0h0.65M45.9 403.6h0.65M46.6 394.0h0.65M45.4 411.5h0.65M45.8 434.6h0.65M46.8 429.9h0.65M45.1 404.5h0.65M44.6 433.1h0.65M45.0 397.0h0.65M45.8 419.1h0.65M45.2 413.9h0.65M45.4 372.5h0.65M46.0 407.8h0.65M44.9 436.6h0.65M45.6 435.5h0.65M44.8 434.5h0.65M45.2 413.2h0.65M45.8 437.7h0.65M44.9 410.0h0.65M46.8 389.6h0.65M44.7 414.0h0.65M46.9 375.1h0.65M44.7 414.8h0.65M45.1 420.5h0.65M47.6 372.7h0.65M46.5 379.1h0.65M45.0 402.3h0.65M45.5 429.3h0.65M44.9 435.5h0.65M46.2 372.2h0.65M45.0 397.9h0.65M45.1 433.4h0.65M46.8 392.6h0.65M46.0 425.3h0.65M44.8 385.8h0.65M45.1 400.2h0.65M48.5 391.8h0.65M44.6 426.3h0.65M46.0 372.7h0.65M45.1 441.9h0.65M46.4 377.2h0.65M46.2 384.3h0.65M45.0 384.8h0.65M44.7 418.1h0.65M47.1 384.1h0.65M49.4 378.4h0.65M45.5 397.6h0.65M44.6 430.8h0.65M47.5 390.6h0.65M45.6 407.8h0.65M45.1 406.3h0.65M46.3 399.0h0.65M50.1 389.7h0.65M45.6 416.0h0.65M44.7 427.6h0.65M44.7 394.5h0.65M45.3 439.9h0.65M44.7 405.9h0.65M44.7 388.7h0.65M46.9 390.9h0.65M45.8 374.4h0.65M47.0 381.7h0.65M45.4 419.3h0.65M46.3 395.7h0.65M45.4 380.3h0.65M46.5 415.2h0.65M44.8 378.3h0.65M45.0 428.3h0.65M45.1 412.1h0.65M45.6 415.9h0.65M45.5 376.0h0.65M44.9 431.0h0.65M46.5 393.3h0.65M46.6 393.4h0.65M45.0 408.3h0.65M45.2 392.0h0.65M45.6 427.4h0.65M45.9 408.0h0.65M44.7 436.4h0.65M45.7 404.0h0.65M45.1 396.8h0.65M45.7 378.6h0.65M45.2 436.8h0.65M45.0 383.8h0.65M47.0 378.4h0.65M45.7 394.0h0.65M46.1 389.0h0.65M45.0 377.7h0.65M45.1 414.2h0.65M46.4 381.3h0.65M45.8 378.4h0.65M45.0 427.7h0.65M45.4 414.6h0.65M45.5 397.0h0.65M45.6 414.0h0.65M46.6 428.9h0.65M45.9 375.1h0.65M45.6 393.3h0.65M46.8 392.1h0.65M45.7 423.2h0.65M44.8 389.3h0.65M45.3 383.7h0.65M45.0 426.5h0.65M44.9 423.2h0.65M45.3 407.4h0.65M45.7 440.7h0.65M45.2 434.5h0.65M47.4 390.3h0.65M46.2 394.8h0.65M46.7 378.1h0.65M44.6 412.8h0.65M45.0 438.1h0.65M45.8 417.0h0.65M44.8 425.8h0.65M45.3 410.5h0.65M46.8 382.0h0.65M47.2 372.7h0.65M47.2 428.0h0.65M45.4 418.5h0.65M45.4 391.0h0.65M45.1 399.9h0.65M44.7 434.3h0.65M44.9 414.3h0.65M45.4 382.3h0.65M45.1 434.5h0.65M46.7 386.2h0.65M46.4 374.4h0.65M47.1 377.6h0.65M46.1 382.9h0.65M45.3 408.4h0.65M46.1 436.1h0.65M45.1 422.6h0.65M44.6 398.4h0.65M44.6 401.1h0.65M44.8 401.8h0.65M45.1 407.0h0.65M45.1 412.8h0.65M46.1 390.0h0.65M44.8 425.9h0.65M45.0 372.7h0.65M46.7 433.5h0.65M44.9 427.9h0.65M46.6 435.4h0.65M44.9 377.6h0.65M45.0 398.0h0.65M45.5 427.2h0.65M44.9 393.3h0.65M45.3 398.6h0.65M45.9 408.7h0.65M44.7 411.0h0.65M45.3 408.0h0.65M45.4 380.0h0.65M46.3 412.0h0.65M45.0 429.4h0.65M47.9 391.0h0.65M46.3 432.2h0.65M44.7 411.4h0.65M45.6 421.2h0.65M45.7 420.9h0.65M45.1 392.0h0.65M45.1 389.5h0.65M45.2 399.8h0.65M46.6 372.2h0.65M48.6 377.8h0.65M44.9 430.0h0.65M44.8 424.0h0.65M45.4 382.8h0.65M44.7 416.7h0.65M46.1 377.9h0.65M46.7 431.1h0.65M45.6 414.0h0.65M47.7 393.5h0.65M45.6 402.4h0.65M46.9 414.9h0.65M46.0 396.5h0.65M44.9 404.9h0.65M46.1 397.0h0.65M44.8 433.9h0.65M48.6 387.4h0.65M44.6 386.3h0.65M45.1 405.4h0.65M45.4 413.0h0.65M46.1 438.9h0.65M44.7 414.5h0.65M47.6 384.9h0.65M45.2 440.3h0.65M45.1 412.8h0.65M49.9 387.5h0.65M46.1 373.3h0.65M46.0 390.0h0.65M46.0 430.4h0.65M44.6 441.0h0.65M46.4 373.2h0.65M45.6 419.4h0.65M45.9 373.3h0.65M46.8 380.1h0.65M46.0 435.6h0.65M46.4 385.8h0.65M45.8 427.4h0.65M46.6 389.5h0.65M44.7 397.9h0.65M45.8 414.0h0.65M46.0 413.8h0.65M45.2 380.4h0.65M45.7 378.2h0.65M46.8 390.7h0.65M45.8 429.8h0.65M44.9 421.0h0.65M45.5 436.4h0.65M46.1 415.7h0.65M44.7 409.7h0.65M45.0 403.1h0.65M48.9 375.8h0.65M45.8 382.9h0.65M44.8 438.3h0.65M44.8 409.7h0.65M47.8 374.7h0.65M47.9 377.9h0.65M45.1 441.4h0.65M46.9 424.4h0.65M48.2 388.8h0.65M44.8 385.3h0.65M46.1 415.0h0.65M45.2 433.0h0.65M45.1 405.7h0.65M44.8 441.7h0.65M45.2 400.6h0.65M45.1 398.3h0.65M45.4 407.4h0.65M46.0 426.0h0.65M48.0 390.9h0.65M44.6 431.6h0.65M46.3 391.8h0.65M45.4 425.3h0.65M46.1 433.2h0.65" stroke="#000" stroke-width="0.65" fill="none"/>
<path d="M172.3 369.8h0.8M172.8 369.6h0.8M173.3 370.0h0.8M171.4 370.4h0.8M173.2 370.4h0.8M174.2 370.3h0.8M172.4 370.7h0.8M173.9 370.6h0.8M175.7 370.9h0.8M170.3 371.2h0.8M173.9 371.5h0.8M178.6 371.2h0.8M170.0 372.0h0.8M172.4 371.9h0.8M173.0 371.9h0.8M176.4 371.7h0.8M168.8 372.1h0.8M169.6 372.1h0.8M170.4 372.0h0.8M174.8 372.1h0.8M175.4 372.5h0.8M176.4 372.4h0.8M177.1 372.1h0.8M170.3 372.6h0.8M172.2 372.7h0.8M173.1 372.8h0.8M174.7 372.9h0.8M175.6 372.6h0.8M176.3 372.8h0.8M176.8 372.6h0.8M178.0 372.5h0.8M169.5 373.4h0.8M171.2 373.5h0.8M172.1 373.2h0.8M172.4 373.3h0.8M175.6 373.2h0.8M176.0 373.0h0.8M176.5 373.1h0.8M176.7 373.2h0.8M170.7 373.7h0.8M172.0 373.8h0.8M172.5 373.6h0.8M173.8 373.8h0.8M174.4 373.6h0.8M174.9 373.6h0.8M175.4 373.6h0.8M176.5 373.5h0.8M170.4 374.2h0.8M171.0 374.1h0.8M174.2 374.2h0.8M174.8 374.2h0.8M175.3 374.2h0.8M176.1 374.1h0.8M176.2 374.2h0.8M177.3 374.2h0.8M168.1 374.8h0.8M173.2 374.6h0.8M175.5 374.9h0.8M177.0 374.6h0.8M168.4 375.3h0.8M171.3 375.3h0.8M172.0 375.2h0.8M174.0 375.1h0.8M174.5 375.5h0.8M174.8 375.1h0.8M177.7 375.3h0.8M170.6 375.9h0.8M171.9 375.8h0.8M172.9 375.6h0.8M174.1 375.7h0.8M174.9 375.6h0.8M175.9 375.8h0.8M168.9 376.1h0.8M171.2 376.2h0.8M172.2 376.2h0.8M172.8 376.2h0.8M173.5 376.3h0.8M174.2 376.3h0.8M174.7 376.1h0.8M167.6 376.6h0.8M168.0 376.7h0.8M168.2 376.6h0.8M169.0 376.9h0.8M169.6 376.9h0.8M169.9 376.6h0.8M170.9 376.7h0.8M173.2 376.8h0.8M174.5 376.7h0.8M175.4 376.9h0.8M176.6 376.8h0.8M166.8 377.3h0.8M168.6 377.1h0.8M168.9 377.2h0.8M169.5 377.1h0.8M173.8 377.2h0.8M174.9 377.2h0.8M176.6 377.0h0.8M176.7 377.2h0.8M178.4 377.3h0.8M166.5 377.9h0.8M169.1 377.9h0.8M169.4 378.0h0.8M170.7 377.9h0.8M174.8 377.6h0.8M177.9 377.6h0.8M169.4 378.4h0.8M170.6 378.1h0.8M172.6 378.3h0.8M173.4 378.4h0.8M174.9 378.4h0.8M166.6 378.8h0.8M168.8 378.9h0.8M171.8 378.8h0.8M173.7 378.7h0.8M175.5 378.7h0.8M175.7 378.6h0.8M176.7 378.7h0.8M177.6 378.8h0.8M178.1 378.6h0.8M166.6 379.1h0.8M170.5 379.2h0.8M171.9 379.2h0.8M173.3 379.2h0.8M173.8 379.3h0.8M176.9 379.2h0.8M177.8 379.4h0.8M167.1 379.6h0.8M168.6 379.9h0.8M170.2 379.6h0.8M172.8 379.6h0.8M175.5 379.7h0.8M168.0 380.0h0.8M168.7 380.2h0.8M170.8 380.4h0.8M173.1 380.4h0.8M173.9 380.2h0.8M175.1 380.1h0.8M176.4 380.3h0.8M169.6 380.5h0.8M172.3 380.6h0.8M173.3 380.8h0.8M174.9 380.9h0.8M175.5 380.7h0.8M170.1 381.5h0.8M171.6 381.5h0.8M172.1 381.1h0.8M173.2 381.5h0.8M174.8 381.4h0.8M176.1 381.3h0.8M176.9 381.2h0.8M166.5 381.9h0.8M167.1 381.9h0.8M169.0 382.0h0.8M174.1 381.6h0.8M166.7 382.3h0.8M167.2 382.2h0.8M171.0 382.3h0.8M173.4 382.4h0.8M173.9 382.4h0.8M178.5 382.2h0.8M166.4 382.6h0.8M166.9 383.0h0.8M170.3 382.7h0.8M172.9 382.7h0.8M173.9 382.8h0.8M175.1 382.6h0.8M176.7 382.6h0.8M166.5 383.2h0.8M168.6 383.4h0.8M170.5 383.2h0.8M172.9 383.1h0.8M173.2 383.4h0.8M175.6 383.5h0.8M166.2 383.7h0.8M167.0 383.8h0.8M169.7 384.1h0.8M170.6 384.0h0.8M172.4 384.5h0.8M173.1 384.2h0.8M173.9 384.2h0.8M175.1 384.4h0.8M176.1 384.2h0.8M176.4 384.3h0.8M166.6 384.6h0.8M171.8 384.8h0.8M172.7 384.7h0.8M173.3 384.5h0.8M167.3 385.1h0.8M168.5 385.4h0.8M169.8 385.5h0.8M174.0 385.2h0.8M171.6 385.6h0.8M172.0 385.6h0.8M172.6 386.0h0.8M172.9 385.9h0.8M173.5 385.6h0.8M175.8 385.6h0.8M167.7 386.3h0.8M170.0 386.2h0.8M173.0 386.3h0.8M174.0 386.0h0.8M175.3 386.2h0.8M167.2 386.6h0.8M167.9 386.5h0.8M170.8 386.7h0.8M172.5 386.8h0.8M172.7 386.9h0.8M173.8 387.0h0.8M168.4 387.0h0.8M170.5 387.5h0.8M172.8 387.0h0.8M173.8 387.4h0.8M166.8 387.5h0.8M169.8 387.5h0.8M172.3 387.6h0.8M165.2 388.4h0.8M168.4 388.1h0.8M172.3 388.1h0.8M177.4 388.1h0.8M162.8 388.9h0.8M164.5 388.7h0.8M164.9 388.7h0.8M167.1 388.5h0.8M169.1 388.5h0.8M170.4 388.9h0.8M176.9 388.7h0.8M162.8 389.4h0.8M167.2 389.5h0.8M168.6 389.1h0.8M170.8 389.1h0.8M162.7 390.0h0.8M163.6 389.9h0.8M164.8 389.5h0.8M168.6 389.5h0.8M161.4 390.5h0.8M163.5 390.3h0.8M163.8 390.2h0.8M164.2 390.1h0.8M166.9 390.5h0.8M169.7 390.4h0.8M172.1 390.3h0.8M174.6 390.2h0.8M159.6 390.7h0.8M161.2 390.6h0.8M162.7 390.8h0.8M165.3 390.6h0.8M166.2 391.0h0.8M168.0 390.6h0.8M169.3 390.6h0.8M175.3 390.5h0.8M159.0 391.2h0.8M160.0 391.3h0.8M161.5 391.2h0.8M161.8 391.4h0.8M162.4 391.4h0.8M167.0 391.3h0.8M167.6 391.0h0.8M159.5 391.8h0.8M159.7 391.9h0.8M160.6 391.9h0.8M161.1 391.6h0.8M164.3 391.6h0.8M165.7 391.8h0.8M159.1 392.3h0.8M159.4 392.2h0.8M164.5 392.4h0.8M166.6 392.4h0.8M167.4 392.5h0.8M168.8 392.1h0.8M174.8 392.1h0.8M178.3 392.5h0.8M160.5 392.6h0.8M164.3 392.7h0.8M164.8 393.3h0.8M169.8 393.2h0.8M172.2 393.2h0.8M157.6 393.8h0.8M162.6 393.9h0.8M162.8 393.9h0.8M165.4 393.6h0.8M176.5 393.8h0.8M156.5 394.4h0.8M157.3 394.4h0.8M157.7 394.3h0.8M159.6 394.5h0.8M169.2 394.2h0.8M164.9 394.9h0.8M173.3 394.6h0.8M169.8 395.1h0.8M156.2 395.8h0.8M157.7 396.0h0.8M159.4 395.7h0.8M160.4 395.8h0.8M162.6 395.7h0.8M169.6 396.0h0.8M154.7 396.1h0.8M157.9 396.1h0.8M168.5 396.2h0.8M169.2 396.1h0.8M154.9 397.0h0.8M156.8 397.0h0.8M159.2 396.9h0.8M158.0 397.2h0.8M164.7 397.5h0.8M152.3 397.6h0.8M153.6 397.8h0.8M155.0 397.9h0.8M155.6 397.9h0.8M158.8 397.7h0.8M160.5 397.6h0.8M151.4 398.1h0.8M154.0 398.2h0.8M155.1 398.1h0.8M156.6 398.4h0.8M157.1 398.4h0.8M154.7 398.7h0.8M159.9 398.8h0.8M150.2 399.1h0.8M150.7 399.2h0.8M151.9 399.0h0.8M152.6 399.0h0.8M153.1 399.4h0.8M153.8 399.0h0.8M154.2 399.2h0.8M160.3 399.3h0.8M160.7 399.2h0.8M171.8 399.0h0.8M150.3 399.8h0.8M151.1 399.7h0.8M151.5 399.7h0.8M152.5 399.7h0.8M153.1 399.8h0.8M153.2 399.8h0.8M155.1 399.6h0.8M155.6 399.7h0.8M156.5 399.9h0.8M159.0 400.0h0.8M160.4 399.9h0.8M162.8 399.6h0.8M164.6 399.8h0.8M149.2 400.1h0.8M150.0 400.3h0.8M150.6 400.2h0.8M151.9 400.4h0.8M152.5 400.5h0.8M153.3 400.4h0.8M160.1 400.1h0.8M161.1 400.3h0.8M163.9 400.1h0.8M165.0 400.1h0.8M151.1 400.5h0.8M151.3 400.6h0.8M151.8 400.9h0.8M153.6 401.0h0.8M165.1 400.7h0.8M172.2 400.9h0.8M149.1 401.3h0.8M149.4 401.1h0.8M157.8 401.0h0.8M150.2 401.6h0.8M164.2 401.9h0.8M147.9 402.1h0.8M152.5 402.1h0.8M155.5 402.2h0.8M156.4 402.4h0.8M157.2 402.4h0.8M147.0 402.6h0.8M148.0 402.9h0.8M148.5 402.9h0.8M152.0 402.9h0.8M159.1 402.8h0.8M145.2 403.1h0.8M146.2 403.4h0.8M147.4 403.5h0.8M148.1 403.1h0.8M152.9 403.2h0.8M155.1 403.3h0.8M158.7 403.4h0.8M144.9 403.9h0.8M145.2 403.5h0.8M147.0 403.7h0.8M149.3 403.9h0.8M154.8 403.7h0.8M156.0 403.6h0.8M159.9 403.8h0.8M142.7 404.1h0.8M149.0 404.5h0.8M143.1 404.8h0.8M144.8 404.9h0.8M149.1 404.9h0.8M151.3 404.8h0.8M151.7 404.9h0.8M155.9 404.5h0.8M157.1 404.7h0.8M165.8 404.9h0.8M142.2 405.4h0.8M144.0 405.2h0.8M146.6 405.4h0.8M147.0 405.4h0.8M148.1 405.1h0.8M153.9 405.1h0.8M155.9 405.4h0.8M156.4 405.4h0.8M141.5 405.8h0.8M142.3 405.9h0.8M142.8 405.6h0.8M143.5 405.6h0.8M145.4 406.0h0.8M146.6 405.8h0.8M151.9 405.9h0.8M154.6 405.6h0.8M142.3 406.4h0.8M142.8 406.4h0.8M144.3 406.1h0.8M153.6 406.2h0.8M168.3 406.3h0.8M141.1 406.9h0.8M141.7 406.8h0.8M143.3 406.7h0.8M144.6 406.7h0.8M149.9 406.7h0.8M150.3 406.9h0.8M152.0 406.9h0.8M156.1 406.9h0.8M140.2 407.1h0.8M144.1 407.4h0.8M160.0 407.4h0.8M149.7 407.8h0.8M152.8 407.9h0.8M154.9 407.6h0.8M155.4 407.7h0.8M155.7 407.9h0.8M140.0 408.3h0.8M142.5 408.3h0.8M145.3 408.3h0.8M139.6 408.7h0.8M142.1 408.7h0.8M142.7 409.0h0.8M139.4 409.0h0.8M140.7 409.2h0.8M142.1 409.4h0.8M144.6 409.3h0.8M144.8 409.3h0.8M152.5 409.3h0.8M139.7 409.7h0.8M140.6 409.7h0.8M141.2 409.6h0.8M143.3 409.8h0.8M143.9 409.9h0.8M162.9 409.9h0.8M137.9 410.4h0.8M138.6 410.3h0.8M140.6 410.0h0.8M141.4 410.0h0.8M163.9 410.3h0.8M137.9 410.9h0.8M139.1 410.8h0.8M140.2 410.9h0.8M141.6 410.6h0.8M136.4 411.0h0.8M146.9 411.2h0.8M151.0 411.4h0.8M136.6 411.7h0.8M139.2 411.7h0.8M140.8 411.7h0.8M141.4 411.9h0.8M141.9 411.9h0.8M143.1 411.8h0.8M144.3 411.6h0.8M134.9 412.1h0.8M136.2 412.0h0.8M138.6 412.2h0.8M141.0 412.4h0.8M143.6 412.3h0.8M134.4 412.6h0.8M134.8 412.9h0.8M136.1 412.5h0.8M138.0 412.9h0.8M138.6 412.7h0.8M138.7 412.6h0.8M136.4 413.0h0.8M137.7 413.4h0.8M138.2 413.2h0.8M133.3 414.0h0.8M133.9 414.0h0.8M134.2 413.7h0.8M135.5 413.7h0.8M136.5 413.9h0.8M137.3 413.8h0.8M139.7 413.6h0.8M132.1 414.2h0.8M132.8 414.2h0.8M134.5 414.4h0.8M141.0 414.4h0.8M144.6 414.1h0.8M146.0 414.0h0.8M131.3 414.6h0.8M132.0 414.5h0.8M132.4 414.9h0.8M134.1 415.0h0.8M136.2 414.8h0.8M148.6 414.7h0.8M132.2 415.1h0.8M137.2 415.3h0.8M138.5 415.2h0.8M141.4 415.4h0.8M129.9 415.8h0.8M131.9 416.0h0.8M133.0 415.6h0.8M134.0 415.6h0.8M129.4 416.0h0.8M130.1 416.4h0.8M147.6 416.1h0.8M127.8 416.7h0.8M128.7 416.9h0.8M130.2 416.9h0.8M131.0 416.8h0.8M131.7 417.2h0.8M136.2 417.2h0.8M126.5 418.0h0.8M126.8 417.5h0.8M127.7 417.7h0.8M128.8 418.0h0.8M130.3 417.8h0.8M159.9 417.7h0.8M124.2 418.2h0.8M125.0 418.2h0.8M130.7 418.2h0.8M133.3 418.4h0.8M134.2 418.4h0.8M137.7 418.3h0.8M123.0 418.8h0.8M125.5 418.6h0.8M126.0 418.8h0.8M126.3 418.7h0.8M131.0 418.6h0.8M128.1 419.5h0.8M129.8 419.5h0.8M135.4 419.0h0.8M120.3 419.6h0.8M121.4 419.7h0.8M122.5 419.9h0.8M123.5 419.8h0.8M127.2 419.6h0.8M121.1 420.2h0.8M121.8 420.0h0.8M122.7 420.2h0.8M125.6 420.3h0.8M126.7 420.2h0.8M117.4 420.5h0.8M119.2 421.0h0.8M120.9 420.5h0.8M122.5 420.9h0.8M123.1 421.0h0.8M125.0 420.7h0.8M125.4 420.7h0.8M130.2 420.5h0.8M153.2 420.7h0.8M117.8 421.0h0.8M118.6 421.5h0.8M121.6 421.1h0.8M121.8 421.4h0.8M125.3 421.4h0.8M125.8 421.4h0.8M126.6 421.4h0.8M127.3 421.5h0.8M128.0 421.4h0.8M128.7 421.2h0.8M115.5 421.8h0.8M116.2 421.6h0.8M123.1 421.6h0.8M117.6 422.4h0.8M118.3 422.1h0.8M118.8 422.0h0.8M120.5 422.1h0.8M120.7 422.3h0.8M123.2 422.5h0.8M128.7 422.1h0.8M114.7 422.9h0.8M115.8 422.9h0.8M117.4 422.8h0.8M118.6 422.8h0.8M123.6 422.8h0.8M124.0 422.9h0.8M125.0 422.7h0.8M117.1 423.1h0.8M119.1 423.1h0.8M124.8 423.4h0.8M113.6 423.6h0.8M113.8 423.9h0.8M115.4 423.5h0.8M121.1 423.8h0.8M123.4 423.8h0.8M126.9 423.8h0.8M112.8 424.1h0.8M114.1 424.4h0.8M116.0 424.2h0.8M116.9 424.1h0.8M120.5 424.3h0.8M121.5 424.4h0.8M129.3 424.5h0.8M112.3 424.9h0.8M112.7 424.7h0.8M113.4 424.5h0.8M114.2 424.8h0.8M118.2 424.9h0.8M119.6 424.7h0.8M120.0 424.8h0.8M123.3 424.7h0.8M113.4 425.4h0.8M114.5 425.3h0.8M116.8 425.3h0.8M120.8 425.2h0.8M111.6 425.7h0.8M112.2 425.6h0.8M120.8 425.6h0.8M114.2 426.4h0.8M116.0 426.0h0.8M120.4 426.1h0.8M109.3 426.8h0.8M109.7 426.9h0.8M110.4 426.5h0.8M112.2 426.6h0.8M112.9 426.9h0.8M115.5 426.6h0.8M116.4 426.9h0.8M108.8 427.5h0.8M111.6 427.3h0.8M111.7 427.5h0.8M112.9 427.1h0.8M114.2 427.2h0.8M114.9 427.2h0.8M115.4 427.2h0.8M142.7 427.1h0.8M108.6 427.6h0.8M108.7 427.5h0.8M111.0 427.8h0.8M111.3 428.0h0.8M112.1 427.8h0.8M114.3 427.7h0.8M114.7 427.9h0.8M118.2 428.0h0.8M106.7 428.5h0.8M108.2 428.3h0.8M110.6 428.5h0.8M111.6 428.1h0.8M111.7 428.2h0.8M112.4 428.4h0.8M105.6 428.6h0.8M106.1 428.9h0.8M108.8 428.7h0.8M110.6 428.9h0.8M105.7 429.1h0.8M107.3 429.3h0.8M108.9 429.4h0.8M114.2 429.0h0.8M121.3 429.1h0.8M103.5 429.7h0.8M103.8 429.6h0.8M105.3 429.5h0.8M106.5 429.7h0.8M107.4 429.7h0.8M109.1 429.8h0.8M109.2 429.8h0.8M110.9 430.0h0.8M112.9 429.9h0.8M123.4 429.6h0.8M104.5 430.3h0.8M104.7 430.4h0.8M116.4 430.1h0.8M102.8 430.7h0.8M103.4 430.8h0.8M105.5 430.6h0.8M105.9 430.7h0.8M114.1 430.7h0.8M100.9 431.4h0.8M101.2 431.5h0.8M104.3 431.3h0.8M104.8 431.4h0.8M100.3 431.8h0.8M103.0 431.9h0.8M104.0 432.0h0.8M99.4 432.5h0.8M100.3 432.5h0.8M101.5 432.2h0.8M105.1 432.5h0.8M107.3 432.4h0.8M98.9 432.5h0.8M100.5 432.8h0.8M100.8 433.0h0.8M103.5 432.5h0.8M105.3 432.8h0.8M105.9 432.7h0.8M113.0 432.9h0.8M100.9 433.9h0.8M105.2 434.0h0.8M106.9 433.6h0.8M99.4 434.3h0.8M100.1 434.2h0.8M101.3 434.4h0.8M102.0 434.1h0.8M105.9 434.0h0.8M96.4 434.8h0.8M96.9 434.9h0.8M99.6 434.7h0.8M95.4 435.3h0.8M96.2 435.1h0.8M98.5 435.0h0.8M105.2 435.1h0.8M95.8 436.0h0.8M97.6 435.8h0.8M94.3 436.2h0.8M96.0 436.1h0.8M96.2 436.3h0.8M96.7 436.4h0.8M98.1 436.1h0.8M98.3 436.2h0.8M99.5 436.3h0.8M97.4 436.9h0.8M98.0 436.8h0.8M102.8 436.5h0.8M104.9 437.0h0.8M93.9 437.1h0.8M95.9 437.3h0.8M96.3 437.4h0.8M97.6 437.5h0.8M102.9 437.2h0.8M94.9 437.6h0.8M98.2 437.8h0.8M104.1 437.5h0.8M93.5 438.1h0.8M93.9 438.4h0.8M102.9 438.2h0.8M92.3 439.0h0.8M93.9 438.8h0.8M95.9 438.8h0.8M104.0 439.0h0.8M92.1 439.1h0.8M96.9 439.3h0.8M97.5 439.3h0.8M99.8 439.1h0.8M92.8 439.8h0.8M93.6 440.0h0.8M91.1 440.4h0.8M95.8 440.3h0.8M91.0 441.2h0.8M91.2 441.5h0.8M91.7 441.3h0.8M89.6 441.9h0.8M90.4 441.6h0.8M90.9 441.5h0.8M96.0 441.7h0.8M89.7 442.3h0.8M90.7 442.5h0.8M88.1 442.5h0.8M89.9 442.5h0.8M87.7 443.1h0.8M88.6 443.4h0.8M92.2 443.3h0.8M93.8 443.2h0.8M87.5 443.7h0.8M88.1 443.5h0.8M89.6 443.8h0.8M86.8 444.3h0.8M88.0 444.3h0.8M87.4 444.5h0.8M84.7 445.2h0.8M85.4 445.2h0.8M89.3 445.4h0.8M91.6 445.2h0.8M82.5 445.6h0.8M82.9 446.0h0.8M83.2 445.9h0.8M84.0 445.6h0.8M84.4 445.9h0.8M88.5 445.5h0.8M82.6 446.1h0.8M87.4 446.4h0.8M80.9 446.6h0.8M82.1 446.7h0.8M83.1 446.8h0.8M84.5 446.8h0.8M80.0 447.5h0.8M80.5 447.0h0.8M91.3 447.2h0.8M79.9 447.7h0.8M80.6 447.6h0.8M81.9 447.5h0.8M83.5 447.6h0.8M80.4 448.1h0.8M82.1 448.4h0.8M83.2 448.1h0.8" stroke="#222" stroke-width="0.8" fill="none"/>
</g>
<path d="M53 314.5 L178.2 314.5 V317.7 H78 Z" fill="#000"/>
<rect x="174.89999999999998" y="317.5" width="3.0" height="78" fill="#8a8a8a"/>
<rect x="43.6" y="313.5" width="134.6" height="134.10000000000002" fill="none" stroke="#333" stroke-width="0.9"/>
<ellipse cx="94" cy="415.2" rx="27.5" ry="14.5" transform="rotate(-38 94 415.2)" fill="none" stroke="#111" stroke-width="0.9"/>
<path d="M43.8 447.6 v2.6 M43.6 447.4 h-3.4" stroke="#222" stroke-width="0.7"/>
<text x="42.4" y="458.6" font-size="5.9" text-anchor="middle" fill="#000" stroke="#000" stroke-width="0.15">0</text>
<text x="36.800000000000004" y="449.6" font-size="5.9" text-anchor="end" fill="#000" stroke="#000" stroke-width="0.15">0</text>
<path d="M76.4 447.6 v2.6 M43.6 414.8 h-3.4" stroke="#222" stroke-width="0.7"/>
<text x="75.0" y="458.6" font-size="5.9" text-anchor="middle" fill="#000" stroke="#000" stroke-width="0.15">1000</text>
<text x="36.800000000000004" y="417.0" font-size="5.9" text-anchor="end" fill="#000" stroke="#000" stroke-width="0.15">1000</text>
<path d="M109.0 447.6 v2.6 M43.6 382.2 h-3.4" stroke="#222" stroke-width="0.7"/>
<text x="107.6" y="458.6" font-size="5.9" text-anchor="middle" fill="#000" stroke="#000" stroke-width="0.15">2000</text>
<text x="36.800000000000004" y="384.4" font-size="5.9" text-anchor="end" fill="#000" stroke="#000" stroke-width="0.15">2000</text>
<path d="M141.6 447.6 v2.6 M43.6 349.6 h-3.4" stroke="#222" stroke-width="0.7"/>
<text x="140.2" y="458.6" font-size="5.9" text-anchor="middle" fill="#000" stroke="#000" stroke-width="0.15">3000</text>
<text x="36.800000000000004" y="351.8" font-size="5.9" text-anchor="end" fill="#000" stroke="#000" stroke-width="0.15">3000</text>
<path d="M174.2 447.6 v2.6 M43.6 317.0 h-3.4" stroke="#222" stroke-width="0.7"/>
<text x="172.8" y="458.6" font-size="5.9" text-anchor="middle" fill="#000" stroke="#000" stroke-width="0.15">4000</text>
<text x="36.800000000000004" y="319.2" font-size="5.9" text-anchor="end" fill="#000" stroke="#000" stroke-width="0.15">4000</text>
<path d="M50.3 447.6v1.4M43.6 440.9h-1.4M56.8 447.6v1.4M43.6 434.4h-1.4M63.4 447.6v1.4M43.6 427.8h-1.4M69.9 447.6v1.4M43.6 421.3h-1.4M82.9 447.6v1.4M43.6 408.3h-1.4M89.4 447.6v1.4M43.6 401.8h-1.4M96.0 447.6v1.4M43.6 395.2h-1.4M102.5 447.6v1.4M43.6 388.7h-1.4M115.5 447.6v1.4M43.6 375.7h-1.4M122.0 447.6v1.4M43.6 369.2h-1.4M128.6 447.6v1.4M43.6 362.6h-1.4M135.1 447.6v1.4M43.6 356.1h-1.4M148.1 447.6v1.4M43.6 343.1h-1.4M154.6 447.6v1.4M43.6 336.6h-1.4M161.2 447.6v1.4M43.6 330.0h-1.4M167.7 447.6v1.4M43.6 323.5h-1.4" stroke="#444" stroke-width="0.5"/>
<text transform="translate(21.6,378.1) rotate(-90) scale(0.755,1)" font-size="14.8" text-anchor="middle" fill="#000" stroke="#000" stroke-width="0">SSC</text>
<text transform="translate(113.7,472.4) scale(0.78,1)" font-size="14.8" text-anchor="middle" fill="#000" stroke="#000" stroke-width="0">FSC</text>
<rect x="214.5" y="312.9" width="135.3" height="133.70000000000005" fill="none" stroke="#333" stroke-width="0.9"/>
<path d="M215 446C219.2 446.0 233.8 446.1 240 445.8C246.2 445.6 248.3 445.0 252 444.5C255.7 444.0 259.2 443.4 262 442.8C264.8 442.2 266.6 442.0 268.8 441C271.0 440.0 272.8 439.3 275 437C277.2 434.7 280.2 430.2 282 427C283.8 423.8 284.7 422.2 286 418C287.3 413.8 288.8 408.3 290 402C291.2 395.7 292.2 387.8 293 380C293.8 372.2 294.4 362.8 295 355C295.6 347.2 296.0 338.3 296.5 333C297.0 327.7 297.5 325.1 298 323C298.5 320.9 299.0 320.2 299.5 320.5C300.0 320.8 300.5 321.8 301 325C301.5 328.2 301.9 335.2 302.5 340C303.1 344.8 303.8 350.0 304.5 354C305.2 358.0 305.8 362.0 306.5 364C307.2 366.0 307.8 366.0 308.5 366C309.2 366.0 309.8 364.4 310.5 364C311.2 363.6 311.9 362.5 312.5 363.5C313.1 364.5 313.4 365.4 314 370C314.6 374.6 315.3 384.0 316 391C316.7 398.0 317.3 405.8 318 412C318.7 418.2 319.3 423.7 320 428C320.7 432.3 321.2 435.4 322 438C322.8 440.6 323.5 442.2 324.5 443.5C325.5 444.8 325.8 445.5 328 446C330.2 446.5 336.3 446.2 338 446.3" fill="none" stroke="#111" stroke-width="0.85"/>
<rect x="214.7" y="313.2" width="54.10000000000001" height="133.20000000000005" fill="none" stroke="#000" stroke-width="1.15"/>
<path d="M214.5 446.8 h-3.2" stroke="#222" stroke-width="0.7"/>
<text x="207.9" y="449.0" font-size="5.8" text-anchor="end" fill="#000" stroke="#000" stroke-width="0.15">0</text>
<path d="M214.5 420.9 h-3.2" stroke="#222" stroke-width="0.7"/>
<text x="207.9" y="423.1" font-size="5.8" text-anchor="end" fill="#000" stroke="#000" stroke-width="0.15">1000</text>
<path d="M214.5 395.0 h-3.2" stroke="#222" stroke-width="0.7"/>
<text x="207.9" y="397.2" font-size="5.8" text-anchor="end" fill="#000" stroke="#000" stroke-width="0.15">2000</text>
<path d="M214.5 369.1 h-3.2" stroke="#222" stroke-width="0.7"/>
<text x="207.9" y="371.3" font-size="5.8" text-anchor="end" fill="#000" stroke="#000" stroke-width="0.15">3000</text>
<path d="M214.5 343.2 h-3.2" stroke="#222" stroke-width="0.7"/>
<text x="207.9" y="345.4" font-size="5.8" text-anchor="end" fill="#000" stroke="#000" stroke-width="0.15">4000</text>
<path d="M214.5 317.3 h-3.2" stroke="#222" stroke-width="0.7"/>
<text x="207.9" y="319.5" font-size="5.8" text-anchor="end" fill="#000" stroke="#000" stroke-width="0.15">5000</text>
<path d="M229 446.6 v2.4" stroke="#333" stroke-width="0.6"/>
<text transform="translate(228.8,458.3) scale(0.86,1)" font-size="6.2" text-anchor="middle" fill="#000" stroke="#000" stroke-width="0.3">0</text>
<path d="M243 446.6 v2.4" stroke="#333" stroke-width="0.6"/>
<text transform="translate(242.8,458.3) scale(0.86,1)" font-size="6.2" text-anchor="middle" fill="#000" stroke="#000" stroke-width="0.3">10<tspan dy="-2.4" font-size="4.5">2</tspan></text>
<path d="M275.2 446.6 v2.4" stroke="#333" stroke-width="0.6"/>
<text transform="translate(275.0,458.3) scale(0.86,1)" font-size="6.2" text-anchor="middle" fill="#000" stroke="#000" stroke-width="0.3">10<tspan dy="-2.4" font-size="4.5">3</tspan></text>
<path d="M306.3 446.6 v2.4" stroke="#333" stroke-width="0.6"/>
<text transform="translate(306.1,458.3) scale(0.86,1)" font-size="6.2" text-anchor="middle" fill="#000" stroke="#000" stroke-width="0.3">10<tspan dy="-2.4" font-size="4.5">4</tspan></text>
<path d="M335.2 446.6 v2.4" stroke="#333" stroke-width="0.6"/>
<text transform="translate(335.0,458.3) scale(0.86,1)" font-size="6.2" text-anchor="middle" fill="#000" stroke="#000" stroke-width="0.3">10<tspan dy="-2.4" font-size="4.5">5</tspan></text>
<path d="M216 446.6v1.3M218.5 446.6v1.3M221 446.6v1.3M223 446.6v1.3M225 446.6v1.3M226.5 446.6v1.3M232 446.6v1.3M235 446.6v1.3M237.5 446.6v1.3M240 446.6v1.3M252 446.6v1.3M258 446.6v1.3M262 446.6v1.3M265 446.6v1.3M267.5 446.6v1.3M269.5 446.6v1.3M271.5 446.6v1.3M273.5 446.6v1.3M284.5 446.6v1.3M290 446.6v1.3M294 446.6v1.3M297 446.6v1.3M299.5 446.6v1.3M301.5 446.6v1.3M303.3 446.6v1.3M305 446.6v1.3M315.5 446.6v1.3M321 446.6v1.3M325 446.6v1.3M328 446.6v1.3M330.5 446.6v1.3M332.5 446.6v1.3M334 446.6v1.3M340 446.6v1.3" stroke="#444" stroke-width="0.5"/>
<path d="M214.5 441.6h-1.4M214.5 436.4h-1.4M214.5 431.3h-1.4M214.5 426.1h-1.4M214.5 415.7h-1.4M214.5 410.5h-1.4M214.5 405.4h-1.4M214.5 400.2h-1.4M214.5 389.8h-1.4M214.5 384.6h-1.4M214.5 379.5h-1.4M214.5 374.3h-1.4M214.5 363.9h-1.4M214.5 358.7h-1.4M214.5 353.6h-1.4M214.5 348.4h-1.4M214.5 338.0h-1.4M214.5 332.8h-1.4M214.5 327.7h-1.4M214.5 322.5h-1.4" stroke="#444" stroke-width="0.5"/>
<text transform="translate(283.2,474.2) scale(0.93,1)" font-size="14.8" text-anchor="middle" fill="#000" stroke="#000" stroke-width="0">lineage</text>
<clipPath id="c3"><rect x="384.3" y="311.6" width="133.40000000000003" height="133.89999999999998"/></clipPath>
<g clip-path="url(#c3)">
<path d="M384.3 342.7 429.8 342.7 449.8 343.8 455.3 344.2 464.8 346.3 470.3 347.8 479.8 352.4 482.3 353.8 485.1 356.1 486.5 358.1 486.6 359.6 485.3 361.6 483.6 363.1 481.3 364.4 476.8 366.3 469.8 368.3 461.8 371.5 455.2 373.6 452.8 374.7 450.8 375.8 448.3 377.9 446.3 380.2 441.3 388.3 435.2 400.1 436.1 409.6 437.7 420.1 437.9 426.1 437.8 430.1 437.3 434.1 435.2 445.6M384.3 417.4 387.8 405.1 389.3 402.1 390.8 400.4 391.8 399.9 392.8 400.0 398.3 402.4 400.3 402.7 402.3 402.7 405.8 402.1 408.3 401.4 410.3 400.4 412.3 398.6 413.8 396.5 414.5 394.6 414.6 393.1 413.6 390.1 413.5 388.6 414.0 386.6 416.0 382.6 416.2 381.6 416.1 381.1 415.6 380.6 414.7 380.1 411.8 379.6 402.3 379.8 399.7 380.1 398.7 380.6 398.1 381.6 397.9 382.6 397.6 387.6 396.7 390.6 394.8 393.7 392.8 395.8 391.3 396.5 389.8 396.3 386.8 394.8 384.3 393.0M390.0 445.6 388.2 443.1 386.4 440.1 385.4 437.6 384.3 434.3M384.3 343.1 429.8 343.1 454.8 344.5 463.3 346.4 470.3 348.3 480.8 354.1 482.6 355.6 483.7 357.1 483.9 358.6 483.0 360.6 481.6 362.1 479.3 363.5 475.3 365.0 466.4 367.1 459.6 369.1 455.3 370.6 451.5 372.6 449.3 374.1 447.1 376.1 445.3 378.3 443.3 381.5 438.8 389.3 433.3 400.1 434.0 408.6 435.2 420.1 435.5 426.6 434.8 433.1 432.3 445.6M393.7 445.6 390.7 441.6 388.6 437.6 386.7 432.1 385.7 427.6 385.5 424.1 386.0 421.1 387.0 417.6 388.8 412.5 389.8 410.2 390.8 408.5 391.8 407.4 392.8 406.7 394.8 406.3 400.8 406.2 405.8 405.2 409.8 403.7 411.3 402.7 412.8 401.4 415.3 398.0 416.3 396.1 416.8 394.6 417.0 393.6 416.9 392.6 415.4 389.6 415.2 388.6 415.3 387.6 416.1 385.6 418.9 381.6 419.1 380.6 419.1 380.1 418.4 379.1 417.3 378.5 415.8 378.0 413.3 377.6 399.3 377.4 396.3 377.8 394.8 378.6 394.4 379.6 394.5 380.6 395.5 384.1 395.6 386.6 394.9 389.1 393.6 391.1 391.8 392.3 390.8 392.7 389.3 392.8 387.8 392.4 386.8 392.0 385.4 391.1 384.3 390.0M384.3 343.4 429.8 343.4 454.8 344.9 463.3 346.8 469.8 348.7 476.9 353.1 478.7 354.6 479.7 356.1 480.2 358.1 479.9 359.6 478.6 361.1 476.3 362.5 471.8 363.8 455.3 366.9 453.5 367.6 451.8 368.5 448.3 371.2 446.2 373.1 444.2 375.6 441.8 379.4 436.8 388.3 430.5 400.1 430.7 404.6 432.2 420.1 432.4 427.1 432.2 430.1 431.5 433.6 430.1 440.1 428.7 445.6M399.1 445.6 396.5 443.1 394.3 440.3 392.5 437.1 390.8 433.1 389.6 429.1 389.1 425.6 389.2 422.6 390.0 419.6 391.1 417.1 392.3 415.2 393.3 414.0 394.8 412.7 396.8 411.7 404.3 409.6 409.3 407.7 412.8 405.6 415.3 403.1 416.6 401.1 418.6 397.6 419.6 395.1 420.1 393.1 420.2 391.1 419.8 390.3 418.1 388.1 418.2 386.6 418.8 385.6 422.2 382.1 422.9 380.6 422.8 379.1 422.0 377.6 420.8 376.6 418.8 375.8 415.5 375.1 411.3 374.7 403.8 374.8 396.8 374.4 390.8 374.4 388.3 374.1 384.3 373.3M390.3 388.7 389.3 388.9 387.8 388.5 386.8 387.7 386.2 386.6 386.1 385.1 386.4 384.1 387.3 383.0 388.3 382.5 389.3 382.4 390.3 382.7 391.3 383.5 391.9 384.6 392.1 386.1 391.9 387.1 391.3 388.0 390.3 388.7M384.3 343.7 429.8 343.7 450.3 344.8 455.3 345.2 464.3 347.4 469.4 349.1 470.9 350.1 473.7 352.6 476.3 355.3 477.5 357.1 477.6 358.6 477.2 359.6 475.8 360.9 473.8 361.8 470.8 362.7 465.3 363.8 453.8 365.2 451.1 366.1 448.7 367.6 444.8 371.7 442.8 374.4 435.1 387.6 431.3 394.5 428.0 399.6 427.7 400.1 427.8 402.6 429.4 412.6 430.3 423.1 430.4 427.1 429.9 431.1 428.3 438.1 427.2 441.6 425.6 445.6M404.4 445.6 401.3 443.6 398.8 441.4 396.6 438.6 394.8 435.6 393.2 431.6 392.3 428.1 392.1 425.1 392.5 422.1 393.3 420.3 394.4 418.6 395.7 417.1 397.3 415.8 399.8 414.4 408.7 410.6 412.7 408.6 415.5 406.6 418.2 403.6 419.7 401.1 421.0 398.1 421.7 396.1 423.0 391.1 423.4 386.6 424.3 385.1 425.4 382.1 425.6 380.1 425.4 378.6 424.5 376.6 423.3 375.3 421.8 374.4 419.3 373.7 411.3 372.7 402.3 372.7 393.3 372.1 389.3 371.6 384.3 370.5M384.3 343.8 429.8 343.8 454.8 345.3 463.3 347.4 467.9 349.1 469.0 350.1 469.0 350.6 468.7 351.6 469.0 352.1 472.8 354.4 474.3 355.6 475.4 357.1 475.6 358.1 475.2 359.1 474.2 360.1 472.3 361.1 470.3 361.7 466.8 362.5 461.8 363.3 451.8 363.9 449.8 364.5 448.3 365.3 445.8 367.6 442.3 372.4 437.8 380.0 433.1 387.1 429.8 392.6 427.8 394.9 426.3 395.8 425.8 395.7 425.4 395.1 425.2 393.1 425.9 390.1 427.6 385.1 427.9 382.6 427.9 380.6 427.5 378.1 426.8 376.3 425.7 374.6 424.3 373.4 422.8 372.6 420.9 372.1 412.8 371.1 408.8 370.8 400.8 370.9 394.3 370.3 389.8 369.5 384.3 367.8M409.0 445.6 405.8 443.9 402.7 441.6 400.2 439.1 397.9 436.1 396.3 433.1 395.1 429.6 394.8 426.6 395.2 424.1 396.1 422.1 397.6 420.1 399.5 418.1 401.8 416.3 405.7 414.1 415.3 409.6 421.3 405.8 422.8 405.4 423.8 405.8 424.8 406.7 425.8 408.3 426.8 410.8 427.3 413.1 428.3 420.1 428.7 424.1 428.8 426.6 428.6 429.1 428.2 431.6 426.1 438.6 424.3 442.4 421.9 445.6M384.3 344.0 429.8 344.0 447.3 344.9 454.8 345.5 460.8 346.9 465.6 348.6 466.8 349.6 466.7 350.1 465.4 351.1 465.4 351.6 466.8 352.6 471.6 355.1 473.2 356.6 473.6 357.6 473.4 358.6 472.3 359.7 470.4 360.6 467.3 361.5 463.8 362.1 459.8 362.6 450.3 362.7 448.8 363.0 447.3 363.6 445.8 364.9 443.7 367.6 436.3 379.3 434.3 381.6 433.3 382.4 432.3 382.8 431.8 382.7 431.3 382.4 430.8 381.6 429.1 376.6 427.7 374.1 425.8 372.1 423.8 371.1 420.8 370.4 410.3 369.4 400.8 369.3 395.8 368.8 390.8 367.8 384.3 365.5M417.3 444.7 415.8 445.0 414.3 445.0 411.3 444.4 407.8 442.8 404.8 440.6 401.3 437.1 399.1 434.1 397.0 429.6 396.6 428.1 396.6 426.6 397.2 424.6 398.8 422.4 402.5 418.6 405.8 416.1 409.3 414.2 413.3 412.7 419.3 410.8 420.8 410.5 421.8 410.6 422.8 410.9 423.8 411.7 424.6 413.1 425.2 414.6 426.6 420.1 427.1 423.1 427.4 426.1 427.3 428.6 426.8 431.1 425.8 434.5 424.6 437.6 423.3 440.0 422.1 441.6 420.8 442.9 419.3 443.9 417.3 444.7M384.3 344.1 429.8 344.1 445.8 344.9 454.8 345.6 460.7 347.1 463.5 348.1 464.4 348.6 464.9 349.1 464.9 349.6 462.8 350.6 462.3 351.1 462.4 351.6 463.9 352.6 469.5 355.1 471.3 356.6 471.6 357.6 471.2 358.6 469.9 359.6 467.8 360.4 464.8 361.2 458.8 361.8 449.3 361.4 447.8 361.6 446.3 362.1 445.0 363.1 444.1 364.1 440.6 370.1 436.8 375.8 435.3 377.4 433.8 378.2 432.8 378.0 432.2 377.6 429.2 373.1 427.8 371.5 426.3 370.4 424.3 369.6 421.3 369.1 415.8 368.7 408.8 367.8 400.3 367.6 395.3 367.1 390.8 366.0 384.3 363.3M415.8 442.7 414.3 442.8 412.8 442.7 409.8 441.8 407.3 440.2 403.3 436.8 401.3 434.6 398.5 429.6 397.9 428.1 397.9 426.6 398.4 425.1 399.3 424.0 401.7 422.1 405.4 418.6 408.3 416.6 410.8 415.4 413.3 414.6 416.3 414.1 419.3 414.1 420.8 414.5 421.9 415.1 422.8 416.1 424.0 418.1 424.8 420.1 425.8 423.7 426.1 426.1 426.0 428.6 425.5 431.1 424.6 433.6 423.3 436.4 421.9 438.6 420.8 439.9 419.3 441.2 417.8 442.0 415.8 442.7M384.3 344.2 429.8 344.2 448.8 345.2 454.8 345.7 460.0 347.1 462.6 348.1 463.2 348.6 463.4 349.1 462.8 349.6 460.0 350.6 459.7 351.1 460.0 351.6 461.8 352.8 466.3 354.7 468.2 355.6 469.3 356.6 469.6 357.6 469.0 358.6 467.2 359.6 464.8 360.3 461.3 360.9 456.8 361.0 448.3 360.0 446.8 360.1 445.3 360.6 443.9 361.6 442.8 362.9 441.3 366.1 438.9 370.1 437.3 372.3 435.8 373.9 434.3 374.6 433.8 374.5 432.8 374.1 428.8 370.1 426.9 369.1 424.8 368.4 422.3 367.9 414.8 367.4 407.8 366.5 399.8 366.0 394.8 365.4 390.8 364.3 386.3 362.1 384.3 361.3M414.8 440.7 412.3 440.6 410.3 440.0 408.3 438.8 403.3 435.2 402.0 433.6 400.8 430.9 399.3 428.7 398.9 427.1 399.2 426.1 399.9 425.1 403.2 423.1 406.3 420.0 408.3 418.5 409.8 417.7 411.8 417.0 413.3 416.7 415.3 416.6 417.3 416.8 419.3 417.3 420.8 418.2 422.3 419.6 423.3 421.3 424.3 423.6 424.7 425.6 424.8 427.6 424.6 429.6 423.8 432.1 422.8 434.2 421.3 436.5 419.8 438.1 418.3 439.3 416.8 440.1 414.8 440.7M384.3 344.3 429.8 344.3 448.3 345.3 454.8 345.9 459.4 347.1 461.6 348.1 462.1 348.6 461.9 349.1 458.4 350.1 457.4 350.6 457.3 351.1 457.6 351.6 459.0 352.6 466.5 356.1 467.3 357.0 467.3 357.6 467.1 358.1 466.5 358.6 465.3 359.1 462.8 359.8 459.3 360.2 456.8 360.2 454.3 359.8 447.3 358.3 445.8 358.2 444.8 358.4 443.3 359.4 442.2 360.6 440.8 363.1 439.7 366.1 437.3 369.4 435.8 370.8 434.3 371.2 433.3 371.0 428.3 368.3 424.3 367.1 421.3 366.7 414.3 366.3 407.3 365.2 398.3 364.3 393.8 363.6 390.9 362.6 386.3 360.2 384.3 359.4M415.3 438.2 412.8 438.5 410.8 438.1 404.3 434.7 403.6 434.1 402.8 433.1 401.9 430.1 400.7 428.6 400.2 427.6 400.3 426.6 400.7 426.1 401.3 425.7 403.3 425.1 404.3 424.5 407.8 420.6 409.8 419.4 411.8 418.8 413.3 418.7 415.3 418.9 417.3 419.4 419.3 420.2 420.8 421.4 421.8 422.6 422.8 424.4 423.3 426.1 423.4 427.6 423.2 429.6 422.4 431.6 421.3 433.6 419.8 435.4 418.4 436.6 416.8 437.6 415.3 438.2M384.3 344.4 429.8 344.4 447.8 345.4 454.8 346.0 457.2 346.6 460.0 347.6 460.7 348.1 460.9 348.6 460.2 349.1 455.4 350.1 454.7 350.6 454.6 351.1 454.9 351.6 456.8 352.9 463.6 356.1 464.5 357.1 464.5 357.6 464.0 358.1 462.8 358.7 460.3 359.3 457.3 359.3 453.3 358.6 450.6 357.6 446.8 355.8 445.3 355.4 444.3 355.5 442.8 356.4 441.3 358.5 439.0 363.1 437.9 366.1 435.8 368.1 434.8 368.5 433.8 368.6 432.3 368.4 427.8 366.9 424.8 366.2 413.8 365.3 394.8 362.0 391.8 361.1 386.8 358.3 384.3 357.3M412.3 436.6 410.3 436.4 405.1 434.1 403.9 433.1 403.4 431.6 403.6 430.1 404.2 428.6 406.1 425.6 408.0 422.1 408.8 421.3 409.8 420.7 410.8 420.4 412.3 420.2 413.8 420.3 415.3 420.8 417.6 422.1 419.3 423.3 420.9 425.1 421.4 426.1 421.6 427.6 421.5 429.1 420.9 430.6 420.3 431.6 419.0 433.1 417.3 434.5 415.5 435.6 413.8 436.4 412.3 436.6M384.3 344.5 429.8 344.5 436.3 344.8 448.3 345.5 454.7 346.1 458.2 347.1 459.3 347.6 459.8 348.1 459.7 348.6 458.8 348.9 454.3 349.6 449.8 350.8 448.3 350.9 443.8 350.5 442.5 350.6 441.8 351.0 441.5 351.6 440.4 355.6 439.3 358.6 435.9 365.6 435.3 366.3 433.3 366.8 431.3 366.6 424.8 365.2 413.8 364.5 402.1 362.1 393.8 359.7 391.8 358.7 387.8 356.2 384.3 354.9M458.8 358.2 456.3 358.0 453.3 357.1 452.4 356.6 451.3 355.6 450.8 354.6 450.8 353.6 451.8 353.2 452.8 353.3 456.8 354.6 459.4 355.6 460.7 356.6 460.9 357.1 460.3 357.8 458.8 358.2M412.3 435.1 411.3 435.2 409.8 434.8 407.8 433.8 405.7 433.1 405.0 432.6 404.8 432.1 404.8 431.6 405.3 430.6 407.1 429.1 408.1 427.6 408.5 426.1 408.6 423.6 409.1 422.6 410.3 421.6 411.8 421.2 413.6 421.6 415.1 422.6 417.8 426.6 418.2 428.1 417.7 429.6 415.8 431.7 414.4 433.6 413.4 434.6 412.3 435.1M384.3 344.6 429.8 344.6 435.8 344.9 453.7 346.1 455.3 346.4 457.6 347.1 458.5 347.6 458.8 348.1 458.3 348.5 457.8 348.7 451.8 349.5 448.8 349.6 440.3 349.5 437.8 349.6 435.5 350.1 437.3 351.7 438.1 353.1 438.4 355.1 438.1 357.1 437.1 360.1 435.3 363.0 433.8 364.4 432.8 364.9 431.8 365.0 424.8 364.3 415.8 364.0 411.3 363.3 404.8 361.7 400.8 360.4 396.9 358.6 395.4 357.6 394.5 356.6 393.9 355.1 394.1 354.1 394.5 353.6 395.8 353.1 400.3 352.5 403.2 351.6 405.9 350.1 406.2 349.6 405.7 349.1 402.3 348.7 398.1 349.1 394.8 350.1 392.3 351.9 390.8 352.3 387.8 352.4 384.3 352.0M412.8 424.8 411.8 425.1 410.8 424.7 410.3 424.1 410.2 423.6 410.4 423.1 411.3 422.5 412.3 422.5 412.8 422.7 413.2 423.1 413.4 423.6 413.3 424.2 412.8 424.8M411.3 433.7 410.6 433.6 409.8 433.2 409.1 432.1 409.5 431.1 410.1 430.6 410.8 430.3 411.8 430.4 412.3 430.9 412.7 431.6 412.6 432.6 412.4 433.1 411.8 433.6 411.3 433.7M384.3 344.7 402.8 344.8 420.8 344.7 429.8 344.7 435.8 345.0 452.7 346.1 455.3 346.5 456.9 347.1 457.6 347.6 457.7 348.1 456.3 348.5 450.8 349.1 433.8 348.9 430.6 349.1 429.8 349.4 429.6 349.6 429.9 350.1 433.8 351.8 435.3 352.8 436.3 354.2 436.7 356.1 436.5 357.6 436.0 359.1 435.2 360.6 434.3 361.8 433.3 362.7 432.3 363.2 430.8 363.5 429.3 363.6 417.3 363.4 413.3 362.9 408.8 361.9 404.8 360.8 402.0 359.6 400.4 358.6 399.2 357.1 399.1 356.1 399.4 355.6 400.6 354.6 408.0 350.6 409.4 349.6 409.3 349.1 408.3 348.8 405.3 348.3 401.8 348.1 392.8 349.0 384.3 349.3M384.3 344.8 402.8 344.9 430.3 344.9 451.6 346.1 455.0 346.6 456.2 347.1 456.8 347.6 456.3 348.1 450.8 348.8 430.3 348.4 427.5 348.6 424.8 349.1 424.6 349.6 430.8 351.9 433.3 353.3 434.2 354.1 434.8 355.1 435.1 356.1 435.1 357.1 434.7 358.6 433.9 360.1 433.0 361.1 431.8 361.9 430.8 362.2 428.8 362.6 423.3 362.7 416.3 362.6 411.3 361.8 407.3 360.8 404.8 359.8 402.8 358.6 401.9 357.6 401.7 356.6 401.9 356.1 402.6 355.1 403.9 354.1 408.8 351.4 411.3 350.5 414.7 349.6 414.8 349.1 408.0 348.1 403.3 347.8 392.3 348.5 384.3 348.6M384.3 344.9 402.8 345.0 430.3 345.0 450.5 346.1 454.1 346.6 455.4 347.1 455.8 347.6 453.8 348.2 449.8 348.5 430.3 348.0 422.8 348.4 417.8 348.4 402.8 347.5 393.3 348.0 384.3 348.2M428.3 361.6 423.8 362.0 418.8 362.1 415.8 361.9 412.8 361.5 408.8 360.5 405.8 359.3 404.2 358.1 403.6 357.1 403.6 356.6 404.0 355.6 405.8 354.0 408.8 352.3 411.3 351.5 413.8 351.0 416.8 350.8 421.8 350.7 424.8 351.1 427.8 351.9 430.8 353.3 432.6 354.6 433.5 356.1 433.6 357.1 433.4 358.1 432.9 359.1 432.3 359.9 430.8 360.9 428.3 361.6M384.3 344.9 402.8 345.2 418.3 345.0 430.3 345.1 449.1 346.1 453.1 346.6 454.5 347.1 454.6 347.6 452.8 348.1 449.3 348.3 430.3 347.6 422.3 347.9 416.8 347.9 403.3 347.2 392.3 347.8 384.3 347.9M425.3 361.1 421.8 361.4 417.8 361.4 414.8 361.2 412.3 360.8 409.3 359.9 406.8 358.8 405.4 357.6 405.2 356.6 405.6 355.6 407.2 354.1 409.3 353.0 411.8 352.2 413.8 351.8 416.8 351.7 421.8 351.7 424.8 352.0 427.3 352.8 429.9 354.1 431.5 355.6 432.0 357.1 431.5 358.6 430.3 359.7 428.3 360.6 425.3 361.1M384.3 345.0 394.3 345.1 402.8 345.4 417.3 345.1 429.8 345.2 447.4 346.1 451.9 346.6 453.4 347.1 453.3 347.6 452.8 347.7 449.3 348.0 430.3 347.4 416.3 347.6 403.3 347.0 393.3 347.5 384.3 347.6M422.8 360.6 416.3 360.7 413.8 360.4 411.3 359.9 409.1 359.1 407.4 358.1 406.7 357.1 406.7 356.1 407.3 355.2 408.0 354.6 409.8 353.6 412.3 352.8 415.3 352.5 421.8 352.6 424.3 352.9 427.3 353.9 428.5 354.6 429.6 355.6 430.1 356.6 430.0 357.6 429.4 358.6 428.8 359.1 426.3 360.1 422.8 360.6M384.3 345.1 393.3 345.2 402.8 345.6 418.3 345.2 429.8 345.3 444.8 346.1 450.4 346.6 452.0 347.1 451.5 347.6 448.3 347.8 430.3 347.1 416.3 347.3 403.3 346.7 393.3 347.3 384.3 347.4M423.8 359.7 421.3 360.0 417.8 360.1 415.3 359.9 412.8 359.5 410.8 359.0 409.0 358.1 408.1 357.1 408.1 356.1 408.8 355.1 409.8 354.5 411.3 353.8 412.8 353.5 416.8 353.3 421.8 353.4 423.8 353.7 425.3 354.1 426.8 354.9 427.6 355.6 428.1 356.6 427.9 357.6 426.9 358.6 425.8 359.1 423.8 359.7M384.3 345.3 395.3 345.4 398.9 345.6 401.8 346.1 399.0 346.6 394.3 347.0 384.3 347.2M449.8 347.2 446.8 347.4 429.8 346.8 416.8 347.1 407.5 346.6 404.3 346.1 408.3 345.6 416.3 345.4 430.3 345.5 448.2 346.6 450.2 347.1 449.8 347.2M421.3 359.1 416.3 359.2 412.8 358.8 411.3 358.3 410.1 357.6 409.7 357.1 409.5 356.6 409.6 356.1 410.5 355.1 411.6 354.6 413.3 354.2 415.3 354.1 422.8 354.5 424.6 355.1 425.8 356.1 425.9 356.6 425.9 357.1 425.0 358.1 423.3 358.8 421.3 359.1M384.3 345.5 394.8 345.5 396.1 345.6 398.2 346.1 396.4 346.6 394.3 346.8 384.3 346.9M441.8 346.7 438.3 346.9 429.8 346.5 417.8 346.8 412.1 346.6 409.3 346.1 414.2 345.6 421.3 345.5 438.2 346.1 442.1 346.6 441.8 346.7M419.8 358.1 416.8 358.3 414.2 358.1 412.5 357.6 411.7 357.1 411.4 356.6 411.5 356.1 412.3 355.5 413.8 355.1 415.3 355.0 421.7 355.6 422.8 356.1 423.2 356.6 423.0 357.1 422.3 357.6 419.8 358.1" fill="none" stroke="#111" stroke-width="0.72"/>
<path d="M447.2 417.2h1.0M484.9 400.2h1.0M445.4 408.8h1.0M476.1 430.9h1.0M447.3 385.4h1.0M480.0 419.0h1.0M494.1 428.7h1.0M466.3 404.8h1.0M454.7 388.4h1.0M469.6 412.8h1.0M462.1 408.8h1.0M472.6 423.2h1.0M486.6 414.0h1.0M443.9 406.7h1.0M442.9 410.0h1.0M454.8 414.1h1.0M482.3 384.9h1.0M463.1 422.6h1.0M466.4 417.0h1.0M469.8 390.9h1.0M477.6 394.6h1.0M499.8 400.4h1.0M479.7 410.0h1.0M484.2 398.6h1.0M485.0 407.6h1.0M489.5 421.9h1.0M470.4 395.2h1.0M481.1 418.9h1.0M495.9 402.8h1.0M477.4 419.7h1.0M472.8 414.0h1.0M471.1 398.6h1.0M450.8 402.5h1.0M478.0 438.7h1.0M484.6 430.0h1.0M481.2 423.3h1.0M471.1 424.7h1.0M498.2 403.8h1.0M472.2 428.4h1.0M482.9 388.4h1.0M471.0 424.3h1.0M470.2 393.2h1.0M466.1 417.1h1.0M487.0 423.5h1.0M469.0 435.7h1.0M455.1 425.1h1.0M486.9 404.5h1.0M472.0 420.0h1.0M494.3 390.9h1.0M468.0 422.3h1.0M485.1 392.6h1.0M461.0 414.2h1.0M469.9 439.6h1.0M456.4 401.0h1.0M480.3 437.1h1.0M479.1 415.7h1.0M457.6 399.9h1.0M478.0 403.6h1.0M481.4 411.6h1.0M462.3 412.2h1.0M475.3 426.3h1.0M459.9 405.6h1.0M444.8 440.5h1.0M492.7 406.6h1.0M459.9 386.5h1.0M470.9 413.9h1.0M492.0 413.6h1.0M440.6 413.4h1.0M487.0 420.9h1.0M465.9 380.5h1.0M452.6 433.2h1.0M495.9 387.6h1.0M441.9 426.7h1.0M482.5 391.3h1.0M456.2 396.8h1.0M447.8 397.1h1.0M489.3 423.1h1.0M465.7 391.3h1.0M465.9 385.1h1.0M492.5 425.9h1.0M490.7 414.8h1.0M455.8 411.6h1.0M461.6 388.9h1.0M439.2 381.8h1.0M467.9 412.9h1.0M459.9 437.2h1.0M471.0 421.1h1.0M488.7 394.4h1.0M456.3 434.9h1.0M473.7 429.1h1.0M480.2 397.2h1.0M455.1 401.7h1.0M481.1 426.8h1.0M485.2 378.5h1.0M466.3 421.4h1.0M455.0 414.7h1.0M471.9 429.1h1.0M454.0 394.2h1.0M486.5 407.7h1.0M471.8 412.2h1.0M471.5 406.0h1.0M462.3 386.1h1.0M457.1 441.4h1.0M477.1 411.2h1.0M464.3 411.2h1.0M474.0 397.7h1.0M471.3 414.6h1.0M455.3 395.0h1.0M451.0 389.8h1.0M463.5 398.4h1.0M457.5 411.9h1.0M487.2 411.5h1.0M465.6 398.4h1.0M465.8 427.3h1.0M461.3 388.2h1.0M446.5 389.0h1.0M444.4 430.9h1.0M474.0 405.5h1.0M492.8 397.5h1.0M480.8 425.2h1.0M441.7 380.4h1.0M452.2 427.2h1.0M490.0 386.7h1.0M485.8 402.7h1.0M461.3 399.5h1.0M462.5 375.5h1.0M451.0 386.5h1.0M438.7 402.3h1.0M477.7 396.2h1.0M483.9 420.2h1.0M440.4 399.9h1.0M463.9 410.4h1.0M470.2 403.6h1.0M471.2 398.9h1.0M452.8 438.8h1.0M474.1 418.3h1.0M440.9 406.8h1.0M481.9 385.5h1.0M486.7 402.6h1.0M474.8 407.5h1.0M471.7 432.9h1.0M461.1 439.7h1.0M454.7 392.3h1.0M480.1 389.7h1.0M432.3 429.9h1.0M435.7 433.5h1.0M434.0 437.9h1.0M441.6 409.1h1.0M434.0 409.8h1.0M435.2 407.7h1.0M431.9 438.0h1.0M435.5 408.5h1.0M431.2 411.6h1.0M439.3 406.9h1.0M435.4 410.0h1.0M435.7 401.9h1.0M444.5 392.5h1.0M434.5 405.8h1.0M435.9 428.0h1.0M435.3 433.5h1.0M435.9 387.4h1.0M435.6 415.2h1.0M435.3 425.7h1.0M439.1 376.5h1.0M435.4 419.7h1.0M439.5 395.9h1.0M436.6 381.8h1.0M437.6 422.5h1.0M440.6 391.3h1.0M441.0 387.9h1.0M433.9 399.4h1.0M436.2 401.9h1.0M436.7 388.3h1.0M434.8 416.0h1.0M431.0 430.3h1.0M432.4 414.8h1.0M435.6 423.2h1.0M432.0 427.7h1.0M439.7 395.5h1.0M431.3 435.0h1.0M435.2 432.7h1.0M449.5 383.7h1.0M438.3 391.9h1.0M444.1 381.3h1.0M435.4 426.3h1.0M436.3 383.2h1.0M436.1 376.2h1.0M441.0 388.1h1.0M429.7 437.9h1.0M404.0 319.5h1.0M425.0 323.0h1.0M420.5 330.0h1.0M465.8 329.6h1.0M458.0 371.0h1.0M462.0 373.5h1.0M470.0 369.5h1.0M482.0 370.5h1.0M487.5 361.0h1.0M488.5 362.0h1.0" stroke="#111" stroke-width="1.0" fill="none"/>
</g>
<rect x="384.3" y="311.6" width="133.40000000000003" height="133.89999999999998" fill="none" stroke="#333" stroke-width="0.9"/>
<rect x="455.3" y="335.3" width="55.2" height="41.2" fill="none" stroke="#000" stroke-width="1.2"/>
<path d="M384.3 324.5 h-4" stroke="#222" stroke-width="0.7"/>
<text transform="translate(376.3,327.0) scale(0.86,1)" font-size="6.2" text-anchor="end" fill="#000" stroke="#000" stroke-width="0.3">10<tspan dy="-2.4" font-size="4.5">5</tspan></text>
<path d="M384.3 353.8 h-4" stroke="#222" stroke-width="0.7"/>
<text transform="translate(376.3,356.3) scale(0.86,1)" font-size="6.2" text-anchor="end" fill="#000" stroke="#000" stroke-width="0.3">10<tspan dy="-2.4" font-size="4.5">4</tspan></text>
<path d="M384.3 385 h-4" stroke="#222" stroke-width="0.7"/>
<text transform="translate(376.3,387.5) scale(0.86,1)" font-size="6.2" text-anchor="end" fill="#000" stroke="#000" stroke-width="0.3">10<tspan dy="-2.4" font-size="4.5">3</tspan></text>
<path d="M384.3 416.5 h-4" stroke="#222" stroke-width="0.7"/>
<text transform="translate(376.3,419.0) scale(0.86,1)" font-size="6.2" text-anchor="end" fill="#000" stroke="#000" stroke-width="0.3">10<tspan dy="-2.4" font-size="4.5">2</tspan></text>
<path d="M384.3 431.2 h-4" stroke="#222" stroke-width="0.7"/>
<text transform="translate(376.3,433.7) scale(0.86,1)" font-size="6.2" text-anchor="end" fill="#000" stroke="#000" stroke-width="0.3">0</text>
<path d="M397.7 445.5 v2.4" stroke="#333" stroke-width="0.6"/>
<text transform="translate(397.4,456.8) scale(0.86,1)" font-size="6.2" text-anchor="middle" fill="#000" stroke="#000" stroke-width="0.3">0</text>
<path d="M411.5 445.5 v2.4" stroke="#333" stroke-width="0.6"/>
<text transform="translate(411.2,456.8) scale(0.86,1)" font-size="6.2" text-anchor="middle" fill="#000" stroke="#000" stroke-width="0.3">10<tspan dy="-2.4" font-size="4.5">2</tspan></text>
<path d="M444.4 445.5 v2.4" stroke="#333" stroke-width="0.6"/>
<text transform="translate(444.1,456.8) scale(0.86,1)" font-size="6.2" text-anchor="middle" fill="#000" stroke="#000" stroke-width="0.3">10<tspan dy="-2.4" font-size="4.5">3</tspan></text>
<path d="M475.3 445.5 v2.4" stroke="#333" stroke-width="0.6"/>
<text transform="translate(475.0,456.8) scale(0.86,1)" font-size="6.2" text-anchor="middle" fill="#000" stroke="#000" stroke-width="0.3">10<tspan dy="-2.4" font-size="4.5">4</tspan></text>
<path d="M505.3 445.5 v2.4" stroke="#333" stroke-width="0.6"/>
<text transform="translate(505.0,456.8) scale(0.86,1)" font-size="6.2" text-anchor="middle" fill="#000" stroke="#000" stroke-width="0.3">10<tspan dy="-2.4" font-size="4.5">5</tspan></text>
<path d="M385.5 445.5v1.3M388 445.5v1.3M390 445.5v1.3M392 445.5v1.3M394 445.5v1.3M395.5 445.5v1.3M400.5 445.5v1.3M403.5 445.5v1.3M406 445.5v1.3M408.5 445.5v1.3M421 445.5v1.3M427 445.5v1.3M431 445.5v1.3M434 445.5v1.3M436.5 445.5v1.3M438.5 445.5v1.3M440.5 445.5v1.3M442.5 445.5v1.3M453.5 445.5v1.3M459 445.5v1.3M463 445.5v1.3M466 445.5v1.3M468.5 445.5v1.3M470.5 445.5v1.3M472.3 445.5v1.3M474 445.5v1.3M484.5 445.5v1.3M490 445.5v1.3M494 445.5v1.3M497 445.5v1.3M499.5 445.5v1.3M501.5 445.5v1.3M503 445.5v1.3M509 445.5v1.3M513 445.5v1.3M384.3 315h-1.3M384.3 318h-1.3M384.3 320.5h-1.3M384.3 322.5h-1.3M384.3 333h-1.3M384.3 338.5h-1.3M384.3 342.5h-1.3M384.3 345.5h-1.3M384.3 348h-1.3M384.3 350h-1.3M384.3 351.5h-1.3M384.3 353h-1.3M384.3 363h-1.3M384.3 368.5h-1.3M384.3 372.5h-1.3M384.3 375.5h-1.3M384.3 378h-1.3M384.3 380h-1.3M384.3 382h-1.3M384.3 383.7h-1.3M384.3 394h-1.3M384.3 399.5h-1.3M384.3 403.5h-1.3M384.3 406.5h-1.3M384.3 409h-1.3M384.3 411.5h-1.3M384.3 413.5h-1.3M384.3 415.2h-1.3M384.3 420h-1.3M384.3 423h-1.3M384.3 426h-1.3M384.3 428.5h-1.3M384.3 434h-1.3M384.3 436.5h-1.3M384.3 438.5h-1.3M384.3 440.5h-1.3M384.3 442h-1.3M384.3 443.5h-1.3" stroke="#444" stroke-width="0.5"/>
<text transform="translate(363.6,379.3) rotate(-90) scale(0.807,1)" font-size="14.8" text-anchor="middle" fill="#000" stroke="#000" stroke-width="0">Sca1</text>
<text transform="translate(456.8,473.2) scale(1.0,1)" font-size="14.8" text-anchor="middle" fill="#000" stroke="#000" stroke-width="0">c-kit</text>
<text transform="translate(0,500.7) scale(0.9,1)" font-size="26" font-weight="bold" fill="#000" stroke="#000" stroke-width="0.3">D</text>
<rect x="81.3"  y="509.5" width="188.4" height="25.3" fill="#000"/>
<rect x="81.3"  y="545.9" width="169.4" height="25.3" fill="#000"/>
<path d="M269 521.8 H326.5 M250 558.7 H281.8 M326.3 520.8 v2 M281.6 557.7 v2" stroke="#111" stroke-width="1"/>
<path d="M81.6 503 V576.5 H336" fill="none" stroke="#111" stroke-width="1.1"/>
<text x="79.3" y="525.7" font-size="13.65" text-anchor="end">Thymectomy</text>
<text x="79.3" y="562.8" font-size="13.65" text-anchor="end">Sham</text>
<text transform="translate(85.9,578) rotate(-90)" font-size="13.6" text-anchor="end">0</text>
<text transform="translate(149.4,578) rotate(-90)" font-size="13.6" text-anchor="end">0.02</text>
<text transform="translate(213.0,578) rotate(-90)" font-size="13.6" text-anchor="end">0.04</text>
<text transform="translate(276.6,578) rotate(-90)" font-size="13.6" text-anchor="end">0.06</text>
<text transform="translate(340.1,578) rotate(-90)" font-size="13.6" text-anchor="end">0.08</text>
<text x="205" y="623.4" font-size="16.55" text-anchor="middle">Frequency of LSK cells</text>
</svg></body></html>
